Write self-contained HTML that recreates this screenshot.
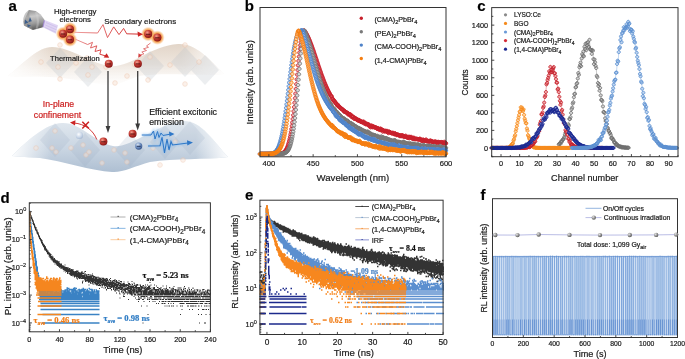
<!DOCTYPE html>
<html><head><meta charset="utf-8"><title>figure</title>
<style>html,body{margin:0;padding:0;background:#fff;overflow:hidden}svg{display:block;will-change:transform}text{stroke-width:0.2px}text:not([stroke]){stroke:#1a1a1a}</style>
</head><body><svg width="685" height="359" viewBox="0 0 685 359" font-family='"Liberation Sans", sans-serif' fill="#1a1a1a"><text x="8.6" y="10.6" font-size="15" font-weight="bold" fill="#000">a</text><text x="244.8" y="10.7" font-size="15" font-weight="bold" fill="#000">b</text><text x="477.2" y="10.6" font-size="15" font-weight="bold" fill="#000">c</text><text x="0.6" y="202.6" font-size="15" font-weight="bold" fill="#000">d</text><text x="245" y="200" font-size="15" font-weight="bold" fill="#000">e</text><text x="480.6" y="199.8" font-size="15" font-weight="bold" fill="#000">f</text><defs>
<linearGradient id="beige" x1="0" y1="0" x2="0" y2="1"><stop offset="0" stop-color="#e2d5c8"/><stop offset="0.5" stop-color="#efe7df"/><stop offset="1" stop-color="#fbf9f7" stop-opacity="0.3"/></linearGradient>
<linearGradient id="beigeH" x1="0" y1="0" x2="1" y2="0"><stop offset="0" stop-color="#fff" stop-opacity="0.9"/><stop offset="0.2" stop-color="#fff" stop-opacity="0"/><stop offset="0.8" stop-color="#fff" stop-opacity="0"/><stop offset="1" stop-color="#fff" stop-opacity="0.9"/></linearGradient>
<linearGradient id="bluesheet" x1="0" y1="0" x2="0" y2="1"><stop offset="0" stop-color="#e1e8ef"/><stop offset="0.55" stop-color="#c9d5e2"/><stop offset="1" stop-color="#aebfd2"/></linearGradient>
<linearGradient id="blueH" x1="0" y1="0" x2="1" y2="0"><stop offset="0" stop-color="#fff" stop-opacity="0.95"/><stop offset="0.18" stop-color="#fff" stop-opacity="0"/><stop offset="0.85" stop-color="#fff" stop-opacity="0"/><stop offset="1" stop-color="#fff" stop-opacity="0.95"/></linearGradient>
<radialGradient id="eball" cx="0.38" cy="0.32" r="0.75"><stop offset="0" stop-color="#f4a090"/><stop offset="0.45" stop-color="#c43a32"/><stop offset="1" stop-color="#7a1010"/></radialGradient>
<radialGradient id="hball" cx="0.38" cy="0.32" r="0.75"><stop offset="0" stop-color="#dce6f4"/><stop offset="0.5" stop-color="#6f8fc0"/><stop offset="1" stop-color="#2c4a80"/></radialGradient>
<radialGradient id="ghost" cx="0.4" cy="0.35" r="0.7"><stop offset="0" stop-color="#ffffff"/><stop offset="0.6" stop-color="#c9d6e8"/><stop offset="1" stop-color="#9fb3cf"/></radialGradient>
<radialGradient id="glow" cx="0.5" cy="0.5" r="0.5"><stop offset="0.5" stop-color="#f39238"/><stop offset="0.72" stop-color="#f7b06a" stop-opacity="0.85"/><stop offset="1" stop-color="#fbd3a8" stop-opacity="0"/></radialGradient>
<linearGradient id="gun" x1="0.2" y1="0" x2="0.4" y2="1"><stop offset="0" stop-color="#8e8e8e"/><stop offset="0.35" stop-color="#c9c9c9"/><stop offset="0.7" stop-color="#9a9a9a"/><stop offset="1" stop-color="#5a5a5a"/></linearGradient>
<linearGradient id="redline" gradientUnits="userSpaceOnUse" x1="75" y1="0" x2="140" y2="0"><stop offset="0" stop-color="#eea0a0"/><stop offset="0.5" stop-color="#e06060"/><stop offset="1" stop-color="#d02828"/></linearGradient><linearGradient id="redline2" gradientUnits="userSpaceOnUse" x1="75" y1="39" x2="108" y2="57"><stop offset="0" stop-color="#eea0a0"/><stop offset="1" stop-color="#d02828"/></linearGradient>
<filter id="blur1" x="-20%" y="-50%" width="140%" height="200%"><feGaussianBlur stdDeviation="1.1"/></filter>
</defs><path d="M8 76 C 25 62, 38 47, 52 47 C 70 47, 92 64, 110 66 C 130 68, 150 46, 178 44 C 196 43, 210 60, 224 74 C 200 76, 160 72, 140 76 C 125 80, 118 86, 110 85 C 95 84, 70 78, 50 77 C 30 76, 18 77, 8 76 Z" fill="url(#beige)"/><path d="M8 76 C 25 62, 38 47, 52 47 C 70 47, 92 64, 110 66 C 130 68, 150 46, 178 44 C 196 43, 210 60, 224 74 C 200 76, 160 72, 140 76 C 125 80, 118 86, 110 85 C 95 84, 70 78, 50 77 C 30 76, 18 77, 8 76 Z" fill="url(#beigeH)"/><path d="M60 48L74 63L60 78L46 63Z" fill="#b4bcc6" opacity="0.26"/><path d="M88 57L102 72L88 87L74 72Z" fill="#b4bcc6" opacity="0.26"/><path d="M150 51L164 66L150 81L136 66Z" fill="#b4bcc6" opacity="0.26"/><path d="M185 47L199 62L185 77L171 62Z" fill="#b4bcc6" opacity="0.26"/><path d="M205 55L219 70L205 85L191 70Z" fill="#b4bcc6" opacity="0.26"/><circle cx="41" cy="62" r="2.3" fill="#f8e6da" stroke="#ecbfa4" stroke-width="0.8" opacity="0.55"/><circle cx="60" cy="45" r="2.3" fill="#f8e6da" stroke="#ecbfa4" stroke-width="0.8" opacity="0.55"/><circle cx="60" cy="79" r="2.3" fill="#f8e6da" stroke="#ecbfa4" stroke-width="0.8" opacity="0.55"/><circle cx="58" cy="67" r="2.3" fill="#f8e6da" stroke="#ecbfa4" stroke-width="0.8" opacity="0.55"/><circle cx="76" cy="63" r="2.3" fill="#f8e6da" stroke="#ecbfa4" stroke-width="0.8" opacity="0.55"/><circle cx="87" cy="58" r="2.3" fill="#f8e6da" stroke="#ecbfa4" stroke-width="0.8" opacity="0.55"/><circle cx="88" cy="75" r="2.3" fill="#f8e6da" stroke="#ecbfa4" stroke-width="0.8" opacity="0.55"/><circle cx="92" cy="67" r="2.3" fill="#f8e6da" stroke="#ecbfa4" stroke-width="0.8" opacity="0.55"/><circle cx="106" cy="67" r="2.3" fill="#f8e6da" stroke="#ecbfa4" stroke-width="0.8" opacity="0.55"/><circle cx="127" cy="76" r="2.3" fill="#f8e6da" stroke="#ecbfa4" stroke-width="0.8" opacity="0.55"/><circle cx="148" cy="80" r="2.3" fill="#f8e6da" stroke="#ecbfa4" stroke-width="0.8" opacity="0.55"/><circle cx="135" cy="65" r="2.3" fill="#f8e6da" stroke="#ecbfa4" stroke-width="0.8" opacity="0.55"/><circle cx="150" cy="57" r="2.3" fill="#f8e6da" stroke="#ecbfa4" stroke-width="0.8" opacity="0.55"/><circle cx="170" cy="65" r="2.3" fill="#f8e6da" stroke="#ecbfa4" stroke-width="0.8" opacity="0.55"/><circle cx="185" cy="45" r="2.3" fill="#f8e6da" stroke="#ecbfa4" stroke-width="0.8" opacity="0.55"/><circle cx="185" cy="84" r="2.3" fill="#f8e6da" stroke="#ecbfa4" stroke-width="0.8" opacity="0.55"/><circle cx="199" cy="62" r="2.3" fill="#f8e6da" stroke="#ecbfa4" stroke-width="0.8" opacity="0.55"/><circle cx="115" cy="83" r="2.3" fill="#f8e6da" stroke="#ecbfa4" stroke-width="0.8" opacity="0.55"/><path d="M12 156 C 28 140, 45 124, 62 123 C 80 122, 96 143, 113 146 C 130 149, 160 122, 184 121 C 202 121, 214 142, 228 157 C 205 160, 175 158, 150 162 C 135 166, 122 173, 112 172 C 92 171, 62 161, 40 158 C 28 157, 20 157, 12 156 Z" fill="url(#bluesheet)"/><path d="M12 156 C 28 140, 45 124, 62 123 C 80 122, 96 143, 113 146 C 130 149, 160 122, 184 121 C 202 121, 214 142, 228 157 C 205 160, 175 158, 150 162 C 135 166, 122 173, 112 172 C 92 171, 62 161, 40 158 C 28 157, 20 157, 12 156 Z" fill="url(#blueH)"/><path d="M55 123L70 140L55 157L40 140Z" fill="#8ea2ba" opacity="0.16"/><path d="M85 133L100 150L85 167L70 150Z" fill="#8ea2ba" opacity="0.16"/><path d="M130 133L145 150L130 167L115 150Z" fill="#8ea2ba" opacity="0.16"/><path d="M165 125L180 142L165 159L150 142Z" fill="#8ea2ba" opacity="0.16"/><path d="M190 121L205 138L190 155L175 138Z" fill="#8ea2ba" opacity="0.16"/><circle cx="36" cy="148" r="2.3" fill="#f8e6da" stroke="#ecbfa4" stroke-width="0.8" opacity="0.5"/><circle cx="55" cy="131" r="2.3" fill="#f8e6da" stroke="#ecbfa4" stroke-width="0.8" opacity="0.5"/><circle cx="52" cy="148" r="2.3" fill="#f8e6da" stroke="#ecbfa4" stroke-width="0.8" opacity="0.5"/><circle cx="56" cy="152" r="2.3" fill="#f8e6da" stroke="#ecbfa4" stroke-width="0.8" opacity="0.5"/><circle cx="71" cy="148" r="2.3" fill="#f8e6da" stroke="#ecbfa4" stroke-width="0.8" opacity="0.5"/><circle cx="83" cy="145" r="2.3" fill="#f8e6da" stroke="#ecbfa4" stroke-width="0.8" opacity="0.5"/><circle cx="86" cy="155" r="2.3" fill="#f8e6da" stroke="#ecbfa4" stroke-width="0.8" opacity="0.5"/><circle cx="89" cy="152" r="2.3" fill="#f8e6da" stroke="#ecbfa4" stroke-width="0.8" opacity="0.5"/><circle cx="102" cy="163" r="2.3" fill="#f8e6da" stroke="#ecbfa4" stroke-width="0.8" opacity="0.5"/><circle cx="114" cy="150" r="2.3" fill="#f8e6da" stroke="#ecbfa4" stroke-width="0.8" opacity="0.5"/><circle cx="125" cy="153" r="2.3" fill="#f8e6da" stroke="#ecbfa4" stroke-width="0.8" opacity="0.5"/><circle cx="127" cy="162" r="2.3" fill="#f8e6da" stroke="#ecbfa4" stroke-width="0.8" opacity="0.5"/><circle cx="153" cy="148" r="2.3" fill="#f8e6da" stroke="#ecbfa4" stroke-width="0.8" opacity="0.5"/><circle cx="160" cy="165" r="2.3" fill="#f8e6da" stroke="#ecbfa4" stroke-width="0.8" opacity="0.5"/><circle cx="175" cy="142" r="2.3" fill="#f8e6da" stroke="#ecbfa4" stroke-width="0.8" opacity="0.5"/><circle cx="183" cy="160" r="2.3" fill="#f8e6da" stroke="#ecbfa4" stroke-width="0.8" opacity="0.5"/><path d="M29 10 L35.7 11.1 L40.7 14.5 L44.6 20 L42.9 27.3 L32.9 30.1 L24 25.6 L23.4 21.7 Z" fill="url(#gun)"/><path d="M29 10 C 25 12, 22.5 18, 23.4 21.7 L24 25.6 C 27 27, 30 29, 32.9 30.1 C 30 25, 29.5 16, 29 10 Z" fill="#8d8d8d" opacity="0.5"/><path d="M36 12 C 38 17, 38.5 24, 36.5 29" stroke="#d8d8d8" stroke-width="2.2" fill="none" opacity="0.35"/><path d="M25 19.5 L28.5 22.5 L24.6 24 Z M30 17 L31.8 21.3 L28.4 22 Z M27.2 24.2 L31 25.4 L27.8 27.6 Z" fill="#3d5f8c"/><path d="M44.6 20 L58 25.2 L55.8 33.8 L42.9 27.3 Z" fill="#dccff2" opacity="0.9"/><path d="M44.4 20.3 L43 27.2" stroke="#9b7fcf" stroke-width="1.2" opacity="0.8"/><path d="M46 22.6 L57 27.3 M45.3 25 L56.4 29.8 M44.7 27.3 L55.8 32.2" stroke="#b9a8de" stroke-width="0.5" opacity="0.8"/><circle cx="70" cy="29.2" r="7.4" fill="url(#glow)"/><circle cx="63.1" cy="33.8" r="7.4" fill="url(#glow)"/><circle cx="70" cy="39.6" r="7.4" fill="url(#glow)"/><circle cx="148.2" cy="34.1" r="7.4" fill="url(#glow)"/><circle cx="157.4" cy="37.6" r="7.4" fill="url(#glow)"/><path d="M74.6 32.3 L97.6 33 L103 24.6 L107.5 37.6 L113.7 26.9 L119 34.6 L123.6 28.4 L126.7 33.8 L139 34.1" stroke="url(#redline)" stroke-width="1.0" fill="none" stroke-linejoin="miter"/><path d="M143 34.2 L137.5 31.4 L138 36.8 Z" fill="#cc2424"/><path d="M75.3 39.2 L87.6 44.5 L92.5 42.3 L90.5 48 L96.8 45.8 L95 51.5 L101 49.8 L99.8 54.2 L105.8 56" stroke="url(#redline2)" stroke-width="1.0" fill="none"/><path d="M109.2 57.8 L103.6 57.6 L106.6 53.3 Z" fill="#cc2424"/><path d="M150.5 43 L146.5 46 L148.5 47.3 L143.5 48.8 L146.5 50.5 L141.8 52 L144 53.8 L140 55" stroke="#e07070" stroke-width="0.9" fill="none"/><path d="M138.2 57.8 L138.6 53.2 L141.8 55.8 Z" fill="#d44040"/><path d="M108 71 V127" stroke="#3b3b3b" stroke-width="1.3"/><path d="M108 133 L105.6 126 L110.4 126 Z" fill="#3b3b3b"/><path d="M137.7 71 V124" stroke="#3b3b3b" stroke-width="1.3"/><path d="M137.7 130.5 L135.3 123.5 L140.1 123.5 Z" fill="#3b3b3b"/><circle cx="70" cy="29.2" r="4" fill="url(#eball)"/><path d="M67.8 29.4h4.4" stroke="#3a0808" stroke-width="0.9" opacity="0.85"/><circle cx="63.1" cy="33.8" r="4" fill="url(#eball)"/><path d="M60.9 34h4.4" stroke="#3a0808" stroke-width="0.9" opacity="0.85"/><circle cx="70" cy="39.6" r="4" fill="url(#eball)"/><path d="M67.8 39.8h4.4" stroke="#3a0808" stroke-width="0.9" opacity="0.85"/><circle cx="148.2" cy="34.1" r="4" fill="url(#eball)"/><path d="M146 34.3h4.4" stroke="#3a0808" stroke-width="0.9" opacity="0.85"/><circle cx="157.4" cy="37.6" r="4" fill="url(#eball)"/><path d="M155.2 37.8h4.4" stroke="#3a0808" stroke-width="0.9" opacity="0.85"/><circle cx="108.8" cy="63.7" r="4" fill="url(#eball)"/><path d="M106.6 63.9h4.4" stroke="#3a0808" stroke-width="0.9" opacity="0.85"/><circle cx="137.9" cy="63.7" r="4" fill="url(#eball)"/><path d="M135.7 63.9h4.4" stroke="#3a0808" stroke-width="0.9" opacity="0.85"/><circle cx="103.4" cy="141.6" r="4" fill="url(#eball)"/><path d="M101.2 141.8h4.4" stroke="#3a0808" stroke-width="0.9" opacity="0.85"/><circle cx="132.6" cy="133.8" r="4" fill="url(#eball)"/><path d="M130.4 134h4.4" stroke="#3a0808" stroke-width="0.9" opacity="0.85"/><circle cx="138.7" cy="146.1" r="3.6" fill="url(#hball)"/><path d="M136.72 146.3h3.96" stroke="#1a2a50" stroke-width="0.9"/><circle cx="79.4" cy="135.4" r="3.6" fill="url(#ghost)" opacity="0.9"/><path d="M96.8 139.5 C 93 130, 85 124, 74 123" stroke="#d23a3a" stroke-width="1.0" fill="none"/><path d="M70 122.5 L75.5 120.2 L75 125.6 Z" fill="#cc2424"/><path d="M82.3 121.8 L88.9 128.6 M88.9 121.8 L82.3 128.6" stroke="#cc2020" stroke-width="1.5"/><g filter="url(#blur1)" opacity="0.6"><path d="M141.8 135 L151 135 L153.5 131 L155 139 L157.5 131.5 L159 137.5 L161 133 L163 135.5 L170 134.2" stroke="#8fc0f0" stroke-width="2.6" fill="none"/><path d="M148 146 L160 145.8 L162 137 L164.5 153 L167 139 L169 150 L171 141.5 L172.5 145 L188 143" stroke="#8fc0f0" stroke-width="2.6" fill="none"/></g><path d="M141.8 135 L151 135 L153.5 131 L155 139 L157.5 131.5 L159 137.5 L161 133 L163 135.5 L170 134.2" stroke="#2f78c8" stroke-width="1.0" fill="none"/><path d="M148 146 L160 145.8 L162 137 L164.5 153 L167 139 L169 150 L171 141.5 L172.5 145 L188 143" stroke="#2f78c8" stroke-width="1.1" fill="none"/><path d="M174.5 133.9 L169 131.6 L169.5 136.6 Z M193 142.6 L187 140.2 L187.3 145.4 Z" fill="#2f78c8"/><text x="75.2" y="13.6" font-size="7.8" text-anchor="middle" >High-energy</text><text x="75.2" y="22.4" font-size="7.8" text-anchor="middle" >electrons</text><text x="104.2" y="24" font-size="7.9" >Secondary electrons</text><text x="50.1" y="61.4" font-size="7.56" >Thermalization</text><text x="58.5" y="107.3" font-size="8.7" text-anchor="middle" fill="#cc2020" stroke="#cc2020" >In-plane</text><text x="57.5" y="117.6" font-size="8.7" text-anchor="middle" fill="#cc2020" stroke="#cc2020" >confinement</text><text x="149.2" y="114.5" font-size="8.8" >Efficient excitonic</text><text x="149.2" y="124.6" font-size="8.8" >emission</text><g stroke-width="0.9"><path d="M260 152.3a1.7 1.7 0 1 0 0.01 0zM260.44 152.3a1.7 1.7 0 1 0 0.01 0zM260.88 152.3a1.7 1.7 0 1 0 0.01 0zM261.32 152.3a1.7 1.7 0 1 0 0.01 0zM261.77 152.3a1.7 1.7 0 1 0 0.01 0zM262.21 152.3a1.7 1.7 0 1 0 0.01 0zM262.65 152.3a1.7 1.7 0 1 0 0.01 0zM263.1 152.3a1.7 1.7 0 1 0 0.01 0zM263.54 152.3a1.7 1.7 0 1 0 0.01 0zM263.98 152.3a1.7 1.7 0 1 0 0.01 0zM264.42 152.3a1.7 1.7 0 1 0 0.01 0zM264.87 152.3a1.7 1.7 0 1 0 0.01 0zM265.31 152.3a1.7 1.7 0 1 0 0.01 0zM265.75 152.3a1.7 1.7 0 1 0 0.01 0zM266.19 152.3a1.7 1.7 0 1 0 0.01 0zM266.64 152.3a1.7 1.7 0 1 0 0.01 0zM267.08 152.3a1.7 1.7 0 1 0 0.01 0zM267.52 152.3a1.7 1.7 0 1 0 0.01 0zM267.97 152.3a1.7 1.7 0 1 0 0.01 0zM268.41 152.3a1.7 1.7 0 1 0 0.01 0zM268.85 152.3a1.7 1.7 0 1 0 0.01 0zM269.3 152.3a1.7 1.7 0 1 0 0.01 0zM269.74 152.3a1.7 1.7 0 1 0 0.01 0zM270.18 152.3a1.7 1.7 0 1 0 0.01 0zM270.62 152.3a1.7 1.7 0 1 0 0.01 0zM271.07 152.3a1.7 1.7 0 1 0 0.01 0zM271.51 152.3a1.7 1.7 0 1 0 0.01 0zM271.95 152.3a1.7 1.7 0 1 0 0.01 0zM272.39 152.3a1.7 1.7 0 1 0 0.01 0zM272.84 152.3a1.7 1.7 0 1 0 0.01 0zM273.28 152.3a1.7 1.7 0 1 0 0.01 0zM273.72 152.3a1.7 1.7 0 1 0 0.01 0zM274.17 152.29a1.7 1.7 0 1 0 0.01 0zM274.61 152.29a1.7 1.7 0 1 0 0.01 0zM275.05 152.29a1.7 1.7 0 1 0 0.01 0zM275.5 152.29a1.7 1.7 0 1 0 0.01 0zM275.94 152.28a1.7 1.7 0 1 0 0.01 0zM276.38 152.27a1.7 1.7 0 1 0 0.01 0zM276.82 152.27a1.7 1.7 0 1 0 0.01 0zM277.27 152.26a1.7 1.7 0 1 0 0.01 0zM277.71 152.24a1.7 1.7 0 1 0 0.01 0zM278.15 152.22a1.7 1.7 0 1 0 0.01 0zM278.6 152.2a1.7 1.7 0 1 0 0.01 0zM279.04 152.17a1.7 1.7 0 1 0 0.01 0zM279.48 152.13a1.7 1.7 0 1 0 0.01 0zM279.92 152.08a1.7 1.7 0 1 0 0.01 0zM280.37 152.02a1.7 1.7 0 1 0 0.01 0zM280.81 151.95a1.7 1.7 0 1 0 0.01 0zM281.25 151.85a1.7 1.7 0 1 0 0.01 0zM281.69 151.74a1.7 1.7 0 1 0 0.01 0zM282.14 151.59a1.7 1.7 0 1 0 0.01 0zM282.58 151.42a1.7 1.7 0 1 0 0.01 0zM283.02 151.21a1.7 1.7 0 1 0 0.01 0zM283.47 150.95a1.7 1.7 0 1 0 0.01 0zM283.91 150.65a1.7 1.7 0 1 0 0.01 0zM284.35 150.28a1.7 1.7 0 1 0 0.01 0zM284.8 149.85a1.7 1.7 0 1 0 0.01 0zM285.24 149.34a1.7 1.7 0 1 0 0.01 0zM285.68 148.74a1.7 1.7 0 1 0 0.01 0zM286.12 148.04a1.7 1.7 0 1 0 0.01 0zM286.57 147.22a1.7 1.7 0 1 0 0.01 0zM287.01 146.29a1.7 1.7 0 1 0 0.01 0zM287.45 145.21a1.7 1.7 0 1 0 0.01 0zM287.89 143.98a1.7 1.7 0 1 0 0.01 0zM288.34 142.59a1.7 1.7 0 1 0 0.01 0zM288.78 141.02a1.7 1.7 0 1 0 0.01 0zM289.22 139.26a1.7 1.7 0 1 0 0.01 0zM289.67 137.3a1.7 1.7 0 1 0 0.01 0zM290.11 135.12a1.7 1.7 0 1 0 0.01 0zM290.55 132.73a1.7 1.7 0 1 0 0.01 0zM291 130.1a1.7 1.7 0 1 0 0.01 0zM291.44 127.25a1.7 1.7 0 1 0 0.01 0zM291.88 124.16a1.7 1.7 0 1 0 0.01 0zM292.32 120.84a1.7 1.7 0 1 0 0.01 0zM292.77 117.29a1.7 1.7 0 1 0 0.01 0zM293.21 113.52a1.7 1.7 0 1 0 0.01 0zM293.65 109.55a1.7 1.7 0 1 0 0.01 0zM294.1 105.38a1.7 1.7 0 1 0 0.01 0zM294.54 101.04a1.7 1.7 0 1 0 0.01 0zM294.98 96.55a1.7 1.7 0 1 0 0.01 0zM295.42 91.94a1.7 1.7 0 1 0 0.01 0zM295.87 87.24a1.7 1.7 0 1 0 0.01 0zM296.31 82.49a1.7 1.7 0 1 0 0.01 0zM296.75 77.71a1.7 1.7 0 1 0 0.01 0zM297.19 72.96a1.7 1.7 0 1 0 0.01 0zM297.64 68.27a1.7 1.7 0 1 0 0.01 0zM298.08 63.67a1.7 1.7 0 1 0 0.01 0zM298.52 59.22a1.7 1.7 0 1 0 0.01 0zM298.97 54.95a1.7 1.7 0 1 0 0.01 0zM299.41 50.91a1.7 1.7 0 1 0 0.01 0zM299.85 47.12a1.7 1.7 0 1 0 0.01 0zM300.3 43.63a1.7 1.7 0 1 0 0.01 0zM300.74 40.47a1.7 1.7 0 1 0 0.01 0zM301.18 37.66a1.7 1.7 0 1 0 0.01 0zM301.62 35.22a1.7 1.7 0 1 0 0.01 0zM302.07 33.17a1.7 1.7 0 1 0 0.01 0zM302.51 31.52a1.7 1.7 0 1 0 0.01 0zM302.95 30.27a1.7 1.7 0 1 0 0.01 0zM303.39 29.42a1.7 1.7 0 1 0 0.01 0zM303.84 28.94a1.7 1.7 0 1 0 0.01 0zM304.28 28.8a1.7 1.7 0 1 0 0.01 0zM304.72 29.42a1.7 1.7 0 1 0 0.01 0zM305.17 30.08a1.7 1.7 0 1 0 0.01 0zM305.61 30.78a1.7 1.7 0 1 0 0.01 0zM306.05 31.52a1.7 1.7 0 1 0 0.01 0zM306.5 32.31a1.7 1.7 0 1 0 0.01 0zM306.94 33.13a1.7 1.7 0 1 0 0.01 0zM307.38 34a1.7 1.7 0 1 0 0.01 0zM307.82 34.91a1.7 1.7 0 1 0 0.01 0zM308.27 35.85a1.7 1.7 0 1 0 0.01 0zM308.71 36.83a1.7 1.7 0 1 0 0.01 0zM309.15 37.85a1.7 1.7 0 1 0 0.01 0zM309.6 38.9a1.7 1.7 0 1 0 0.01 0zM310.04 39.98a1.7 1.7 0 1 0 0.01 0zM310.48 41.09a1.7 1.7 0 1 0 0.01 0zM310.92 42.23a1.7 1.7 0 1 0 0.01 0zM311.37 43.4a1.7 1.7 0 1 0 0.01 0zM311.81 44.6a1.7 1.7 0 1 0 0.01 0zM312.25 45.82a1.7 1.7 0 1 0 0.01 0zM312.69 47.06a1.7 1.7 0 1 0 0.01 0zM313.14 48.31a1.7 1.7 0 1 0 0.01 0zM313.58 49.59a1.7 1.7 0 1 0 0.01 0zM314.02 50.88a1.7 1.7 0 1 0 0.01 0zM314.47 52.18a1.7 1.7 0 1 0 0.01 0zM314.91 53.5a1.7 1.7 0 1 0 0.01 0zM315.35 54.82a1.7 1.7 0 1 0 0.01 0zM315.8 56.15a1.7 1.7 0 1 0 0.01 0zM316.24 57.48a1.7 1.7 0 1 0 0.01 0zM316.68 58.82a1.7 1.7 0 1 0 0.01 0zM317.12 60.15a1.7 1.7 0 1 0 0.01 0zM317.57 61.48a1.7 1.7 0 1 0 0.01 0zM318.01 62.81a1.7 1.7 0 1 0 0.01 0zM318.45 64.14a1.7 1.7 0 1 0 0.01 0zM318.89 65.45a1.7 1.7 0 1 0 0.01 0zM319.34 66.76a1.7 1.7 0 1 0 0.01 0zM319.78 68.06a1.7 1.7 0 1 0 0.01 0zM320.22 69.34a1.7 1.7 0 1 0 0.01 0zM320.67 70.61a1.7 1.7 0 1 0 0.01 0zM321.11 71.87a1.7 1.7 0 1 0 0.01 0zM321.55 73.11a1.7 1.7 0 1 0 0.01 0zM322 74.33a1.7 1.7 0 1 0 0.01 0zM322.44 75.53a1.7 1.7 0 1 0 0.01 0zM322.88 76.72a1.7 1.7 0 1 0 0.01 0zM323.32 77.88a1.7 1.7 0 1 0 0.01 0zM323.77 79.02a1.7 1.7 0 1 0 0.01 0zM324.21 80.14a1.7 1.7 0 1 0 0.01 0zM324.65 81.24a1.7 1.7 0 1 0 0.01 0zM325.1 82.32a1.7 1.7 0 1 0 0.01 0zM325.54 83.37a1.7 1.7 0 1 0 0.01 0zM325.98 84.4a1.7 1.7 0 1 0 0.01 0zM326.42 85.4a1.7 1.7 0 1 0 0.01 0zM326.87 86.38a1.7 1.7 0 1 0 0.01 0zM327.31 87.33a1.7 1.7 0 1 0 0.01 0zM327.75 88.27a1.7 1.7 0 1 0 0.01 0zM328.19 89.17a1.7 1.7 0 1 0 0.01 0zM328.64 90.06a1.7 1.7 0 1 0 0.01 0zM329.08 90.91a1.7 1.7 0 1 0 0.01 0zM329.52 91.75a1.7 1.7 0 1 0 0.01 0zM329.97 92.56a1.7 1.7 0 1 0 0.01 0zM330.41 93.35a1.7 1.7 0 1 0 0.01 0zM330.85 94.12a1.7 1.7 0 1 0 0.01 0zM331.3 94.7a1.7 1.7 0 1 0 0.01 0zM331.74 94.89a1.7 1.7 0 1 0 0.01 0zM332.18 97.01a1.7 1.7 0 1 0 0.01 0zM332.62 97.07a1.7 1.7 0 1 0 0.01 0zM333.07 97.94a1.7 1.7 0 1 0 0.01 0zM333.51 99.14a1.7 1.7 0 1 0 0.01 0zM333.95 98.53a1.7 1.7 0 1 0 0.01 0zM334.39 99.51a1.7 1.7 0 1 0 0.01 0zM334.84 100.05a1.7 1.7 0 1 0 0.01 0zM335.28 101.03a1.7 1.7 0 1 0 0.01 0zM335.72 100.99a1.7 1.7 0 1 0 0.01 0zM336.17 102.02a1.7 1.7 0 1 0 0.01 0zM336.61 102.34a1.7 1.7 0 1 0 0.01 0zM337.05 103.33a1.7 1.7 0 1 0 0.01 0zM337.5 103.88a1.7 1.7 0 1 0 0.01 0zM337.94 103.1a1.7 1.7 0 1 0 0.01 0zM338.38 104.47a1.7 1.7 0 1 0 0.01 0zM338.82 104.54a1.7 1.7 0 1 0 0.01 0zM339.27 105.14a1.7 1.7 0 1 0 0.01 0zM339.71 105.77a1.7 1.7 0 1 0 0.01 0zM340.15 106.23a1.7 1.7 0 1 0 0.01 0zM340.6 106.08a1.7 1.7 0 1 0 0.01 0zM341.04 106.94a1.7 1.7 0 1 0 0.01 0zM341.48 107.26a1.7 1.7 0 1 0 0.01 0zM341.92 107.56a1.7 1.7 0 1 0 0.01 0zM342.37 107.36a1.7 1.7 0 1 0 0.01 0zM342.81 107.97a1.7 1.7 0 1 0 0.01 0zM343.25 108.48a1.7 1.7 0 1 0 0.01 0zM343.69 109.3a1.7 1.7 0 1 0 0.01 0zM344.14 110.05a1.7 1.7 0 1 0 0.01 0zM344.58 109.24a1.7 1.7 0 1 0 0.01 0zM345.02 109.57a1.7 1.7 0 1 0 0.01 0zM345.47 110.44a1.7 1.7 0 1 0 0.01 0zM345.91 110.43a1.7 1.7 0 1 0 0.01 0zM346.35 110.62a1.7 1.7 0 1 0 0.01 0zM346.8 110.91a1.7 1.7 0 1 0 0.01 0zM347.24 111.17a1.7 1.7 0 1 0 0.01 0zM347.68 112.16a1.7 1.7 0 1 0 0.01 0zM348.12 111.48a1.7 1.7 0 1 0 0.01 0zM348.57 113.14a1.7 1.7 0 1 0 0.01 0zM349.01 112.39a1.7 1.7 0 1 0 0.01 0zM349.45 112.86a1.7 1.7 0 1 0 0.01 0zM349.89 112.95a1.7 1.7 0 1 0 0.01 0zM350.34 112.73a1.7 1.7 0 1 0 0.01 0zM350.78 113.2a1.7 1.7 0 1 0 0.01 0zM351.22 114.78a1.7 1.7 0 1 0 0.01 0zM351.67 115.31a1.7 1.7 0 1 0 0.01 0zM352.11 114.34a1.7 1.7 0 1 0 0.01 0zM352.55 115.51a1.7 1.7 0 1 0 0.01 0zM353 115.28a1.7 1.7 0 1 0 0.01 0zM353.44 115.12a1.7 1.7 0 1 0 0.01 0zM353.88 116.6a1.7 1.7 0 1 0 0.01 0zM354.32 117.08a1.7 1.7 0 1 0 0.01 0zM354.77 116.16a1.7 1.7 0 1 0 0.01 0zM355.21 116.52a1.7 1.7 0 1 0 0.01 0zM355.65 116.91a1.7 1.7 0 1 0 0.01 0zM356.1 117.01a1.7 1.7 0 1 0 0.01 0zM356.54 117.7a1.7 1.7 0 1 0 0.01 0zM356.98 118.26a1.7 1.7 0 1 0 0.01 0zM357.42 117.83a1.7 1.7 0 1 0 0.01 0zM357.87 118.46a1.7 1.7 0 1 0 0.01 0zM358.31 119.03a1.7 1.7 0 1 0 0.01 0zM358.75 118.2a1.7 1.7 0 1 0 0.01 0zM359.19 118.71a1.7 1.7 0 1 0 0.01 0zM359.64 118.71a1.7 1.7 0 1 0 0.01 0zM360.08 119.62a1.7 1.7 0 1 0 0.01 0zM360.52 119.68a1.7 1.7 0 1 0 0.01 0zM360.97 120.07a1.7 1.7 0 1 0 0.01 0zM361.41 120.24a1.7 1.7 0 1 0 0.01 0zM361.85 119.92a1.7 1.7 0 1 0 0.01 0zM362.3 120.62a1.7 1.7 0 1 0 0.01 0zM362.74 120.27a1.7 1.7 0 1 0 0.01 0zM363.18 120.5a1.7 1.7 0 1 0 0.01 0zM363.62 119.87a1.7 1.7 0 1 0 0.01 0zM364.07 121.77a1.7 1.7 0 1 0 0.01 0zM364.51 120.85a1.7 1.7 0 1 0 0.01 0zM364.95 121.54a1.7 1.7 0 1 0 0.01 0zM365.39 121.71a1.7 1.7 0 1 0 0.01 0zM365.84 122.62a1.7 1.7 0 1 0 0.01 0zM366.28 122.34a1.7 1.7 0 1 0 0.01 0zM366.72 121.94a1.7 1.7 0 1 0 0.01 0zM367.17 122.55a1.7 1.7 0 1 0 0.01 0zM367.61 122.67a1.7 1.7 0 1 0 0.01 0zM368.05 123.05a1.7 1.7 0 1 0 0.01 0zM368.5 122.53a1.7 1.7 0 1 0 0.01 0zM368.94 123.3a1.7 1.7 0 1 0 0.01 0zM369.38 124.57a1.7 1.7 0 1 0 0.01 0zM369.82 124.01a1.7 1.7 0 1 0 0.01 0zM370.27 124.83a1.7 1.7 0 1 0 0.01 0zM370.71 125.65a1.7 1.7 0 1 0 0.01 0zM371.15 124.49a1.7 1.7 0 1 0 0.01 0zM371.6 123.76a1.7 1.7 0 1 0 0.01 0zM372.04 124.57a1.7 1.7 0 1 0 0.01 0zM372.48 125.36a1.7 1.7 0 1 0 0.01 0zM372.92 125.42a1.7 1.7 0 1 0 0.01 0zM373.37 124.58a1.7 1.7 0 1 0 0.01 0zM373.81 125.23a1.7 1.7 0 1 0 0.01 0zM374.25 125.46a1.7 1.7 0 1 0 0.01 0zM374.69 125.69a1.7 1.7 0 1 0 0.01 0zM375.14 125.82a1.7 1.7 0 1 0 0.01 0zM375.58 125.61a1.7 1.7 0 1 0 0.01 0zM376.02 125.9a1.7 1.7 0 1 0 0.01 0zM376.47 126.24a1.7 1.7 0 1 0 0.01 0zM376.91 127.03a1.7 1.7 0 1 0 0.01 0zM377.35 126.43a1.7 1.7 0 1 0 0.01 0zM377.8 127.18a1.7 1.7 0 1 0 0.01 0zM378.24 126.47a1.7 1.7 0 1 0 0.01 0zM378.68 127.8a1.7 1.7 0 1 0 0.01 0zM379.12 127.4a1.7 1.7 0 1 0 0.01 0zM379.57 127.49a1.7 1.7 0 1 0 0.01 0zM380.01 128.3a1.7 1.7 0 1 0 0.01 0zM380.45 126.96a1.7 1.7 0 1 0 0.01 0zM380.89 127.24a1.7 1.7 0 1 0 0.01 0zM381.34 128.35a1.7 1.7 0 1 0 0.01 0zM381.78 127.89a1.7 1.7 0 1 0 0.01 0zM382.22 128.24a1.7 1.7 0 1 0 0.01 0zM382.67 129.87a1.7 1.7 0 1 0 0.01 0zM383.11 128.6a1.7 1.7 0 1 0 0.01 0zM383.55 128.91a1.7 1.7 0 1 0 0.01 0zM384 128.98a1.7 1.7 0 1 0 0.01 0zM384.44 129.7a1.7 1.7 0 1 0 0.01 0zM384.88 129.45a1.7 1.7 0 1 0 0.01 0zM385.32 129.55a1.7 1.7 0 1 0 0.01 0zM385.77 129.02a1.7 1.7 0 1 0 0.01 0zM386.21 129.58a1.7 1.7 0 1 0 0.01 0zM386.65 129.89a1.7 1.7 0 1 0 0.01 0zM387.1 129.27a1.7 1.7 0 1 0 0.01 0zM387.54 130.44a1.7 1.7 0 1 0 0.01 0zM387.98 130.5a1.7 1.7 0 1 0 0.01 0zM388.42 131.34a1.7 1.7 0 1 0 0.01 0zM388.87 129.8a1.7 1.7 0 1 0 0.01 0zM389.31 130.24a1.7 1.7 0 1 0 0.01 0zM389.75 130.39a1.7 1.7 0 1 0 0.01 0zM390.19 130.65a1.7 1.7 0 1 0 0.01 0zM390.64 131.06a1.7 1.7 0 1 0 0.01 0zM391.08 131.13a1.7 1.7 0 1 0 0.01 0zM391.52 131.49a1.7 1.7 0 1 0 0.01 0zM391.97 131.6a1.7 1.7 0 1 0 0.01 0zM392.41 131.6a1.7 1.7 0 1 0 0.01 0zM392.85 131.01a1.7 1.7 0 1 0 0.01 0zM393.3 131.6a1.7 1.7 0 1 0 0.01 0zM393.74 132.03a1.7 1.7 0 1 0 0.01 0zM394.18 132.41a1.7 1.7 0 1 0 0.01 0zM394.62 132.56a1.7 1.7 0 1 0 0.01 0zM395.07 131.58a1.7 1.7 0 1 0 0.01 0zM395.51 132.24a1.7 1.7 0 1 0 0.01 0zM395.95 132.58a1.7 1.7 0 1 0 0.01 0zM396.39 132.9a1.7 1.7 0 1 0 0.01 0zM396.84 133.4a1.7 1.7 0 1 0 0.01 0zM397.28 133a1.7 1.7 0 1 0 0.01 0zM397.72 132.65a1.7 1.7 0 1 0 0.01 0zM398.17 133.39a1.7 1.7 0 1 0 0.01 0zM398.61 133.43a1.7 1.7 0 1 0 0.01 0zM399.05 133.54a1.7 1.7 0 1 0 0.01 0zM399.5 133.49a1.7 1.7 0 1 0 0.01 0zM399.94 134.44a1.7 1.7 0 1 0 0.01 0zM400.38 133.88a1.7 1.7 0 1 0 0.01 0zM400.82 134.3a1.7 1.7 0 1 0 0.01 0zM401.27 133.55a1.7 1.7 0 1 0 0.01 0zM401.71 134.47a1.7 1.7 0 1 0 0.01 0zM402.15 133.91a1.7 1.7 0 1 0 0.01 0zM402.6 133.55a1.7 1.7 0 1 0 0.01 0zM403.04 134.57a1.7 1.7 0 1 0 0.01 0zM403.48 134.81a1.7 1.7 0 1 0 0.01 0zM403.92 134.53a1.7 1.7 0 1 0 0.01 0zM404.37 134.73a1.7 1.7 0 1 0 0.01 0zM404.81 135.32a1.7 1.7 0 1 0 0.01 0zM405.25 134.7a1.7 1.7 0 1 0 0.01 0zM405.69 134.04a1.7 1.7 0 1 0 0.01 0zM406.14 135.26a1.7 1.7 0 1 0 0.01 0zM406.58 135.33a1.7 1.7 0 1 0 0.01 0zM407.02 135.85a1.7 1.7 0 1 0 0.01 0zM407.47 135.27a1.7 1.7 0 1 0 0.01 0zM407.91 136.14a1.7 1.7 0 1 0 0.01 0zM408.35 136.17a1.7 1.7 0 1 0 0.01 0zM408.8 135.09a1.7 1.7 0 1 0 0.01 0zM409.24 136.26a1.7 1.7 0 1 0 0.01 0zM409.68 135.37a1.7 1.7 0 1 0 0.01 0zM410.12 135.25a1.7 1.7 0 1 0 0.01 0zM410.57 135.97a1.7 1.7 0 1 0 0.01 0zM411.01 135.91a1.7 1.7 0 1 0 0.01 0zM411.45 135.31a1.7 1.7 0 1 0 0.01 0zM411.89 136.47a1.7 1.7 0 1 0 0.01 0zM412.34 136.75a1.7 1.7 0 1 0 0.01 0zM412.78 137.22a1.7 1.7 0 1 0 0.01 0zM413.22 136.62a1.7 1.7 0 1 0 0.01 0zM413.67 135.99a1.7 1.7 0 1 0 0.01 0zM414.11 136.34a1.7 1.7 0 1 0 0.01 0zM414.55 137.36a1.7 1.7 0 1 0 0.01 0zM415 137.41a1.7 1.7 0 1 0 0.01 0zM415.44 137.32a1.7 1.7 0 1 0 0.01 0zM415.88 137.01a1.7 1.7 0 1 0 0.01 0zM416.32 137.34a1.7 1.7 0 1 0 0.01 0zM416.77 137.22a1.7 1.7 0 1 0 0.01 0zM417.21 137.26a1.7 1.7 0 1 0 0.01 0zM417.65 137.63a1.7 1.7 0 1 0 0.01 0zM418.1 137.59a1.7 1.7 0 1 0 0.01 0zM418.54 137.55a1.7 1.7 0 1 0 0.01 0zM418.98 137.77a1.7 1.7 0 1 0 0.01 0zM419.42 137.56a1.7 1.7 0 1 0 0.01 0zM419.87 136.96a1.7 1.7 0 1 0 0.01 0zM420.31 137.67a1.7 1.7 0 1 0 0.01 0zM420.75 138.02a1.7 1.7 0 1 0 0.01 0zM421.2 138.95a1.7 1.7 0 1 0 0.01 0zM421.64 138.01a1.7 1.7 0 1 0 0.01 0zM422.08 139.23a1.7 1.7 0 1 0 0.01 0zM422.52 139.04a1.7 1.7 0 1 0 0.01 0zM422.97 138a1.7 1.7 0 1 0 0.01 0zM423.41 138.15a1.7 1.7 0 1 0 0.01 0zM423.85 138.64a1.7 1.7 0 1 0 0.01 0zM424.29 139.49a1.7 1.7 0 1 0 0.01 0zM424.74 138.9a1.7 1.7 0 1 0 0.01 0zM425.18 139.12a1.7 1.7 0 1 0 0.01 0zM425.62 138.55a1.7 1.7 0 1 0 0.01 0zM426.07 137.82a1.7 1.7 0 1 0 0.01 0zM426.51 138.89a1.7 1.7 0 1 0 0.01 0zM426.95 139.46a1.7 1.7 0 1 0 0.01 0zM427.39 139.72a1.7 1.7 0 1 0 0.01 0zM427.84 139.24a1.7 1.7 0 1 0 0.01 0zM428.28 139.36a1.7 1.7 0 1 0 0.01 0zM428.72 139.91a1.7 1.7 0 1 0 0.01 0zM429.17 139.35a1.7 1.7 0 1 0 0.01 0zM429.61 140.05a1.7 1.7 0 1 0 0.01 0zM430.05 138.99a1.7 1.7 0 1 0 0.01 0zM430.5 139.08a1.7 1.7 0 1 0 0.01 0zM430.94 139.14a1.7 1.7 0 1 0 0.01 0zM431.38 139.97a1.7 1.7 0 1 0 0.01 0zM431.82 139.55a1.7 1.7 0 1 0 0.01 0zM432.27 139.93a1.7 1.7 0 1 0 0.01 0zM432.71 140.12a1.7 1.7 0 1 0 0.01 0zM433.15 140.16a1.7 1.7 0 1 0 0.01 0zM433.6 140.7a1.7 1.7 0 1 0 0.01 0zM434.04 140.83a1.7 1.7 0 1 0 0.01 0zM434.48 139.78a1.7 1.7 0 1 0 0.01 0zM434.92 140.33a1.7 1.7 0 1 0 0.01 0zM435.37 140.19a1.7 1.7 0 1 0 0.01 0zM435.81 139.86a1.7 1.7 0 1 0 0.01 0zM436.25 141.27a1.7 1.7 0 1 0 0.01 0zM436.69 140.86a1.7 1.7 0 1 0 0.01 0zM437.14 140.45a1.7 1.7 0 1 0 0.01 0zM437.58 140.4a1.7 1.7 0 1 0 0.01 0zM438.02 140.84a1.7 1.7 0 1 0 0.01 0zM438.47 140.2a1.7 1.7 0 1 0 0.01 0zM438.91 140.66a1.7 1.7 0 1 0 0.01 0zM439.35 141.42a1.7 1.7 0 1 0 0.01 0zM439.8 141.33a1.7 1.7 0 1 0 0.01 0zM440.24 140.53a1.7 1.7 0 1 0 0.01 0zM440.68 140.76a1.7 1.7 0 1 0 0.01 0zM441.12 141.98a1.7 1.7 0 1 0 0.01 0zM441.57 140.43a1.7 1.7 0 1 0 0.01 0zM442.01 140.85a1.7 1.7 0 1 0 0.01 0zM442.45 140.54a1.7 1.7 0 1 0 0.01 0zM442.89 141.44a1.7 1.7 0 1 0 0.01 0zM443.34 141.45a1.7 1.7 0 1 0 0.01 0zM443.78 141.91a1.7 1.7 0 1 0 0.01 0zM444.22 140.15a1.7 1.7 0 1 0 0.01 0zM444.67 141.55a1.7 1.7 0 1 0 0.01 0zM445.11 140.73a1.7 1.7 0 1 0 0.01 0zM445.55 141.88a1.7 1.7 0 1 0 0.01 0zM446 141.53a1.7 1.7 0 1 0 0.01 0z" stroke="#c8202c" fill="#f2b4b4"/><path d="M260 152.3a1.7 1.7 0 1 0 0.01 0zM260.44 152.3a1.7 1.7 0 1 0 0.01 0zM260.88 152.3a1.7 1.7 0 1 0 0.01 0zM261.32 152.3a1.7 1.7 0 1 0 0.01 0zM261.77 152.3a1.7 1.7 0 1 0 0.01 0zM262.21 152.3a1.7 1.7 0 1 0 0.01 0zM262.65 152.3a1.7 1.7 0 1 0 0.01 0zM263.1 152.3a1.7 1.7 0 1 0 0.01 0zM263.54 152.3a1.7 1.7 0 1 0 0.01 0zM263.98 152.3a1.7 1.7 0 1 0 0.01 0zM264.42 152.3a1.7 1.7 0 1 0 0.01 0zM264.87 152.3a1.7 1.7 0 1 0 0.01 0zM265.31 152.3a1.7 1.7 0 1 0 0.01 0zM265.75 152.3a1.7 1.7 0 1 0 0.01 0zM266.19 152.3a1.7 1.7 0 1 0 0.01 0zM266.64 152.3a1.7 1.7 0 1 0 0.01 0zM267.08 152.3a1.7 1.7 0 1 0 0.01 0zM267.52 152.3a1.7 1.7 0 1 0 0.01 0zM267.97 152.3a1.7 1.7 0 1 0 0.01 0zM268.41 152.3a1.7 1.7 0 1 0 0.01 0zM268.85 152.3a1.7 1.7 0 1 0 0.01 0zM269.3 152.3a1.7 1.7 0 1 0 0.01 0zM269.74 152.3a1.7 1.7 0 1 0 0.01 0zM270.18 152.3a1.7 1.7 0 1 0 0.01 0zM270.62 152.3a1.7 1.7 0 1 0 0.01 0zM271.07 152.3a1.7 1.7 0 1 0 0.01 0zM271.51 152.3a1.7 1.7 0 1 0 0.01 0zM271.95 152.3a1.7 1.7 0 1 0 0.01 0zM272.39 152.3a1.7 1.7 0 1 0 0.01 0zM272.84 152.3a1.7 1.7 0 1 0 0.01 0zM273.28 152.3a1.7 1.7 0 1 0 0.01 0zM273.72 152.3a1.7 1.7 0 1 0 0.01 0zM274.17 152.3a1.7 1.7 0 1 0 0.01 0zM274.61 152.3a1.7 1.7 0 1 0 0.01 0zM275.05 152.3a1.7 1.7 0 1 0 0.01 0zM275.5 152.29a1.7 1.7 0 1 0 0.01 0zM275.94 152.29a1.7 1.7 0 1 0 0.01 0zM276.38 152.29a1.7 1.7 0 1 0 0.01 0zM276.82 152.29a1.7 1.7 0 1 0 0.01 0zM277.27 152.28a1.7 1.7 0 1 0 0.01 0zM277.71 152.28a1.7 1.7 0 1 0 0.01 0zM278.15 152.27a1.7 1.7 0 1 0 0.01 0zM278.6 152.26a1.7 1.7 0 1 0 0.01 0zM279.04 152.25a1.7 1.7 0 1 0 0.01 0zM279.48 152.24a1.7 1.7 0 1 0 0.01 0zM279.92 152.22a1.7 1.7 0 1 0 0.01 0zM280.37 152.2a1.7 1.7 0 1 0 0.01 0zM280.81 152.18a1.7 1.7 0 1 0 0.01 0zM281.25 152.14a1.7 1.7 0 1 0 0.01 0zM281.69 152.1a1.7 1.7 0 1 0 0.01 0zM282.14 152.05a1.7 1.7 0 1 0 0.01 0zM282.58 151.98a1.7 1.7 0 1 0 0.01 0zM283.02 151.9a1.7 1.7 0 1 0 0.01 0zM283.47 151.8a1.7 1.7 0 1 0 0.01 0zM283.91 151.69a1.7 1.7 0 1 0 0.01 0zM284.35 151.54a1.7 1.7 0 1 0 0.01 0zM284.8 151.36a1.7 1.7 0 1 0 0.01 0zM285.24 151.15a1.7 1.7 0 1 0 0.01 0zM285.68 150.9a1.7 1.7 0 1 0 0.01 0zM286.12 150.6a1.7 1.7 0 1 0 0.01 0zM286.57 150.24a1.7 1.7 0 1 0 0.01 0zM287.01 149.81a1.7 1.7 0 1 0 0.01 0zM287.45 149.31a1.7 1.7 0 1 0 0.01 0zM287.89 148.72a1.7 1.7 0 1 0 0.01 0zM288.34 148.03a1.7 1.7 0 1 0 0.01 0zM288.78 147.23a1.7 1.7 0 1 0 0.01 0zM289.22 146.31a1.7 1.7 0 1 0 0.01 0zM289.67 145.24a1.7 1.7 0 1 0 0.01 0zM290.11 144.03a1.7 1.7 0 1 0 0.01 0zM290.55 142.64a1.7 1.7 0 1 0 0.01 0zM291 141.08a1.7 1.7 0 1 0 0.01 0zM291.44 139.31a1.7 1.7 0 1 0 0.01 0zM291.88 137.33a1.7 1.7 0 1 0 0.01 0zM292.32 135.11a1.7 1.7 0 1 0 0.01 0zM292.77 132.66a1.7 1.7 0 1 0 0.01 0zM293.21 129.95a1.7 1.7 0 1 0 0.01 0zM293.65 126.98a1.7 1.7 0 1 0 0.01 0zM294.1 123.74a1.7 1.7 0 1 0 0.01 0zM294.54 120.23a1.7 1.7 0 1 0 0.01 0zM294.98 116.45a1.7 1.7 0 1 0 0.01 0zM295.42 112.39a1.7 1.7 0 1 0 0.01 0zM295.87 108.08a1.7 1.7 0 1 0 0.01 0zM296.31 103.52a1.7 1.7 0 1 0 0.01 0zM296.75 98.74a1.7 1.7 0 1 0 0.01 0zM297.19 93.76a1.7 1.7 0 1 0 0.01 0zM297.64 88.61a1.7 1.7 0 1 0 0.01 0zM298.08 83.33a1.7 1.7 0 1 0 0.01 0zM298.52 77.97a1.7 1.7 0 1 0 0.01 0zM298.97 72.57a1.7 1.7 0 1 0 0.01 0zM299.41 67.19a1.7 1.7 0 1 0 0.01 0zM299.85 61.89a1.7 1.7 0 1 0 0.01 0zM300.3 56.74a1.7 1.7 0 1 0 0.01 0zM300.74 51.8a1.7 1.7 0 1 0 0.01 0zM301.18 47.15a1.7 1.7 0 1 0 0.01 0zM301.62 42.86a1.7 1.7 0 1 0 0.01 0zM302.07 38.99a1.7 1.7 0 1 0 0.01 0zM302.51 35.63a1.7 1.7 0 1 0 0.01 0zM302.95 32.85a1.7 1.7 0 1 0 0.01 0zM303.39 30.73a1.7 1.7 0 1 0 0.01 0zM303.84 29.33a1.7 1.7 0 1 0 0.01 0zM304.28 28.8a1.7 1.7 0 1 0 0.01 0zM304.72 29.72a1.7 1.7 0 1 0 0.01 0zM305.17 30.69a1.7 1.7 0 1 0 0.01 0zM305.61 31.71a1.7 1.7 0 1 0 0.01 0zM306.05 32.77a1.7 1.7 0 1 0 0.01 0zM306.5 33.88a1.7 1.7 0 1 0 0.01 0zM306.94 35.03a1.7 1.7 0 1 0 0.01 0zM307.38 36.23a1.7 1.7 0 1 0 0.01 0zM307.82 37.46a1.7 1.7 0 1 0 0.01 0zM308.27 38.74a1.7 1.7 0 1 0 0.01 0zM308.71 40.05a1.7 1.7 0 1 0 0.01 0zM309.15 41.4a1.7 1.7 0 1 0 0.01 0zM309.6 42.79a1.7 1.7 0 1 0 0.01 0zM310.04 44.2a1.7 1.7 0 1 0 0.01 0zM310.48 45.65a1.7 1.7 0 1 0 0.01 0zM310.92 47.12a1.7 1.7 0 1 0 0.01 0zM311.37 48.61a1.7 1.7 0 1 0 0.01 0zM311.81 50.12a1.7 1.7 0 1 0 0.01 0zM312.25 51.65a1.7 1.7 0 1 0 0.01 0zM312.69 53.19a1.7 1.7 0 1 0 0.01 0zM313.14 54.75a1.7 1.7 0 1 0 0.01 0zM313.58 56.31a1.7 1.7 0 1 0 0.01 0zM314.02 57.88a1.7 1.7 0 1 0 0.01 0zM314.47 59.45a1.7 1.7 0 1 0 0.01 0zM314.91 61.02a1.7 1.7 0 1 0 0.01 0zM315.35 62.59a1.7 1.7 0 1 0 0.01 0zM315.8 64.15a1.7 1.7 0 1 0 0.01 0zM316.24 65.7a1.7 1.7 0 1 0 0.01 0zM316.68 67.24a1.7 1.7 0 1 0 0.01 0zM317.12 68.77a1.7 1.7 0 1 0 0.01 0zM317.57 70.28a1.7 1.7 0 1 0 0.01 0zM318.01 71.78a1.7 1.7 0 1 0 0.01 0zM318.45 73.25a1.7 1.7 0 1 0 0.01 0zM318.89 74.7a1.7 1.7 0 1 0 0.01 0zM319.34 76.13a1.7 1.7 0 1 0 0.01 0zM319.78 77.53a1.7 1.7 0 1 0 0.01 0zM320.22 78.91a1.7 1.7 0 1 0 0.01 0zM320.67 80.26a1.7 1.7 0 1 0 0.01 0zM321.11 81.58a1.7 1.7 0 1 0 0.01 0zM321.55 82.88a1.7 1.7 0 1 0 0.01 0zM322 84.14a1.7 1.7 0 1 0 0.01 0zM322.44 85.37a1.7 1.7 0 1 0 0.01 0zM322.88 86.57a1.7 1.7 0 1 0 0.01 0zM323.32 87.74a1.7 1.7 0 1 0 0.01 0zM323.77 88.88a1.7 1.7 0 1 0 0.01 0zM324.21 89.99a1.7 1.7 0 1 0 0.01 0zM324.65 91.06a1.7 1.7 0 1 0 0.01 0zM325.1 92.11a1.7 1.7 0 1 0 0.01 0zM325.54 93.12a1.7 1.7 0 1 0 0.01 0zM325.98 94.1a1.7 1.7 0 1 0 0.01 0zM326.42 95.06a1.7 1.7 0 1 0 0.01 0zM326.87 95.98a1.7 1.7 0 1 0 0.01 0zM327.31 96.88a1.7 1.7 0 1 0 0.01 0zM327.75 97.74a1.7 1.7 0 1 0 0.01 0zM328.19 98.58a1.7 1.7 0 1 0 0.01 0zM328.64 99.4a1.7 1.7 0 1 0 0.01 0zM329.08 100.19a1.7 1.7 0 1 0 0.01 0zM329.52 100.95a1.7 1.7 0 1 0 0.01 0zM329.97 101.69a1.7 1.7 0 1 0 0.01 0zM330.41 102.4a1.7 1.7 0 1 0 0.01 0zM330.85 103.1a1.7 1.7 0 1 0 0.01 0zM331.3 102.98a1.7 1.7 0 1 0 0.01 0zM331.74 104.47a1.7 1.7 0 1 0 0.01 0zM332.18 105.17a1.7 1.7 0 1 0 0.01 0zM332.62 106.29a1.7 1.7 0 1 0 0.01 0zM333.07 106.61a1.7 1.7 0 1 0 0.01 0zM333.51 106.63a1.7 1.7 0 1 0 0.01 0zM333.95 107.21a1.7 1.7 0 1 0 0.01 0zM334.39 107.9a1.7 1.7 0 1 0 0.01 0zM334.84 107.99a1.7 1.7 0 1 0 0.01 0zM335.28 109.38a1.7 1.7 0 1 0 0.01 0zM335.72 109.54a1.7 1.7 0 1 0 0.01 0zM336.17 109.64a1.7 1.7 0 1 0 0.01 0zM336.61 110.19a1.7 1.7 0 1 0 0.01 0zM337.05 110.42a1.7 1.7 0 1 0 0.01 0zM337.5 111.22a1.7 1.7 0 1 0 0.01 0zM337.94 112.01a1.7 1.7 0 1 0 0.01 0zM338.38 112.12a1.7 1.7 0 1 0 0.01 0zM338.82 113.23a1.7 1.7 0 1 0 0.01 0zM339.27 113.96a1.7 1.7 0 1 0 0.01 0zM339.71 113.28a1.7 1.7 0 1 0 0.01 0zM340.15 114a1.7 1.7 0 1 0 0.01 0zM340.6 114.22a1.7 1.7 0 1 0 0.01 0zM341.04 115.6a1.7 1.7 0 1 0 0.01 0zM341.48 115.33a1.7 1.7 0 1 0 0.01 0zM341.92 115.82a1.7 1.7 0 1 0 0.01 0zM342.37 116.33a1.7 1.7 0 1 0 0.01 0zM342.81 117.38a1.7 1.7 0 1 0 0.01 0zM343.25 116.79a1.7 1.7 0 1 0 0.01 0zM343.69 116.54a1.7 1.7 0 1 0 0.01 0zM344.14 117.14a1.7 1.7 0 1 0 0.01 0zM344.58 117.97a1.7 1.7 0 1 0 0.01 0zM345.02 118.03a1.7 1.7 0 1 0 0.01 0zM345.47 117.98a1.7 1.7 0 1 0 0.01 0zM345.91 120.05a1.7 1.7 0 1 0 0.01 0zM346.35 119.07a1.7 1.7 0 1 0 0.01 0zM346.8 119.07a1.7 1.7 0 1 0 0.01 0zM347.24 119.32a1.7 1.7 0 1 0 0.01 0zM347.68 119.13a1.7 1.7 0 1 0 0.01 0zM348.12 119.72a1.7 1.7 0 1 0 0.01 0zM348.57 120.43a1.7 1.7 0 1 0 0.01 0zM349.01 120.74a1.7 1.7 0 1 0 0.01 0zM349.45 120.8a1.7 1.7 0 1 0 0.01 0zM349.89 121.75a1.7 1.7 0 1 0 0.01 0zM350.34 121.8a1.7 1.7 0 1 0 0.01 0zM350.78 121.62a1.7 1.7 0 1 0 0.01 0zM351.22 121.39a1.7 1.7 0 1 0 0.01 0zM351.67 122.72a1.7 1.7 0 1 0 0.01 0zM352.11 122.94a1.7 1.7 0 1 0 0.01 0zM352.55 123.1a1.7 1.7 0 1 0 0.01 0zM353 122.81a1.7 1.7 0 1 0 0.01 0zM353.44 123.76a1.7 1.7 0 1 0 0.01 0zM353.88 123.28a1.7 1.7 0 1 0 0.01 0zM354.32 124.75a1.7 1.7 0 1 0 0.01 0zM354.77 124.63a1.7 1.7 0 1 0 0.01 0zM355.21 124.89a1.7 1.7 0 1 0 0.01 0zM355.65 124.66a1.7 1.7 0 1 0 0.01 0zM356.1 124.79a1.7 1.7 0 1 0 0.01 0zM356.54 126.3a1.7 1.7 0 1 0 0.01 0zM356.98 126.25a1.7 1.7 0 1 0 0.01 0zM357.42 125.88a1.7 1.7 0 1 0 0.01 0zM357.87 126.61a1.7 1.7 0 1 0 0.01 0zM358.31 127.28a1.7 1.7 0 1 0 0.01 0zM358.75 126.25a1.7 1.7 0 1 0 0.01 0zM359.19 126.76a1.7 1.7 0 1 0 0.01 0zM359.64 126.99a1.7 1.7 0 1 0 0.01 0zM360.08 127.7a1.7 1.7 0 1 0 0.01 0zM360.52 127.18a1.7 1.7 0 1 0 0.01 0zM360.97 128.03a1.7 1.7 0 1 0 0.01 0zM361.41 127.59a1.7 1.7 0 1 0 0.01 0zM361.85 128.81a1.7 1.7 0 1 0 0.01 0zM362.3 129a1.7 1.7 0 1 0 0.01 0zM362.74 128.69a1.7 1.7 0 1 0 0.01 0zM363.18 129.35a1.7 1.7 0 1 0 0.01 0zM363.62 128.88a1.7 1.7 0 1 0 0.01 0zM364.07 129.29a1.7 1.7 0 1 0 0.01 0zM364.51 130.08a1.7 1.7 0 1 0 0.01 0zM364.95 129.79a1.7 1.7 0 1 0 0.01 0zM365.39 130.2a1.7 1.7 0 1 0 0.01 0zM365.84 129.78a1.7 1.7 0 1 0 0.01 0zM366.28 130.74a1.7 1.7 0 1 0 0.01 0zM366.72 130.84a1.7 1.7 0 1 0 0.01 0zM367.17 130.22a1.7 1.7 0 1 0 0.01 0zM367.61 129.9a1.7 1.7 0 1 0 0.01 0zM368.05 130.21a1.7 1.7 0 1 0 0.01 0zM368.5 131.35a1.7 1.7 0 1 0 0.01 0zM368.94 131.46a1.7 1.7 0 1 0 0.01 0zM369.38 130.99a1.7 1.7 0 1 0 0.01 0zM369.82 131.99a1.7 1.7 0 1 0 0.01 0zM370.27 132.59a1.7 1.7 0 1 0 0.01 0zM370.71 132.23a1.7 1.7 0 1 0 0.01 0zM371.15 132.23a1.7 1.7 0 1 0 0.01 0zM371.6 133.04a1.7 1.7 0 1 0 0.01 0zM372.04 133.61a1.7 1.7 0 1 0 0.01 0zM372.48 133.68a1.7 1.7 0 1 0 0.01 0zM372.92 132.81a1.7 1.7 0 1 0 0.01 0zM373.37 133.68a1.7 1.7 0 1 0 0.01 0zM373.81 133.54a1.7 1.7 0 1 0 0.01 0zM374.25 133.52a1.7 1.7 0 1 0 0.01 0zM374.69 133.48a1.7 1.7 0 1 0 0.01 0zM375.14 134.11a1.7 1.7 0 1 0 0.01 0zM375.58 133.86a1.7 1.7 0 1 0 0.01 0zM376.02 134.7a1.7 1.7 0 1 0 0.01 0zM376.47 134.59a1.7 1.7 0 1 0 0.01 0zM376.91 135.07a1.7 1.7 0 1 0 0.01 0zM377.35 134.16a1.7 1.7 0 1 0 0.01 0zM377.8 134.88a1.7 1.7 0 1 0 0.01 0zM378.24 135.38a1.7 1.7 0 1 0 0.01 0zM378.68 135.33a1.7 1.7 0 1 0 0.01 0zM379.12 135.41a1.7 1.7 0 1 0 0.01 0zM379.57 135.1a1.7 1.7 0 1 0 0.01 0zM380.01 136.37a1.7 1.7 0 1 0 0.01 0zM380.45 136.23a1.7 1.7 0 1 0 0.01 0zM380.89 136.05a1.7 1.7 0 1 0 0.01 0zM381.34 134.74a1.7 1.7 0 1 0 0.01 0zM381.78 135.66a1.7 1.7 0 1 0 0.01 0zM382.22 136.32a1.7 1.7 0 1 0 0.01 0zM382.67 136.04a1.7 1.7 0 1 0 0.01 0zM383.11 135.51a1.7 1.7 0 1 0 0.01 0zM383.55 136.77a1.7 1.7 0 1 0 0.01 0zM384 136.96a1.7 1.7 0 1 0 0.01 0zM384.44 136.31a1.7 1.7 0 1 0 0.01 0zM384.88 136.79a1.7 1.7 0 1 0 0.01 0zM385.32 136.82a1.7 1.7 0 1 0 0.01 0zM385.77 137.53a1.7 1.7 0 1 0 0.01 0zM386.21 136.45a1.7 1.7 0 1 0 0.01 0zM386.65 136.67a1.7 1.7 0 1 0 0.01 0zM387.1 137.36a1.7 1.7 0 1 0 0.01 0zM387.54 137.41a1.7 1.7 0 1 0 0.01 0zM387.98 138.87a1.7 1.7 0 1 0 0.01 0zM388.42 137.67a1.7 1.7 0 1 0 0.01 0zM388.87 138.19a1.7 1.7 0 1 0 0.01 0zM389.31 137.99a1.7 1.7 0 1 0 0.01 0zM389.75 137.98a1.7 1.7 0 1 0 0.01 0zM390.19 138.6a1.7 1.7 0 1 0 0.01 0zM390.64 139.37a1.7 1.7 0 1 0 0.01 0zM391.08 138.46a1.7 1.7 0 1 0 0.01 0zM391.52 139.12a1.7 1.7 0 1 0 0.01 0zM391.97 139.02a1.7 1.7 0 1 0 0.01 0zM392.41 139.26a1.7 1.7 0 1 0 0.01 0zM392.85 139.23a1.7 1.7 0 1 0 0.01 0zM393.3 140.3a1.7 1.7 0 1 0 0.01 0zM393.74 138.66a1.7 1.7 0 1 0 0.01 0zM394.18 139.24a1.7 1.7 0 1 0 0.01 0zM394.62 138.91a1.7 1.7 0 1 0 0.01 0zM395.07 138.58a1.7 1.7 0 1 0 0.01 0zM395.51 139.64a1.7 1.7 0 1 0 0.01 0zM395.95 140.64a1.7 1.7 0 1 0 0.01 0zM396.39 140.28a1.7 1.7 0 1 0 0.01 0zM396.84 140.53a1.7 1.7 0 1 0 0.01 0zM397.28 140.27a1.7 1.7 0 1 0 0.01 0zM397.72 140.08a1.7 1.7 0 1 0 0.01 0zM398.17 141.2a1.7 1.7 0 1 0 0.01 0zM398.61 140.13a1.7 1.7 0 1 0 0.01 0zM399.05 141.13a1.7 1.7 0 1 0 0.01 0zM399.5 140.33a1.7 1.7 0 1 0 0.01 0zM399.94 140.61a1.7 1.7 0 1 0 0.01 0zM400.38 140.8a1.7 1.7 0 1 0 0.01 0zM400.82 140.76a1.7 1.7 0 1 0 0.01 0zM401.27 141.08a1.7 1.7 0 1 0 0.01 0zM401.71 141.2a1.7 1.7 0 1 0 0.01 0zM402.15 141.81a1.7 1.7 0 1 0 0.01 0zM402.6 141.07a1.7 1.7 0 1 0 0.01 0zM403.04 140.22a1.7 1.7 0 1 0 0.01 0zM403.48 140.24a1.7 1.7 0 1 0 0.01 0zM403.92 140.64a1.7 1.7 0 1 0 0.01 0zM404.37 141.02a1.7 1.7 0 1 0 0.01 0zM404.81 141.78a1.7 1.7 0 1 0 0.01 0zM405.25 140.81a1.7 1.7 0 1 0 0.01 0zM405.69 141.63a1.7 1.7 0 1 0 0.01 0zM406.14 141.71a1.7 1.7 0 1 0 0.01 0zM406.58 141.89a1.7 1.7 0 1 0 0.01 0zM407.02 141.77a1.7 1.7 0 1 0 0.01 0zM407.47 142.1a1.7 1.7 0 1 0 0.01 0zM407.91 142a1.7 1.7 0 1 0 0.01 0zM408.35 142.57a1.7 1.7 0 1 0 0.01 0zM408.8 142.28a1.7 1.7 0 1 0 0.01 0zM409.24 141.04a1.7 1.7 0 1 0 0.01 0zM409.68 142.27a1.7 1.7 0 1 0 0.01 0zM410.12 142.42a1.7 1.7 0 1 0 0.01 0zM410.57 142.11a1.7 1.7 0 1 0 0.01 0zM411.01 142.08a1.7 1.7 0 1 0 0.01 0zM411.45 143.05a1.7 1.7 0 1 0 0.01 0zM411.89 142.67a1.7 1.7 0 1 0 0.01 0zM412.34 142.17a1.7 1.7 0 1 0 0.01 0zM412.78 142.56a1.7 1.7 0 1 0 0.01 0zM413.22 142.69a1.7 1.7 0 1 0 0.01 0zM413.67 142.05a1.7 1.7 0 1 0 0.01 0zM414.11 143.21a1.7 1.7 0 1 0 0.01 0zM414.55 142.89a1.7 1.7 0 1 0 0.01 0zM415 143.25a1.7 1.7 0 1 0 0.01 0zM415.44 142.32a1.7 1.7 0 1 0 0.01 0zM415.88 144.08a1.7 1.7 0 1 0 0.01 0zM416.32 143.5a1.7 1.7 0 1 0 0.01 0zM416.77 143.49a1.7 1.7 0 1 0 0.01 0zM417.21 142.95a1.7 1.7 0 1 0 0.01 0zM417.65 143.04a1.7 1.7 0 1 0 0.01 0zM418.1 142.7a1.7 1.7 0 1 0 0.01 0zM418.54 144.23a1.7 1.7 0 1 0 0.01 0zM418.98 143.13a1.7 1.7 0 1 0 0.01 0zM419.42 143.7a1.7 1.7 0 1 0 0.01 0zM419.87 143.94a1.7 1.7 0 1 0 0.01 0zM420.31 143.39a1.7 1.7 0 1 0 0.01 0zM420.75 144.17a1.7 1.7 0 1 0 0.01 0zM421.2 144.79a1.7 1.7 0 1 0 0.01 0zM421.64 144a1.7 1.7 0 1 0 0.01 0zM422.08 144.6a1.7 1.7 0 1 0 0.01 0zM422.52 144.23a1.7 1.7 0 1 0 0.01 0zM422.97 143.78a1.7 1.7 0 1 0 0.01 0zM423.41 143.86a1.7 1.7 0 1 0 0.01 0zM423.85 143.27a1.7 1.7 0 1 0 0.01 0zM424.29 144.2a1.7 1.7 0 1 0 0.01 0zM424.74 144.91a1.7 1.7 0 1 0 0.01 0zM425.18 144.57a1.7 1.7 0 1 0 0.01 0zM425.62 144.7a1.7 1.7 0 1 0 0.01 0zM426.07 144.89a1.7 1.7 0 1 0 0.01 0zM426.51 144.12a1.7 1.7 0 1 0 0.01 0zM426.95 144.7a1.7 1.7 0 1 0 0.01 0zM427.39 145.4a1.7 1.7 0 1 0 0.01 0zM427.84 144.12a1.7 1.7 0 1 0 0.01 0zM428.28 144.56a1.7 1.7 0 1 0 0.01 0zM428.72 144.38a1.7 1.7 0 1 0 0.01 0zM429.17 144.54a1.7 1.7 0 1 0 0.01 0zM429.61 144.32a1.7 1.7 0 1 0 0.01 0zM430.05 144.66a1.7 1.7 0 1 0 0.01 0zM430.5 144.11a1.7 1.7 0 1 0 0.01 0zM430.94 144.55a1.7 1.7 0 1 0 0.01 0zM431.38 144.6a1.7 1.7 0 1 0 0.01 0zM431.82 144.63a1.7 1.7 0 1 0 0.01 0zM432.27 145.6a1.7 1.7 0 1 0 0.01 0zM432.71 145a1.7 1.7 0 1 0 0.01 0zM433.15 145.08a1.7 1.7 0 1 0 0.01 0zM433.6 144.89a1.7 1.7 0 1 0 0.01 0zM434.04 145.7a1.7 1.7 0 1 0 0.01 0zM434.48 144.26a1.7 1.7 0 1 0 0.01 0zM434.92 145.05a1.7 1.7 0 1 0 0.01 0zM435.37 145.74a1.7 1.7 0 1 0 0.01 0zM435.81 146.02a1.7 1.7 0 1 0 0.01 0zM436.25 145.35a1.7 1.7 0 1 0 0.01 0zM436.69 145.29a1.7 1.7 0 1 0 0.01 0zM437.14 145.63a1.7 1.7 0 1 0 0.01 0zM437.58 145.27a1.7 1.7 0 1 0 0.01 0zM438.02 145.66a1.7 1.7 0 1 0 0.01 0zM438.47 145.11a1.7 1.7 0 1 0 0.01 0zM438.91 145.77a1.7 1.7 0 1 0 0.01 0zM439.35 145.46a1.7 1.7 0 1 0 0.01 0zM439.8 144.99a1.7 1.7 0 1 0 0.01 0zM440.24 144.24a1.7 1.7 0 1 0 0.01 0zM440.68 146.04a1.7 1.7 0 1 0 0.01 0zM441.12 145.8a1.7 1.7 0 1 0 0.01 0zM441.57 146.02a1.7 1.7 0 1 0 0.01 0zM442.01 145.25a1.7 1.7 0 1 0 0.01 0zM442.45 146.23a1.7 1.7 0 1 0 0.01 0zM442.89 145.93a1.7 1.7 0 1 0 0.01 0zM443.34 145.74a1.7 1.7 0 1 0 0.01 0zM443.78 146.24a1.7 1.7 0 1 0 0.01 0zM444.22 146.25a1.7 1.7 0 1 0 0.01 0zM444.67 146.05a1.7 1.7 0 1 0 0.01 0zM445.11 146.88a1.7 1.7 0 1 0 0.01 0zM445.55 146.58a1.7 1.7 0 1 0 0.01 0zM446 146.1a1.7 1.7 0 1 0 0.01 0z" stroke="#777777" fill="#dadada"/><path d="M260 152.3a1.7 1.7 0 1 0 0.01 0zM260.44 152.3a1.7 1.7 0 1 0 0.01 0zM260.88 152.3a1.7 1.7 0 1 0 0.01 0zM261.32 152.3a1.7 1.7 0 1 0 0.01 0zM261.77 152.3a1.7 1.7 0 1 0 0.01 0zM262.21 152.3a1.7 1.7 0 1 0 0.01 0zM262.65 152.3a1.7 1.7 0 1 0 0.01 0zM263.1 152.3a1.7 1.7 0 1 0 0.01 0zM263.54 152.3a1.7 1.7 0 1 0 0.01 0zM263.98 152.3a1.7 1.7 0 1 0 0.01 0zM264.42 152.3a1.7 1.7 0 1 0 0.01 0zM264.87 152.29a1.7 1.7 0 1 0 0.01 0zM265.31 152.29a1.7 1.7 0 1 0 0.01 0zM265.75 152.29a1.7 1.7 0 1 0 0.01 0zM266.19 152.29a1.7 1.7 0 1 0 0.01 0zM266.64 152.28a1.7 1.7 0 1 0 0.01 0zM267.08 152.28a1.7 1.7 0 1 0 0.01 0zM267.52 152.27a1.7 1.7 0 1 0 0.01 0zM267.97 152.26a1.7 1.7 0 1 0 0.01 0zM268.41 152.24a1.7 1.7 0 1 0 0.01 0zM268.85 152.22a1.7 1.7 0 1 0 0.01 0zM269.3 152.2a1.7 1.7 0 1 0 0.01 0zM269.74 152.17a1.7 1.7 0 1 0 0.01 0zM270.18 152.13a1.7 1.7 0 1 0 0.01 0zM270.62 152.08a1.7 1.7 0 1 0 0.01 0zM271.07 152.02a1.7 1.7 0 1 0 0.01 0zM271.51 151.95a1.7 1.7 0 1 0 0.01 0zM271.95 151.86a1.7 1.7 0 1 0 0.01 0zM272.39 151.75a1.7 1.7 0 1 0 0.01 0zM272.84 151.61a1.7 1.7 0 1 0 0.01 0zM273.28 151.45a1.7 1.7 0 1 0 0.01 0zM273.72 151.25a1.7 1.7 0 1 0 0.01 0zM274.17 151.01a1.7 1.7 0 1 0 0.01 0zM274.61 150.73a1.7 1.7 0 1 0 0.01 0zM275.05 150.4a1.7 1.7 0 1 0 0.01 0zM275.5 150.02a1.7 1.7 0 1 0 0.01 0zM275.94 149.56a1.7 1.7 0 1 0 0.01 0zM276.38 149.04a1.7 1.7 0 1 0 0.01 0zM276.82 148.44a1.7 1.7 0 1 0 0.01 0zM277.27 147.75a1.7 1.7 0 1 0 0.01 0zM277.71 146.96a1.7 1.7 0 1 0 0.01 0zM278.15 146.07a1.7 1.7 0 1 0 0.01 0zM278.6 145.07a1.7 1.7 0 1 0 0.01 0zM279.04 143.94a1.7 1.7 0 1 0 0.01 0zM279.48 142.69a1.7 1.7 0 1 0 0.01 0zM279.92 141.3a1.7 1.7 0 1 0 0.01 0zM280.37 139.76a1.7 1.7 0 1 0 0.01 0zM280.81 138.09a1.7 1.7 0 1 0 0.01 0zM281.25 136.25a1.7 1.7 0 1 0 0.01 0zM281.69 134.27a1.7 1.7 0 1 0 0.01 0zM282.14 132.12a1.7 1.7 0 1 0 0.01 0zM282.58 129.82a1.7 1.7 0 1 0 0.01 0zM283.02 127.36a1.7 1.7 0 1 0 0.01 0zM283.47 124.75a1.7 1.7 0 1 0 0.01 0zM283.91 121.98a1.7 1.7 0 1 0 0.01 0zM284.35 119.07a1.7 1.7 0 1 0 0.01 0zM284.8 116.03a1.7 1.7 0 1 0 0.01 0zM285.24 112.86a1.7 1.7 0 1 0 0.01 0zM285.68 109.57a1.7 1.7 0 1 0 0.01 0zM286.12 106.18a1.7 1.7 0 1 0 0.01 0zM286.57 102.7a1.7 1.7 0 1 0 0.01 0zM287.01 99.15a1.7 1.7 0 1 0 0.01 0zM287.45 95.54a1.7 1.7 0 1 0 0.01 0zM287.89 91.89a1.7 1.7 0 1 0 0.01 0zM288.34 88.22a1.7 1.7 0 1 0 0.01 0zM288.78 84.54a1.7 1.7 0 1 0 0.01 0zM289.22 80.88a1.7 1.7 0 1 0 0.01 0zM289.67 77.25a1.7 1.7 0 1 0 0.01 0zM290.11 73.67a1.7 1.7 0 1 0 0.01 0zM290.55 70.15a1.7 1.7 0 1 0 0.01 0zM291 66.72a1.7 1.7 0 1 0 0.01 0zM291.44 63.4a1.7 1.7 0 1 0 0.01 0zM291.88 60.18a1.7 1.7 0 1 0 0.01 0zM292.32 57.1a1.7 1.7 0 1 0 0.01 0zM292.77 54.15a1.7 1.7 0 1 0 0.01 0zM293.21 51.36a1.7 1.7 0 1 0 0.01 0zM293.65 48.72a1.7 1.7 0 1 0 0.01 0zM294.1 46.25a1.7 1.7 0 1 0 0.01 0zM294.54 43.96a1.7 1.7 0 1 0 0.01 0zM294.98 41.84a1.7 1.7 0 1 0 0.01 0zM295.42 39.89a1.7 1.7 0 1 0 0.01 0zM295.87 38.13a1.7 1.7 0 1 0 0.01 0zM296.31 36.54a1.7 1.7 0 1 0 0.01 0zM296.75 35.13a1.7 1.7 0 1 0 0.01 0zM297.19 33.88a1.7 1.7 0 1 0 0.01 0zM297.64 32.8a1.7 1.7 0 1 0 0.01 0zM298.08 31.87a1.7 1.7 0 1 0 0.01 0zM298.52 31.09a1.7 1.7 0 1 0 0.01 0zM298.97 30.45a1.7 1.7 0 1 0 0.01 0zM299.41 29.94a1.7 1.7 0 1 0 0.01 0zM299.85 29.54a1.7 1.7 0 1 0 0.01 0zM300.3 29.24a1.7 1.7 0 1 0 0.01 0zM300.74 29.04a1.7 1.7 0 1 0 0.01 0zM301.18 28.9a1.7 1.7 0 1 0 0.01 0zM301.62 28.83a1.7 1.7 0 1 0 0.01 0zM302.07 28.8a1.7 1.7 0 1 0 0.01 0zM302.51 28.87a1.7 1.7 0 1 0 0.01 0zM302.95 30.29a1.7 1.7 0 1 0 0.01 0zM303.39 31.74a1.7 1.7 0 1 0 0.01 0zM303.84 33.22a1.7 1.7 0 1 0 0.01 0zM304.28 34.72a1.7 1.7 0 1 0 0.01 0zM304.72 36.25a1.7 1.7 0 1 0 0.01 0zM305.17 37.79a1.7 1.7 0 1 0 0.01 0zM305.61 39.36a1.7 1.7 0 1 0 0.01 0zM306.05 40.94a1.7 1.7 0 1 0 0.01 0zM306.5 42.55a1.7 1.7 0 1 0 0.01 0zM306.94 44.16a1.7 1.7 0 1 0 0.01 0zM307.38 45.79a1.7 1.7 0 1 0 0.01 0zM307.82 47.43a1.7 1.7 0 1 0 0.01 0zM308.27 49.08a1.7 1.7 0 1 0 0.01 0zM308.71 50.73a1.7 1.7 0 1 0 0.01 0zM309.15 52.38a1.7 1.7 0 1 0 0.01 0zM309.6 54.04a1.7 1.7 0 1 0 0.01 0zM310.04 55.68a1.7 1.7 0 1 0 0.01 0zM310.48 57.33a1.7 1.7 0 1 0 0.01 0zM310.92 58.96a1.7 1.7 0 1 0 0.01 0zM311.37 60.58a1.7 1.7 0 1 0 0.01 0zM311.81 62.19a1.7 1.7 0 1 0 0.01 0zM312.25 63.78a1.7 1.7 0 1 0 0.01 0zM312.69 65.35a1.7 1.7 0 1 0 0.01 0zM313.14 66.9a1.7 1.7 0 1 0 0.01 0zM313.58 68.42a1.7 1.7 0 1 0 0.01 0zM314.02 69.92a1.7 1.7 0 1 0 0.01 0zM314.47 71.4a1.7 1.7 0 1 0 0.01 0zM314.91 72.84a1.7 1.7 0 1 0 0.01 0zM315.35 74.26a1.7 1.7 0 1 0 0.01 0zM315.8 75.65a1.7 1.7 0 1 0 0.01 0zM316.24 77.01a1.7 1.7 0 1 0 0.01 0zM316.68 78.34a1.7 1.7 0 1 0 0.01 0zM317.12 79.63a1.7 1.7 0 1 0 0.01 0zM317.57 80.89a1.7 1.7 0 1 0 0.01 0zM318.01 82.12a1.7 1.7 0 1 0 0.01 0zM318.45 83.32a1.7 1.7 0 1 0 0.01 0zM318.89 84.49a1.7 1.7 0 1 0 0.01 0zM319.34 85.63a1.7 1.7 0 1 0 0.01 0zM319.78 86.74a1.7 1.7 0 1 0 0.01 0zM320.22 87.81a1.7 1.7 0 1 0 0.01 0zM320.67 88.86a1.7 1.7 0 1 0 0.01 0zM321.11 89.88a1.7 1.7 0 1 0 0.01 0zM321.55 90.87a1.7 1.7 0 1 0 0.01 0zM322 91.84a1.7 1.7 0 1 0 0.01 0zM322.44 92.77a1.7 1.7 0 1 0 0.01 0zM322.88 93.69a1.7 1.7 0 1 0 0.01 0zM323.32 94.58a1.7 1.7 0 1 0 0.01 0zM323.77 95.44a1.7 1.7 0 1 0 0.01 0zM324.21 96.29a1.7 1.7 0 1 0 0.01 0zM324.65 97.11a1.7 1.7 0 1 0 0.01 0zM325.1 97.91a1.7 1.7 0 1 0 0.01 0zM325.54 98.7a1.7 1.7 0 1 0 0.01 0zM325.98 99.46a1.7 1.7 0 1 0 0.01 0zM326.42 100.21a1.7 1.7 0 1 0 0.01 0zM326.87 100.94a1.7 1.7 0 1 0 0.01 0zM327.31 101.66a1.7 1.7 0 1 0 0.01 0zM327.75 102.36a1.7 1.7 0 1 0 0.01 0zM328.19 103.04a1.7 1.7 0 1 0 0.01 0zM328.64 103.72a1.7 1.7 0 1 0 0.01 0zM329.08 104.37a1.7 1.7 0 1 0 0.01 0zM329.52 105.02a1.7 1.7 0 1 0 0.01 0zM329.97 105.65a1.7 1.7 0 1 0 0.01 0zM330.41 106.28a1.7 1.7 0 1 0 0.01 0zM330.85 106.89a1.7 1.7 0 1 0 0.01 0zM331.3 106.49a1.7 1.7 0 1 0 0.01 0zM331.74 107.89a1.7 1.7 0 1 0 0.01 0zM332.18 107.78a1.7 1.7 0 1 0 0.01 0zM332.62 108.76a1.7 1.7 0 1 0 0.01 0zM333.07 110.12a1.7 1.7 0 1 0 0.01 0zM333.51 110.53a1.7 1.7 0 1 0 0.01 0zM333.95 110.67a1.7 1.7 0 1 0 0.01 0zM334.39 111.4a1.7 1.7 0 1 0 0.01 0zM334.84 111.93a1.7 1.7 0 1 0 0.01 0zM335.28 112.62a1.7 1.7 0 1 0 0.01 0zM335.72 113.88a1.7 1.7 0 1 0 0.01 0zM336.17 113.6a1.7 1.7 0 1 0 0.01 0zM336.61 115.08a1.7 1.7 0 1 0 0.01 0zM337.05 114.3a1.7 1.7 0 1 0 0.01 0zM337.5 115.32a1.7 1.7 0 1 0 0.01 0zM337.94 115.79a1.7 1.7 0 1 0 0.01 0zM338.38 116.02a1.7 1.7 0 1 0 0.01 0zM338.82 116.24a1.7 1.7 0 1 0 0.01 0zM339.27 117.54a1.7 1.7 0 1 0 0.01 0zM339.71 118.15a1.7 1.7 0 1 0 0.01 0zM340.15 118.25a1.7 1.7 0 1 0 0.01 0zM340.6 119.17a1.7 1.7 0 1 0 0.01 0zM341.04 119.07a1.7 1.7 0 1 0 0.01 0zM341.48 118.24a1.7 1.7 0 1 0 0.01 0zM341.92 119.97a1.7 1.7 0 1 0 0.01 0zM342.37 119.54a1.7 1.7 0 1 0 0.01 0zM342.81 120.94a1.7 1.7 0 1 0 0.01 0zM343.25 120.52a1.7 1.7 0 1 0 0.01 0zM343.69 121.23a1.7 1.7 0 1 0 0.01 0zM344.14 121.49a1.7 1.7 0 1 0 0.01 0zM344.58 121.57a1.7 1.7 0 1 0 0.01 0zM345.02 121.36a1.7 1.7 0 1 0 0.01 0zM345.47 122.51a1.7 1.7 0 1 0 0.01 0zM345.91 122.92a1.7 1.7 0 1 0 0.01 0zM346.35 123.83a1.7 1.7 0 1 0 0.01 0zM346.8 123.42a1.7 1.7 0 1 0 0.01 0zM347.24 124.18a1.7 1.7 0 1 0 0.01 0zM347.68 124a1.7 1.7 0 1 0 0.01 0zM348.12 124.78a1.7 1.7 0 1 0 0.01 0zM348.57 124.24a1.7 1.7 0 1 0 0.01 0zM349.01 126.42a1.7 1.7 0 1 0 0.01 0zM349.45 125.92a1.7 1.7 0 1 0 0.01 0zM349.89 125.67a1.7 1.7 0 1 0 0.01 0zM350.34 126.6a1.7 1.7 0 1 0 0.01 0zM350.78 127.14a1.7 1.7 0 1 0 0.01 0zM351.22 127.19a1.7 1.7 0 1 0 0.01 0zM351.67 128.05a1.7 1.7 0 1 0 0.01 0zM352.11 127.62a1.7 1.7 0 1 0 0.01 0zM352.55 126.78a1.7 1.7 0 1 0 0.01 0zM353 127.71a1.7 1.7 0 1 0 0.01 0zM353.44 129.12a1.7 1.7 0 1 0 0.01 0zM353.88 129.3a1.7 1.7 0 1 0 0.01 0zM354.32 129.35a1.7 1.7 0 1 0 0.01 0zM354.77 128.94a1.7 1.7 0 1 0 0.01 0zM355.21 130.12a1.7 1.7 0 1 0 0.01 0zM355.65 130.33a1.7 1.7 0 1 0 0.01 0zM356.1 129.82a1.7 1.7 0 1 0 0.01 0zM356.54 130.1a1.7 1.7 0 1 0 0.01 0zM356.98 130.97a1.7 1.7 0 1 0 0.01 0zM357.42 131.6a1.7 1.7 0 1 0 0.01 0zM357.87 132.07a1.7 1.7 0 1 0 0.01 0zM358.31 131.9a1.7 1.7 0 1 0 0.01 0zM358.75 132.91a1.7 1.7 0 1 0 0.01 0zM359.19 131.68a1.7 1.7 0 1 0 0.01 0zM359.64 132.61a1.7 1.7 0 1 0 0.01 0zM360.08 132.3a1.7 1.7 0 1 0 0.01 0zM360.52 131.85a1.7 1.7 0 1 0 0.01 0zM360.97 132.43a1.7 1.7 0 1 0 0.01 0zM361.41 133.81a1.7 1.7 0 1 0 0.01 0zM361.85 133.03a1.7 1.7 0 1 0 0.01 0zM362.3 133.12a1.7 1.7 0 1 0 0.01 0zM362.74 134.28a1.7 1.7 0 1 0 0.01 0zM363.18 134.6a1.7 1.7 0 1 0 0.01 0zM363.62 134.4a1.7 1.7 0 1 0 0.01 0zM364.07 135.34a1.7 1.7 0 1 0 0.01 0zM364.51 134.04a1.7 1.7 0 1 0 0.01 0zM364.95 136.16a1.7 1.7 0 1 0 0.01 0zM365.39 135.72a1.7 1.7 0 1 0 0.01 0zM365.84 135.5a1.7 1.7 0 1 0 0.01 0zM366.28 135.68a1.7 1.7 0 1 0 0.01 0zM366.72 135.68a1.7 1.7 0 1 0 0.01 0zM367.17 135.82a1.7 1.7 0 1 0 0.01 0zM367.61 136.25a1.7 1.7 0 1 0 0.01 0zM368.05 135.77a1.7 1.7 0 1 0 0.01 0zM368.5 137.58a1.7 1.7 0 1 0 0.01 0zM368.94 136.7a1.7 1.7 0 1 0 0.01 0zM369.38 137.23a1.7 1.7 0 1 0 0.01 0zM369.82 136.99a1.7 1.7 0 1 0 0.01 0zM370.27 137.12a1.7 1.7 0 1 0 0.01 0zM370.71 137.86a1.7 1.7 0 1 0 0.01 0zM371.15 137.89a1.7 1.7 0 1 0 0.01 0zM371.6 137.35a1.7 1.7 0 1 0 0.01 0zM372.04 137.74a1.7 1.7 0 1 0 0.01 0zM372.48 138.41a1.7 1.7 0 1 0 0.01 0zM372.92 137.23a1.7 1.7 0 1 0 0.01 0zM373.37 137.25a1.7 1.7 0 1 0 0.01 0zM373.81 139.27a1.7 1.7 0 1 0 0.01 0zM374.25 138.55a1.7 1.7 0 1 0 0.01 0zM374.69 137.62a1.7 1.7 0 1 0 0.01 0zM375.14 138.62a1.7 1.7 0 1 0 0.01 0zM375.58 139.05a1.7 1.7 0 1 0 0.01 0zM376.02 139.4a1.7 1.7 0 1 0 0.01 0zM376.47 139.71a1.7 1.7 0 1 0 0.01 0zM376.91 139.69a1.7 1.7 0 1 0 0.01 0zM377.35 140a1.7 1.7 0 1 0 0.01 0zM377.8 139.5a1.7 1.7 0 1 0 0.01 0zM378.24 140.2a1.7 1.7 0 1 0 0.01 0zM378.68 140.36a1.7 1.7 0 1 0 0.01 0zM379.12 140.87a1.7 1.7 0 1 0 0.01 0zM379.57 140.43a1.7 1.7 0 1 0 0.01 0zM380.01 140.97a1.7 1.7 0 1 0 0.01 0zM380.45 140.75a1.7 1.7 0 1 0 0.01 0zM380.89 140.27a1.7 1.7 0 1 0 0.01 0zM381.34 140.73a1.7 1.7 0 1 0 0.01 0zM381.78 140.78a1.7 1.7 0 1 0 0.01 0zM382.22 140.98a1.7 1.7 0 1 0 0.01 0zM382.67 141.24a1.7 1.7 0 1 0 0.01 0zM383.11 141.45a1.7 1.7 0 1 0 0.01 0zM383.55 141.66a1.7 1.7 0 1 0 0.01 0zM384 141.25a1.7 1.7 0 1 0 0.01 0zM384.44 142.27a1.7 1.7 0 1 0 0.01 0zM384.88 141.18a1.7 1.7 0 1 0 0.01 0zM385.32 141.94a1.7 1.7 0 1 0 0.01 0zM385.77 142.43a1.7 1.7 0 1 0 0.01 0zM386.21 142.41a1.7 1.7 0 1 0 0.01 0zM386.65 142.61a1.7 1.7 0 1 0 0.01 0zM387.1 142.3a1.7 1.7 0 1 0 0.01 0zM387.54 142.84a1.7 1.7 0 1 0 0.01 0zM387.98 142.02a1.7 1.7 0 1 0 0.01 0zM388.42 143.07a1.7 1.7 0 1 0 0.01 0zM388.87 143.9a1.7 1.7 0 1 0 0.01 0zM389.31 143.24a1.7 1.7 0 1 0 0.01 0zM389.75 143.97a1.7 1.7 0 1 0 0.01 0zM390.19 143.09a1.7 1.7 0 1 0 0.01 0zM390.64 142.64a1.7 1.7 0 1 0 0.01 0zM391.08 142.93a1.7 1.7 0 1 0 0.01 0zM391.52 144a1.7 1.7 0 1 0 0.01 0zM391.97 143.81a1.7 1.7 0 1 0 0.01 0zM392.41 142.64a1.7 1.7 0 1 0 0.01 0zM392.85 143.45a1.7 1.7 0 1 0 0.01 0zM393.3 143.69a1.7 1.7 0 1 0 0.01 0zM393.74 143.26a1.7 1.7 0 1 0 0.01 0zM394.18 142.65a1.7 1.7 0 1 0 0.01 0zM394.62 143.3a1.7 1.7 0 1 0 0.01 0zM395.07 143.96a1.7 1.7 0 1 0 0.01 0zM395.51 143.93a1.7 1.7 0 1 0 0.01 0zM395.95 143.88a1.7 1.7 0 1 0 0.01 0zM396.39 144.57a1.7 1.7 0 1 0 0.01 0zM396.84 144.86a1.7 1.7 0 1 0 0.01 0zM397.28 144.39a1.7 1.7 0 1 0 0.01 0zM397.72 144.96a1.7 1.7 0 1 0 0.01 0zM398.17 144.59a1.7 1.7 0 1 0 0.01 0zM398.61 144.59a1.7 1.7 0 1 0 0.01 0zM399.05 143.55a1.7 1.7 0 1 0 0.01 0zM399.5 145.2a1.7 1.7 0 1 0 0.01 0zM399.94 144.91a1.7 1.7 0 1 0 0.01 0zM400.38 145a1.7 1.7 0 1 0 0.01 0zM400.82 144.77a1.7 1.7 0 1 0 0.01 0zM401.27 144.54a1.7 1.7 0 1 0 0.01 0zM401.71 145.36a1.7 1.7 0 1 0 0.01 0zM402.15 145.59a1.7 1.7 0 1 0 0.01 0zM402.6 146.06a1.7 1.7 0 1 0 0.01 0zM403.04 145.77a1.7 1.7 0 1 0 0.01 0zM403.48 145.11a1.7 1.7 0 1 0 0.01 0zM403.92 145.41a1.7 1.7 0 1 0 0.01 0zM404.37 146a1.7 1.7 0 1 0 0.01 0zM404.81 145.74a1.7 1.7 0 1 0 0.01 0zM405.25 145.6a1.7 1.7 0 1 0 0.01 0zM405.69 145.43a1.7 1.7 0 1 0 0.01 0zM406.14 146.03a1.7 1.7 0 1 0 0.01 0zM406.58 145.91a1.7 1.7 0 1 0 0.01 0zM407.02 146.74a1.7 1.7 0 1 0 0.01 0zM407.47 146.47a1.7 1.7 0 1 0 0.01 0zM407.91 145.16a1.7 1.7 0 1 0 0.01 0zM408.35 147.09a1.7 1.7 0 1 0 0.01 0zM408.8 146.23a1.7 1.7 0 1 0 0.01 0zM409.24 146.01a1.7 1.7 0 1 0 0.01 0zM409.68 146.35a1.7 1.7 0 1 0 0.01 0zM410.12 146.62a1.7 1.7 0 1 0 0.01 0zM410.57 146.3a1.7 1.7 0 1 0 0.01 0zM411.01 146.32a1.7 1.7 0 1 0 0.01 0zM411.45 146.41a1.7 1.7 0 1 0 0.01 0zM411.89 147.34a1.7 1.7 0 1 0 0.01 0zM412.34 146.54a1.7 1.7 0 1 0 0.01 0zM412.78 146.93a1.7 1.7 0 1 0 0.01 0zM413.22 146.83a1.7 1.7 0 1 0 0.01 0zM413.67 146.49a1.7 1.7 0 1 0 0.01 0zM414.11 146.33a1.7 1.7 0 1 0 0.01 0zM414.55 146.25a1.7 1.7 0 1 0 0.01 0zM415 146.98a1.7 1.7 0 1 0 0.01 0zM415.44 146.32a1.7 1.7 0 1 0 0.01 0zM415.88 146.24a1.7 1.7 0 1 0 0.01 0zM416.32 146.3a1.7 1.7 0 1 0 0.01 0zM416.77 146.22a1.7 1.7 0 1 0 0.01 0zM417.21 147.02a1.7 1.7 0 1 0 0.01 0zM417.65 147.07a1.7 1.7 0 1 0 0.01 0zM418.1 146.62a1.7 1.7 0 1 0 0.01 0zM418.54 147.74a1.7 1.7 0 1 0 0.01 0zM418.98 147a1.7 1.7 0 1 0 0.01 0zM419.42 147.4a1.7 1.7 0 1 0 0.01 0zM419.87 147.36a1.7 1.7 0 1 0 0.01 0zM420.31 148.08a1.7 1.7 0 1 0 0.01 0zM420.75 147.69a1.7 1.7 0 1 0 0.01 0zM421.2 147.3a1.7 1.7 0 1 0 0.01 0zM421.64 146.89a1.7 1.7 0 1 0 0.01 0zM422.08 146.87a1.7 1.7 0 1 0 0.01 0zM422.52 147.44a1.7 1.7 0 1 0 0.01 0zM422.97 147.52a1.7 1.7 0 1 0 0.01 0zM423.41 147.87a1.7 1.7 0 1 0 0.01 0zM423.85 147.3a1.7 1.7 0 1 0 0.01 0zM424.29 147.65a1.7 1.7 0 1 0 0.01 0zM424.74 147.26a1.7 1.7 0 1 0 0.01 0zM425.18 146.73a1.7 1.7 0 1 0 0.01 0zM425.62 147.64a1.7 1.7 0 1 0 0.01 0zM426.07 148.4a1.7 1.7 0 1 0 0.01 0zM426.51 148.11a1.7 1.7 0 1 0 0.01 0zM426.95 148.44a1.7 1.7 0 1 0 0.01 0zM427.39 148.34a1.7 1.7 0 1 0 0.01 0zM427.84 147.13a1.7 1.7 0 1 0 0.01 0zM428.28 147.69a1.7 1.7 0 1 0 0.01 0zM428.72 148.59a1.7 1.7 0 1 0 0.01 0zM429.17 147.54a1.7 1.7 0 1 0 0.01 0zM429.61 147.27a1.7 1.7 0 1 0 0.01 0zM430.05 148.1a1.7 1.7 0 1 0 0.01 0zM430.5 148.28a1.7 1.7 0 1 0 0.01 0zM430.94 148.14a1.7 1.7 0 1 0 0.01 0zM431.38 147.86a1.7 1.7 0 1 0 0.01 0zM431.82 147.71a1.7 1.7 0 1 0 0.01 0zM432.27 147.47a1.7 1.7 0 1 0 0.01 0zM432.71 147.48a1.7 1.7 0 1 0 0.01 0zM433.15 147.52a1.7 1.7 0 1 0 0.01 0zM433.6 147.45a1.7 1.7 0 1 0 0.01 0zM434.04 147.82a1.7 1.7 0 1 0 0.01 0zM434.48 148.93a1.7 1.7 0 1 0 0.01 0zM434.92 148.26a1.7 1.7 0 1 0 0.01 0zM435.37 148.07a1.7 1.7 0 1 0 0.01 0zM435.81 148.43a1.7 1.7 0 1 0 0.01 0zM436.25 147.82a1.7 1.7 0 1 0 0.01 0zM436.69 148.47a1.7 1.7 0 1 0 0.01 0zM437.14 148.77a1.7 1.7 0 1 0 0.01 0zM437.58 147.62a1.7 1.7 0 1 0 0.01 0zM438.02 148.03a1.7 1.7 0 1 0 0.01 0zM438.47 148.27a1.7 1.7 0 1 0 0.01 0zM438.91 147.94a1.7 1.7 0 1 0 0.01 0zM439.35 147.89a1.7 1.7 0 1 0 0.01 0zM439.8 148.27a1.7 1.7 0 1 0 0.01 0zM440.24 149.67a1.7 1.7 0 1 0 0.01 0zM440.68 148.81a1.7 1.7 0 1 0 0.01 0zM441.12 148.72a1.7 1.7 0 1 0 0.01 0zM441.57 149a1.7 1.7 0 1 0 0.01 0zM442.01 148.44a1.7 1.7 0 1 0 0.01 0zM442.45 147.97a1.7 1.7 0 1 0 0.01 0zM442.89 148.81a1.7 1.7 0 1 0 0.01 0zM443.34 149.15a1.7 1.7 0 1 0 0.01 0zM443.78 147.61a1.7 1.7 0 1 0 0.01 0zM444.22 148.85a1.7 1.7 0 1 0 0.01 0zM444.67 149.25a1.7 1.7 0 1 0 0.01 0zM445.11 148.54a1.7 1.7 0 1 0 0.01 0zM445.55 148.47a1.7 1.7 0 1 0 0.01 0zM446 149.04a1.7 1.7 0 1 0 0.01 0z" stroke="#4f83c9" fill="#c6dbf3"/><path d="M260 152.3a1.7 1.7 0 1 0 0.01 0zM260.44 152.3a1.7 1.7 0 1 0 0.01 0zM260.88 152.3a1.7 1.7 0 1 0 0.01 0zM261.32 152.3a1.7 1.7 0 1 0 0.01 0zM261.77 152.3a1.7 1.7 0 1 0 0.01 0zM262.21 152.3a1.7 1.7 0 1 0 0.01 0zM262.65 152.3a1.7 1.7 0 1 0 0.01 0zM263.1 152.3a1.7 1.7 0 1 0 0.01 0zM263.54 152.29a1.7 1.7 0 1 0 0.01 0zM263.98 152.29a1.7 1.7 0 1 0 0.01 0zM264.42 152.29a1.7 1.7 0 1 0 0.01 0zM264.87 152.29a1.7 1.7 0 1 0 0.01 0zM265.31 152.29a1.7 1.7 0 1 0 0.01 0zM265.75 152.28a1.7 1.7 0 1 0 0.01 0zM266.19 152.28a1.7 1.7 0 1 0 0.01 0zM266.64 152.27a1.7 1.7 0 1 0 0.01 0zM267.08 152.27a1.7 1.7 0 1 0 0.01 0zM267.52 152.26a1.7 1.7 0 1 0 0.01 0zM267.97 152.25a1.7 1.7 0 1 0 0.01 0zM268.41 152.24a1.7 1.7 0 1 0 0.01 0zM268.85 152.22a1.7 1.7 0 1 0 0.01 0zM269.3 152.21a1.7 1.7 0 1 0 0.01 0zM269.74 152.18a1.7 1.7 0 1 0 0.01 0zM270.18 152.16a1.7 1.7 0 1 0 0.01 0zM270.62 152.13a1.7 1.7 0 1 0 0.01 0zM271.07 152.1a1.7 1.7 0 1 0 0.01 0zM271.51 152.05a1.7 1.7 0 1 0 0.01 0zM271.95 152a1.7 1.7 0 1 0 0.01 0zM272.39 151.94a1.7 1.7 0 1 0 0.01 0zM272.84 151.87a1.7 1.7 0 1 0 0.01 0zM273.28 151.79a1.7 1.7 0 1 0 0.01 0zM273.72 151.69a1.7 1.7 0 1 0 0.01 0zM274.17 151.58a1.7 1.7 0 1 0 0.01 0zM274.61 151.45a1.7 1.7 0 1 0 0.01 0zM275.05 151.29a1.7 1.7 0 1 0 0.01 0zM275.5 151.11a1.7 1.7 0 1 0 0.01 0zM275.94 150.9a1.7 1.7 0 1 0 0.01 0zM276.38 150.66a1.7 1.7 0 1 0 0.01 0zM276.82 150.38a1.7 1.7 0 1 0 0.01 0zM277.27 150.07a1.7 1.7 0 1 0 0.01 0zM277.71 149.7a1.7 1.7 0 1 0 0.01 0zM278.15 149.28a1.7 1.7 0 1 0 0.01 0zM278.6 148.81a1.7 1.7 0 1 0 0.01 0zM279.04 148.27a1.7 1.7 0 1 0 0.01 0zM279.48 147.67a1.7 1.7 0 1 0 0.01 0zM279.92 146.98a1.7 1.7 0 1 0 0.01 0zM280.37 146.22a1.7 1.7 0 1 0 0.01 0zM280.81 145.35a1.7 1.7 0 1 0 0.01 0zM281.25 144.39a1.7 1.7 0 1 0 0.01 0zM281.69 143.32a1.7 1.7 0 1 0 0.01 0zM282.14 142.14a1.7 1.7 0 1 0 0.01 0zM282.58 140.83a1.7 1.7 0 1 0 0.01 0zM283.02 139.38a1.7 1.7 0 1 0 0.01 0zM283.47 137.8a1.7 1.7 0 1 0 0.01 0zM283.91 136.06a1.7 1.7 0 1 0 0.01 0zM284.35 134.17a1.7 1.7 0 1 0 0.01 0zM284.8 132.12a1.7 1.7 0 1 0 0.01 0zM285.24 129.89a1.7 1.7 0 1 0 0.01 0zM285.68 127.5a1.7 1.7 0 1 0 0.01 0zM286.12 124.92a1.7 1.7 0 1 0 0.01 0zM286.57 122.16a1.7 1.7 0 1 0 0.01 0zM287.01 119.22a1.7 1.7 0 1 0 0.01 0zM287.45 116.1a1.7 1.7 0 1 0 0.01 0zM287.89 112.8a1.7 1.7 0 1 0 0.01 0zM288.34 109.33a1.7 1.7 0 1 0 0.01 0zM288.78 105.69a1.7 1.7 0 1 0 0.01 0zM289.22 101.89a1.7 1.7 0 1 0 0.01 0zM289.67 97.95a1.7 1.7 0 1 0 0.01 0zM290.11 93.88a1.7 1.7 0 1 0 0.01 0zM290.55 89.69a1.7 1.7 0 1 0 0.01 0zM291 85.41a1.7 1.7 0 1 0 0.01 0zM291.44 81.06a1.7 1.7 0 1 0 0.01 0zM291.88 76.66a1.7 1.7 0 1 0 0.01 0zM292.32 72.25a1.7 1.7 0 1 0 0.01 0zM292.77 67.85a1.7 1.7 0 1 0 0.01 0zM293.21 63.5a1.7 1.7 0 1 0 0.01 0zM293.65 59.23a1.7 1.7 0 1 0 0.01 0zM294.1 55.07a1.7 1.7 0 1 0 0.01 0zM294.54 51.07a1.7 1.7 0 1 0 0.01 0zM294.98 47.27a1.7 1.7 0 1 0 0.01 0zM295.42 43.7a1.7 1.7 0 1 0 0.01 0zM295.87 40.42a1.7 1.7 0 1 0 0.01 0zM296.31 37.45a1.7 1.7 0 1 0 0.01 0zM296.75 34.84a1.7 1.7 0 1 0 0.01 0zM297.19 32.63a1.7 1.7 0 1 0 0.01 0zM297.64 30.87a1.7 1.7 0 1 0 0.01 0zM298.08 29.61a1.7 1.7 0 1 0 0.01 0zM298.52 28.91a1.7 1.7 0 1 0 0.01 0zM298.97 29.34a1.7 1.7 0 1 0 0.01 0zM299.41 30.46a1.7 1.7 0 1 0 0.01 0zM299.85 31.65a1.7 1.7 0 1 0 0.01 0zM300.3 32.92a1.7 1.7 0 1 0 0.01 0zM300.74 34.25a1.7 1.7 0 1 0 0.01 0zM301.18 35.66a1.7 1.7 0 1 0 0.01 0zM301.62 37.13a1.7 1.7 0 1 0 0.01 0zM302.07 38.67a1.7 1.7 0 1 0 0.01 0zM302.51 40.26a1.7 1.7 0 1 0 0.01 0zM302.95 41.92a1.7 1.7 0 1 0 0.01 0zM303.39 43.63a1.7 1.7 0 1 0 0.01 0zM303.84 45.39a1.7 1.7 0 1 0 0.01 0zM304.28 47.2a1.7 1.7 0 1 0 0.01 0zM304.72 49.05a1.7 1.7 0 1 0 0.01 0zM305.17 50.93a1.7 1.7 0 1 0 0.01 0zM305.61 52.85a1.7 1.7 0 1 0 0.01 0zM306.05 54.79a1.7 1.7 0 1 0 0.01 0zM306.5 56.75a1.7 1.7 0 1 0 0.01 0zM306.94 58.74a1.7 1.7 0 1 0 0.01 0zM307.38 60.73a1.7 1.7 0 1 0 0.01 0zM307.82 62.73a1.7 1.7 0 1 0 0.01 0zM308.27 64.73a1.7 1.7 0 1 0 0.01 0zM308.71 66.73a1.7 1.7 0 1 0 0.01 0zM309.15 68.72a1.7 1.7 0 1 0 0.01 0zM309.6 70.7a1.7 1.7 0 1 0 0.01 0zM310.04 72.66a1.7 1.7 0 1 0 0.01 0zM310.48 74.6a1.7 1.7 0 1 0 0.01 0zM310.92 76.52a1.7 1.7 0 1 0 0.01 0zM311.37 78.41a1.7 1.7 0 1 0 0.01 0zM311.81 80.27a1.7 1.7 0 1 0 0.01 0zM312.25 82.09a1.7 1.7 0 1 0 0.01 0zM312.69 83.88a1.7 1.7 0 1 0 0.01 0zM313.14 85.63a1.7 1.7 0 1 0 0.01 0zM313.58 87.34a1.7 1.7 0 1 0 0.01 0zM314.02 89a1.7 1.7 0 1 0 0.01 0zM314.47 90.62a1.7 1.7 0 1 0 0.01 0zM314.91 92.2a1.7 1.7 0 1 0 0.01 0zM315.35 93.73a1.7 1.7 0 1 0 0.01 0zM315.8 95.21a1.7 1.7 0 1 0 0.01 0zM316.24 96.65a1.7 1.7 0 1 0 0.01 0zM316.68 98.03a1.7 1.7 0 1 0 0.01 0zM317.12 99.37a1.7 1.7 0 1 0 0.01 0zM317.57 100.67a1.7 1.7 0 1 0 0.01 0zM318.01 101.91a1.7 1.7 0 1 0 0.01 0zM318.45 103.12a1.7 1.7 0 1 0 0.01 0zM318.89 104.27a1.7 1.7 0 1 0 0.01 0zM319.34 105.38a1.7 1.7 0 1 0 0.01 0zM319.78 106.45a1.7 1.7 0 1 0 0.01 0zM320.22 107.48a1.7 1.7 0 1 0 0.01 0zM320.67 108.47a1.7 1.7 0 1 0 0.01 0zM321.11 109.42a1.7 1.7 0 1 0 0.01 0zM321.55 110.33a1.7 1.7 0 1 0 0.01 0zM322 111.21a1.7 1.7 0 1 0 0.01 0zM322.44 112.05a1.7 1.7 0 1 0 0.01 0zM322.88 112.86a1.7 1.7 0 1 0 0.01 0zM323.32 113.63a1.7 1.7 0 1 0 0.01 0zM323.77 114.38a1.7 1.7 0 1 0 0.01 0zM324.21 115.1a1.7 1.7 0 1 0 0.01 0zM324.65 115.79a1.7 1.7 0 1 0 0.01 0zM325.1 116.45a1.7 1.7 0 1 0 0.01 0zM325.54 117.1a1.7 1.7 0 1 0 0.01 0zM325.98 117.71a1.7 1.7 0 1 0 0.01 0zM326.42 118.31a1.7 1.7 0 1 0 0.01 0zM326.87 118.89a1.7 1.7 0 1 0 0.01 0zM327.31 119.45a1.7 1.7 0 1 0 0.01 0zM327.75 119.98a1.7 1.7 0 1 0 0.01 0zM328.19 120.51a1.7 1.7 0 1 0 0.01 0zM328.64 121.01a1.7 1.7 0 1 0 0.01 0zM329.08 121.51a1.7 1.7 0 1 0 0.01 0zM329.52 121.99a1.7 1.7 0 1 0 0.01 0zM329.97 122.45a1.7 1.7 0 1 0 0.01 0zM330.41 122.9a1.7 1.7 0 1 0 0.01 0zM330.85 123.34a1.7 1.7 0 1 0 0.01 0zM331.3 124.38a1.7 1.7 0 1 0 0.01 0zM331.74 123.48a1.7 1.7 0 1 0 0.01 0zM332.18 123.44a1.7 1.7 0 1 0 0.01 0zM332.62 124.77a1.7 1.7 0 1 0 0.01 0zM333.07 125.75a1.7 1.7 0 1 0 0.01 0zM333.51 125.43a1.7 1.7 0 1 0 0.01 0zM333.95 126.32a1.7 1.7 0 1 0 0.01 0zM334.39 126.13a1.7 1.7 0 1 0 0.01 0zM334.84 126.75a1.7 1.7 0 1 0 0.01 0zM335.28 127.11a1.7 1.7 0 1 0 0.01 0zM335.72 127.29a1.7 1.7 0 1 0 0.01 0zM336.17 128.22a1.7 1.7 0 1 0 0.01 0zM336.61 128.47a1.7 1.7 0 1 0 0.01 0zM337.05 129.46a1.7 1.7 0 1 0 0.01 0zM337.5 129.15a1.7 1.7 0 1 0 0.01 0zM337.94 129.95a1.7 1.7 0 1 0 0.01 0zM338.38 129.64a1.7 1.7 0 1 0 0.01 0zM338.82 130.35a1.7 1.7 0 1 0 0.01 0zM339.27 130.14a1.7 1.7 0 1 0 0.01 0zM339.71 130.26a1.7 1.7 0 1 0 0.01 0zM340.15 131.49a1.7 1.7 0 1 0 0.01 0zM340.6 131.48a1.7 1.7 0 1 0 0.01 0zM341.04 131.83a1.7 1.7 0 1 0 0.01 0zM341.48 131.28a1.7 1.7 0 1 0 0.01 0zM341.92 131.09a1.7 1.7 0 1 0 0.01 0zM342.37 131.79a1.7 1.7 0 1 0 0.01 0zM342.81 132.65a1.7 1.7 0 1 0 0.01 0zM343.25 132.02a1.7 1.7 0 1 0 0.01 0zM343.69 133.76a1.7 1.7 0 1 0 0.01 0zM344.14 132.53a1.7 1.7 0 1 0 0.01 0zM344.58 133.86a1.7 1.7 0 1 0 0.01 0zM345.02 135.16a1.7 1.7 0 1 0 0.01 0zM345.47 132.73a1.7 1.7 0 1 0 0.01 0zM345.91 133.5a1.7 1.7 0 1 0 0.01 0zM346.35 135.04a1.7 1.7 0 1 0 0.01 0zM346.8 134.68a1.7 1.7 0 1 0 0.01 0zM347.24 135.11a1.7 1.7 0 1 0 0.01 0zM347.68 135.19a1.7 1.7 0 1 0 0.01 0zM348.12 136.2a1.7 1.7 0 1 0 0.01 0zM348.57 136.03a1.7 1.7 0 1 0 0.01 0zM349.01 135.69a1.7 1.7 0 1 0 0.01 0zM349.45 136.03a1.7 1.7 0 1 0 0.01 0zM349.89 135.77a1.7 1.7 0 1 0 0.01 0zM350.34 136.54a1.7 1.7 0 1 0 0.01 0zM350.78 135.63a1.7 1.7 0 1 0 0.01 0zM351.22 137.35a1.7 1.7 0 1 0 0.01 0zM351.67 137.08a1.7 1.7 0 1 0 0.01 0zM352.11 138.36a1.7 1.7 0 1 0 0.01 0zM352.55 138.23a1.7 1.7 0 1 0 0.01 0zM353 137.15a1.7 1.7 0 1 0 0.01 0zM353.44 138.47a1.7 1.7 0 1 0 0.01 0zM353.88 137.94a1.7 1.7 0 1 0 0.01 0zM354.32 138.42a1.7 1.7 0 1 0 0.01 0zM354.77 139.09a1.7 1.7 0 1 0 0.01 0zM355.21 138.94a1.7 1.7 0 1 0 0.01 0zM355.65 139.2a1.7 1.7 0 1 0 0.01 0zM356.1 139.37a1.7 1.7 0 1 0 0.01 0zM356.54 138.93a1.7 1.7 0 1 0 0.01 0zM356.98 139.16a1.7 1.7 0 1 0 0.01 0zM357.42 139.94a1.7 1.7 0 1 0 0.01 0zM357.87 140.27a1.7 1.7 0 1 0 0.01 0zM358.31 139.85a1.7 1.7 0 1 0 0.01 0zM358.75 140.21a1.7 1.7 0 1 0 0.01 0zM359.19 139.82a1.7 1.7 0 1 0 0.01 0zM359.64 139.18a1.7 1.7 0 1 0 0.01 0zM360.08 140.23a1.7 1.7 0 1 0 0.01 0zM360.52 140.82a1.7 1.7 0 1 0 0.01 0zM360.97 141.04a1.7 1.7 0 1 0 0.01 0zM361.41 141.54a1.7 1.7 0 1 0 0.01 0zM361.85 141.71a1.7 1.7 0 1 0 0.01 0zM362.3 141.91a1.7 1.7 0 1 0 0.01 0zM362.74 141.76a1.7 1.7 0 1 0 0.01 0zM363.18 141.92a1.7 1.7 0 1 0 0.01 0zM363.62 141.48a1.7 1.7 0 1 0 0.01 0zM364.07 142.19a1.7 1.7 0 1 0 0.01 0zM364.51 142.23a1.7 1.7 0 1 0 0.01 0zM364.95 142.87a1.7 1.7 0 1 0 0.01 0zM365.39 141.59a1.7 1.7 0 1 0 0.01 0zM365.84 142.29a1.7 1.7 0 1 0 0.01 0zM366.28 141.79a1.7 1.7 0 1 0 0.01 0zM366.72 142.41a1.7 1.7 0 1 0 0.01 0zM367.17 142.19a1.7 1.7 0 1 0 0.01 0zM367.61 143.18a1.7 1.7 0 1 0 0.01 0zM368.05 142.82a1.7 1.7 0 1 0 0.01 0zM368.5 141.97a1.7 1.7 0 1 0 0.01 0zM368.94 144.03a1.7 1.7 0 1 0 0.01 0zM369.38 142.96a1.7 1.7 0 1 0 0.01 0zM369.82 142.82a1.7 1.7 0 1 0 0.01 0zM370.27 143.57a1.7 1.7 0 1 0 0.01 0zM370.71 143.52a1.7 1.7 0 1 0 0.01 0zM371.15 143.38a1.7 1.7 0 1 0 0.01 0zM371.6 144.45a1.7 1.7 0 1 0 0.01 0zM372.04 144.02a1.7 1.7 0 1 0 0.01 0zM372.48 144.78a1.7 1.7 0 1 0 0.01 0zM372.92 144.79a1.7 1.7 0 1 0 0.01 0zM373.37 144.87a1.7 1.7 0 1 0 0.01 0zM373.81 144.73a1.7 1.7 0 1 0 0.01 0zM374.25 144.69a1.7 1.7 0 1 0 0.01 0zM374.69 144.64a1.7 1.7 0 1 0 0.01 0zM375.14 145.68a1.7 1.7 0 1 0 0.01 0zM375.58 144.06a1.7 1.7 0 1 0 0.01 0zM376.02 144.58a1.7 1.7 0 1 0 0.01 0zM376.47 144.89a1.7 1.7 0 1 0 0.01 0zM376.91 145.53a1.7 1.7 0 1 0 0.01 0zM377.35 145.49a1.7 1.7 0 1 0 0.01 0zM377.8 145.26a1.7 1.7 0 1 0 0.01 0zM378.24 145.42a1.7 1.7 0 1 0 0.01 0zM378.68 146.57a1.7 1.7 0 1 0 0.01 0zM379.12 145.44a1.7 1.7 0 1 0 0.01 0zM379.57 144.42a1.7 1.7 0 1 0 0.01 0zM380.01 146.92a1.7 1.7 0 1 0 0.01 0zM380.45 145.57a1.7 1.7 0 1 0 0.01 0zM380.89 145.97a1.7 1.7 0 1 0 0.01 0zM381.34 146.29a1.7 1.7 0 1 0 0.01 0zM381.78 145.62a1.7 1.7 0 1 0 0.01 0zM382.22 147a1.7 1.7 0 1 0 0.01 0zM382.67 146.4a1.7 1.7 0 1 0 0.01 0zM383.11 145.82a1.7 1.7 0 1 0 0.01 0zM383.55 146.74a1.7 1.7 0 1 0 0.01 0zM384 146.92a1.7 1.7 0 1 0 0.01 0zM384.44 146.73a1.7 1.7 0 1 0 0.01 0zM384.88 147.09a1.7 1.7 0 1 0 0.01 0zM385.32 146.15a1.7 1.7 0 1 0 0.01 0zM385.77 147.47a1.7 1.7 0 1 0 0.01 0zM386.21 146.64a1.7 1.7 0 1 0 0.01 0zM386.65 147.79a1.7 1.7 0 1 0 0.01 0zM387.1 146.88a1.7 1.7 0 1 0 0.01 0zM387.54 147.34a1.7 1.7 0 1 0 0.01 0zM387.98 148.67a1.7 1.7 0 1 0 0.01 0zM388.42 147.43a1.7 1.7 0 1 0 0.01 0zM388.87 148.03a1.7 1.7 0 1 0 0.01 0zM389.31 147.78a1.7 1.7 0 1 0 0.01 0zM389.75 146.84a1.7 1.7 0 1 0 0.01 0zM390.19 148.25a1.7 1.7 0 1 0 0.01 0zM390.64 148.28a1.7 1.7 0 1 0 0.01 0zM391.08 147.07a1.7 1.7 0 1 0 0.01 0zM391.52 147.81a1.7 1.7 0 1 0 0.01 0zM391.97 147.14a1.7 1.7 0 1 0 0.01 0zM392.41 147.82a1.7 1.7 0 1 0 0.01 0zM392.85 148.49a1.7 1.7 0 1 0 0.01 0zM393.3 148.14a1.7 1.7 0 1 0 0.01 0zM393.74 147.53a1.7 1.7 0 1 0 0.01 0zM394.18 147.74a1.7 1.7 0 1 0 0.01 0zM394.62 148.27a1.7 1.7 0 1 0 0.01 0zM395.07 148.3a1.7 1.7 0 1 0 0.01 0zM395.51 148.44a1.7 1.7 0 1 0 0.01 0zM395.95 148.72a1.7 1.7 0 1 0 0.01 0zM396.39 147.5a1.7 1.7 0 1 0 0.01 0zM396.84 148.53a1.7 1.7 0 1 0 0.01 0zM397.28 149.16a1.7 1.7 0 1 0 0.01 0zM397.72 148.88a1.7 1.7 0 1 0 0.01 0zM398.17 148.32a1.7 1.7 0 1 0 0.01 0zM398.61 148.41a1.7 1.7 0 1 0 0.01 0zM399.05 148.85a1.7 1.7 0 1 0 0.01 0zM399.5 149.17a1.7 1.7 0 1 0 0.01 0zM399.94 148.87a1.7 1.7 0 1 0 0.01 0zM400.38 149.77a1.7 1.7 0 1 0 0.01 0zM400.82 149.63a1.7 1.7 0 1 0 0.01 0zM401.27 148.61a1.7 1.7 0 1 0 0.01 0zM401.71 149.3a1.7 1.7 0 1 0 0.01 0zM402.15 148.91a1.7 1.7 0 1 0 0.01 0zM402.6 148.53a1.7 1.7 0 1 0 0.01 0zM403.04 148.86a1.7 1.7 0 1 0 0.01 0zM403.48 149.22a1.7 1.7 0 1 0 0.01 0zM403.92 148.19a1.7 1.7 0 1 0 0.01 0zM404.37 148.97a1.7 1.7 0 1 0 0.01 0zM404.81 149.53a1.7 1.7 0 1 0 0.01 0zM405.25 149.02a1.7 1.7 0 1 0 0.01 0zM405.69 149.23a1.7 1.7 0 1 0 0.01 0zM406.14 149.91a1.7 1.7 0 1 0 0.01 0zM406.58 149.47a1.7 1.7 0 1 0 0.01 0zM407.02 149.63a1.7 1.7 0 1 0 0.01 0zM407.47 150.58a1.7 1.7 0 1 0 0.01 0zM407.91 149.71a1.7 1.7 0 1 0 0.01 0zM408.35 149.8a1.7 1.7 0 1 0 0.01 0zM408.8 149.92a1.7 1.7 0 1 0 0.01 0zM409.24 150.56a1.7 1.7 0 1 0 0.01 0zM409.68 149.94a1.7 1.7 0 1 0 0.01 0zM410.12 149.82a1.7 1.7 0 1 0 0.01 0zM410.57 149.78a1.7 1.7 0 1 0 0.01 0zM411.01 150.44a1.7 1.7 0 1 0 0.01 0zM411.45 149.58a1.7 1.7 0 1 0 0.01 0zM411.89 150.55a1.7 1.7 0 1 0 0.01 0zM412.34 150.08a1.7 1.7 0 1 0 0.01 0zM412.78 149.33a1.7 1.7 0 1 0 0.01 0zM413.22 150.38a1.7 1.7 0 1 0 0.01 0zM413.67 150.32a1.7 1.7 0 1 0 0.01 0zM414.11 149.54a1.7 1.7 0 1 0 0.01 0zM414.55 150.31a1.7 1.7 0 1 0 0.01 0zM415 150.3a1.7 1.7 0 1 0 0.01 0zM415.44 150.06a1.7 1.7 0 1 0 0.01 0zM415.88 149.67a1.7 1.7 0 1 0 0.01 0zM416.32 151.35a1.7 1.7 0 1 0 0.01 0zM416.77 150.68a1.7 1.7 0 1 0 0.01 0zM417.21 150.8a1.7 1.7 0 1 0 0.01 0zM417.65 150.86a1.7 1.7 0 1 0 0.01 0zM418.1 150.77a1.7 1.7 0 1 0 0.01 0zM418.54 150.79a1.7 1.7 0 1 0 0.01 0zM418.98 150.24a1.7 1.7 0 1 0 0.01 0zM419.42 150.87a1.7 1.7 0 1 0 0.01 0zM419.87 150.38a1.7 1.7 0 1 0 0.01 0zM420.31 150.27a1.7 1.7 0 1 0 0.01 0zM420.75 150.86a1.7 1.7 0 1 0 0.01 0zM421.2 150.45a1.7 1.7 0 1 0 0.01 0zM421.64 149.71a1.7 1.7 0 1 0 0.01 0zM422.08 150.4a1.7 1.7 0 1 0 0.01 0zM422.52 150.91a1.7 1.7 0 1 0 0.01 0zM422.97 150.65a1.7 1.7 0 1 0 0.01 0zM423.41 151.1a1.7 1.7 0 1 0 0.01 0zM423.85 150.52a1.7 1.7 0 1 0 0.01 0zM424.29 150.25a1.7 1.7 0 1 0 0.01 0zM424.74 151.12a1.7 1.7 0 1 0 0.01 0zM425.18 150.83a1.7 1.7 0 1 0 0.01 0zM425.62 150.18a1.7 1.7 0 1 0 0.01 0zM426.07 151.02a1.7 1.7 0 1 0 0.01 0zM426.51 150.69a1.7 1.7 0 1 0 0.01 0zM426.95 151.32a1.7 1.7 0 1 0 0.01 0zM427.39 151.24a1.7 1.7 0 1 0 0.01 0zM427.84 151.11a1.7 1.7 0 1 0 0.01 0zM428.28 149.79a1.7 1.7 0 1 0 0.01 0zM428.72 151.09a1.7 1.7 0 1 0 0.01 0zM429.17 151.17a1.7 1.7 0 1 0 0.01 0zM429.61 151.2a1.7 1.7 0 1 0 0.01 0zM430.05 151.03a1.7 1.7 0 1 0 0.01 0zM430.5 150.64a1.7 1.7 0 1 0 0.01 0zM430.94 150.89a1.7 1.7 0 1 0 0.01 0zM431.38 149.98a1.7 1.7 0 1 0 0.01 0zM431.82 150.91a1.7 1.7 0 1 0 0.01 0zM432.27 150.32a1.7 1.7 0 1 0 0.01 0zM432.71 150.91a1.7 1.7 0 1 0 0.01 0zM433.15 150.77a1.7 1.7 0 1 0 0.01 0zM433.6 151.8a1.7 1.7 0 1 0 0.01 0zM434.04 151.16a1.7 1.7 0 1 0 0.01 0zM434.48 151.15a1.7 1.7 0 1 0 0.01 0zM434.92 151.25a1.7 1.7 0 1 0 0.01 0zM435.37 152.21a1.7 1.7 0 1 0 0.01 0zM435.81 150.73a1.7 1.7 0 1 0 0.01 0zM436.25 151.37a1.7 1.7 0 1 0 0.01 0zM436.69 151.41a1.7 1.7 0 1 0 0.01 0zM437.14 151.34a1.7 1.7 0 1 0 0.01 0zM437.58 151.34a1.7 1.7 0 1 0 0.01 0zM438.02 151.04a1.7 1.7 0 1 0 0.01 0zM438.47 151.88a1.7 1.7 0 1 0 0.01 0zM438.91 151.73a1.7 1.7 0 1 0 0.01 0zM439.35 151.14a1.7 1.7 0 1 0 0.01 0zM439.8 151.22a1.7 1.7 0 1 0 0.01 0zM440.24 151.49a1.7 1.7 0 1 0 0.01 0zM440.68 151.61a1.7 1.7 0 1 0 0.01 0zM441.12 151.75a1.7 1.7 0 1 0 0.01 0zM441.57 151.38a1.7 1.7 0 1 0 0.01 0zM442.01 150.78a1.7 1.7 0 1 0 0.01 0zM442.45 151.9a1.7 1.7 0 1 0 0.01 0zM442.89 150.63a1.7 1.7 0 1 0 0.01 0zM443.34 150.98a1.7 1.7 0 1 0 0.01 0zM443.78 151.63a1.7 1.7 0 1 0 0.01 0zM444.22 151.04a1.7 1.7 0 1 0 0.01 0zM444.67 152.16a1.7 1.7 0 1 0 0.01 0zM445.11 152.3a1.7 1.7 0 1 0 0.01 0zM445.55 152.09a1.7 1.7 0 1 0 0.01 0zM446 151.67a1.7 1.7 0 1 0 0.01 0z" stroke="#f57e12" fill="#ffd2a6"/></g><rect x="260" y="7.5" width="186" height="149.3" fill="none" stroke="#333333" stroke-width="1"/><path d="M268.86 156.8v-2.6M313.14 156.8v-2.6M357.43 156.8v-2.6M401.71 156.8v-2.6M446 156.8v-2.6M291 156.8v-1.6M335.29 156.8v-1.6M379.57 156.8v-1.6M423.86 156.8v-1.6" stroke="#333333" stroke-width="0.9" fill="none"/><text x="268.86" y="166" font-size="7.6" text-anchor="middle" >400</text><text x="313.14" y="166" font-size="7.6" text-anchor="middle" >450</text><text x="357.43" y="166" font-size="7.6" text-anchor="middle" >500</text><text x="401.71" y="166" font-size="7.6" text-anchor="middle" >550</text><text x="446" y="166" font-size="7.6" text-anchor="middle" >600</text><text x="352.9" y="181" font-size="9.6" text-anchor="middle" >Wavelength (nm)</text><text x="253.5" y="82.3" font-size="9.6" text-anchor="middle" transform="rotate(-90 253.5 82.3)" >Intensity (arb. units)</text><circle cx="361.3" cy="18.3" r="1.7" fill="#c8202c"/><text x="374.4" y="22.3" font-size="7.2" >(CMA)<tspan dy="2.02" font-size="5.62">2</tspan><tspan dy="-2.02">PbBr<tspan dy="2.02" font-size="5.62">4</tspan><tspan dy="-2.02"></tspan></tspan></text><circle cx="361.3" cy="31.7" r="1.7" fill="#7a7a7a"/><text x="374.4" y="35.7" font-size="7.2" >(PEA)<tspan dy="2.02" font-size="5.62">2</tspan><tspan dy="-2.02">PbBr<tspan dy="2.02" font-size="5.62">4</tspan><tspan dy="-2.02"></tspan></tspan></text><circle cx="361.3" cy="45.1" r="1.7" fill="#4f83c9"/><text x="374.4" y="49.1" font-size="7.2" >(CMA-COOH)<tspan dy="2.02" font-size="5.62">2</tspan><tspan dy="-2.02">PbBr<tspan dy="2.02" font-size="5.62">4</tspan><tspan dy="-2.02"></tspan></tspan></text><circle cx="361.3" cy="58.5" r="1.7" fill="#f57e12"/><text x="374.4" y="62.5" font-size="7.2" >(1,4-CMA)PbBr<tspan dy="2.02" font-size="5.62">4</tspan><tspan dy="-2.02"></tspan></text><path d="M558.77 144.42 559.33 144.03 559.89 143.13 560.44 143.89 561 141.56 561.56 142.11 562.12 140.78 562.68 139.7 563.24 139.34 563.8 138.49 564.36 137.04 564.92 134.85 565.47 132.85 566.03 131.36 566.59 131.47 567.15 129.58 567.71 127.95 568.27 124.31 568.83 125.55 569.39 118.94 569.95 119.08 570.5 117.17 571.06 112.95 571.62 109.2 572.18 107.6 572.74 103.55 573.3 102.26 573.86 97.28 574.42 94.16 574.98 93.68 575.54 87.47 576.09 86.91 576.65 83.93 577.21 82.99 577.77 78.51 578.33 73.02 578.89 74.83 579.45 67.3 580.01 65.14 580.57 62.56 581.12 66.12 581.68 58.42 582.24 54.19 582.8 55.68 583.36 51.53 583.92 56.3 584.48 46.72 585.04 48.99 585.6 43.82 586.15 50.33 586.71 42.92 587.27 45.14 587.83 42.26 588.39 47.17 588.95 46.81 589.51 39.83 590.07 49.06 590.63 49.93 591.18 50.23 591.74 53.85 592.3 49.95 592.86 50.68 593.42 59.15 593.98 64.11 594.54 59.47 595.1 62.37 595.66 65.92 596.21 68.08 596.77 75.77 597.33 77.22 597.89 82.98 598.45 86.11 599.01 84.15 599.57 90.71 600.13 87.92 600.69 95.38 601.24 99.76 601.8 100.08 602.36 101.27 602.92 106.43 603.48 111.99 604.04 112.04 604.6 113.07 605.16 118.32 605.72 121.01 606.27 120.75 606.83 124.03 607.39 127.56 607.95 128.51 608.51 130.66 609.07 131.12 609.63 132.85 610.19 133.26 610.75 135.04 611.3 138.3 611.86 137.69 612.42 138.35 612.98 139.66 613.54 140.13 614.1 142.01 614.66 142.95 615.22 142.44 615.78 144.16 616.33 145.22 616.89 144.05 617.45 145.3 618.01 145.48 618.57 146.24 619.13 146.46 619.69 146.63 620.25 146.57 620.81 146.55 621.36 147.48 621.92 146.8 622.48 147.41 623.04 147.48 623.6 147.2 624.16 147.44 624.72 147.77 625.28 147.28 625.84 147.75 626.39 147.64 626.95 147.69 627.51 147.59 628.07 147.83 628.63 147.71" stroke="#6e6e6e" stroke-width="0.5" fill="none" opacity="0.7"/><path d="M558.76 142.87a1.55 1.55 0 1 0 0.01 0zM559.32 142.48a1.55 1.55 0 1 0 0.01 0zM559.88 141.58a1.55 1.55 0 1 0 0.01 0zM560.44 142.34a1.55 1.55 0 1 0 0.01 0zM561 140.01a1.55 1.55 0 1 0 0.01 0zM561.56 140.56a1.55 1.55 0 1 0 0.01 0zM562.12 139.23a1.55 1.55 0 1 0 0.01 0zM562.68 138.15a1.55 1.55 0 1 0 0.01 0zM563.23 137.79a1.55 1.55 0 1 0 0.01 0zM563.79 136.94a1.55 1.55 0 1 0 0.01 0zM564.35 135.49a1.55 1.55 0 1 0 0.01 0zM564.91 133.3a1.55 1.55 0 1 0 0.01 0zM565.47 131.3a1.55 1.55 0 1 0 0.01 0zM566.03 129.81a1.55 1.55 0 1 0 0.01 0zM566.59 129.92a1.55 1.55 0 1 0 0.01 0zM567.15 128.03a1.55 1.55 0 1 0 0.01 0zM567.71 126.4a1.55 1.55 0 1 0 0.01 0zM568.26 122.76a1.55 1.55 0 1 0 0.01 0zM568.82 124a1.55 1.55 0 1 0 0.01 0zM569.38 117.39a1.55 1.55 0 1 0 0.01 0zM569.94 117.53a1.55 1.55 0 1 0 0.01 0zM570.5 115.62a1.55 1.55 0 1 0 0.01 0zM571.06 111.4a1.55 1.55 0 1 0 0.01 0zM571.62 107.65a1.55 1.55 0 1 0 0.01 0zM572.18 106.05a1.55 1.55 0 1 0 0.01 0zM572.74 102a1.55 1.55 0 1 0 0.01 0zM573.29 100.71a1.55 1.55 0 1 0 0.01 0zM573.85 95.73a1.55 1.55 0 1 0 0.01 0zM574.41 92.61a1.55 1.55 0 1 0 0.01 0zM574.97 92.13a1.55 1.55 0 1 0 0.01 0zM575.53 85.92a1.55 1.55 0 1 0 0.01 0zM576.09 85.36a1.55 1.55 0 1 0 0.01 0zM576.65 82.38a1.55 1.55 0 1 0 0.01 0zM577.21 81.44a1.55 1.55 0 1 0 0.01 0zM577.77 76.96a1.55 1.55 0 1 0 0.01 0zM578.32 71.47a1.55 1.55 0 1 0 0.01 0zM578.88 73.28a1.55 1.55 0 1 0 0.01 0zM579.44 65.75a1.55 1.55 0 1 0 0.01 0zM580 63.59a1.55 1.55 0 1 0 0.01 0zM580.56 61.01a1.55 1.55 0 1 0 0.01 0zM581.12 64.57a1.55 1.55 0 1 0 0.01 0zM581.68 56.87a1.55 1.55 0 1 0 0.01 0zM582.24 52.64a1.55 1.55 0 1 0 0.01 0zM582.8 54.13a1.55 1.55 0 1 0 0.01 0zM583.35 49.98a1.55 1.55 0 1 0 0.01 0zM583.91 54.75a1.55 1.55 0 1 0 0.01 0zM584.47 45.17a1.55 1.55 0 1 0 0.01 0zM585.03 47.44a1.55 1.55 0 1 0 0.01 0zM585.59 42.27a1.55 1.55 0 1 0 0.01 0zM586.15 48.78a1.55 1.55 0 1 0 0.01 0zM586.71 41.37a1.55 1.55 0 1 0 0.01 0zM587.27 43.59a1.55 1.55 0 1 0 0.01 0zM587.83 40.71a1.55 1.55 0 1 0 0.01 0zM588.38 45.62a1.55 1.55 0 1 0 0.01 0zM588.94 45.26a1.55 1.55 0 1 0 0.01 0zM589.5 38.28a1.55 1.55 0 1 0 0.01 0zM590.06 47.51a1.55 1.55 0 1 0 0.01 0zM590.62 48.38a1.55 1.55 0 1 0 0.01 0zM591.18 48.68a1.55 1.55 0 1 0 0.01 0zM591.74 52.3a1.55 1.55 0 1 0 0.01 0zM592.3 48.4a1.55 1.55 0 1 0 0.01 0zM592.86 49.13a1.55 1.55 0 1 0 0.01 0zM593.41 57.6a1.55 1.55 0 1 0 0.01 0zM593.97 62.56a1.55 1.55 0 1 0 0.01 0zM594.53 57.92a1.55 1.55 0 1 0 0.01 0zM595.09 60.82a1.55 1.55 0 1 0 0.01 0zM595.65 64.37a1.55 1.55 0 1 0 0.01 0zM596.21 66.53a1.55 1.55 0 1 0 0.01 0zM596.77 74.22a1.55 1.55 0 1 0 0.01 0zM597.33 75.67a1.55 1.55 0 1 0 0.01 0zM597.89 81.43a1.55 1.55 0 1 0 0.01 0zM598.44 84.56a1.55 1.55 0 1 0 0.01 0zM599 82.6a1.55 1.55 0 1 0 0.01 0zM599.56 89.16a1.55 1.55 0 1 0 0.01 0zM600.12 86.37a1.55 1.55 0 1 0 0.01 0zM600.68 93.83a1.55 1.55 0 1 0 0.01 0zM601.24 98.21a1.55 1.55 0 1 0 0.01 0zM601.8 98.53a1.55 1.55 0 1 0 0.01 0zM602.36 99.72a1.55 1.55 0 1 0 0.01 0zM602.92 104.88a1.55 1.55 0 1 0 0.01 0zM603.48 110.44a1.55 1.55 0 1 0 0.01 0zM604.03 110.49a1.55 1.55 0 1 0 0.01 0zM604.59 111.52a1.55 1.55 0 1 0 0.01 0zM605.15 116.77a1.55 1.55 0 1 0 0.01 0zM605.71 119.46a1.55 1.55 0 1 0 0.01 0zM606.27 119.2a1.55 1.55 0 1 0 0.01 0zM606.83 122.48a1.55 1.55 0 1 0 0.01 0zM607.39 126.01a1.55 1.55 0 1 0 0.01 0zM607.95 126.96a1.55 1.55 0 1 0 0.01 0zM608.51 129.11a1.55 1.55 0 1 0 0.01 0zM609.06 129.57a1.55 1.55 0 1 0 0.01 0zM609.62 131.3a1.55 1.55 0 1 0 0.01 0zM610.18 131.71a1.55 1.55 0 1 0 0.01 0zM610.74 133.49a1.55 1.55 0 1 0 0.01 0zM611.3 136.75a1.55 1.55 0 1 0 0.01 0zM611.86 136.14a1.55 1.55 0 1 0 0.01 0zM612.42 136.8a1.55 1.55 0 1 0 0.01 0zM612.98 138.11a1.55 1.55 0 1 0 0.01 0zM613.54 138.58a1.55 1.55 0 1 0 0.01 0zM614.09 140.46a1.55 1.55 0 1 0 0.01 0zM614.65 141.4a1.55 1.55 0 1 0 0.01 0zM615.21 140.89a1.55 1.55 0 1 0 0.01 0zM615.77 142.61a1.55 1.55 0 1 0 0.01 0zM616.33 143.67a1.55 1.55 0 1 0 0.01 0zM616.89 142.5a1.55 1.55 0 1 0 0.01 0zM617.45 143.75a1.55 1.55 0 1 0 0.01 0zM618.01 143.93a1.55 1.55 0 1 0 0.01 0zM618.57 144.69a1.55 1.55 0 1 0 0.01 0zM619.12 144.91a1.55 1.55 0 1 0 0.01 0zM619.68 145.08a1.55 1.55 0 1 0 0.01 0zM620.24 145.02a1.55 1.55 0 1 0 0.01 0zM620.8 145a1.55 1.55 0 1 0 0.01 0zM621.36 145.93a1.55 1.55 0 1 0 0.01 0zM621.92 145.25a1.55 1.55 0 1 0 0.01 0zM622.48 145.86a1.55 1.55 0 1 0 0.01 0zM623.04 145.93a1.55 1.55 0 1 0 0.01 0zM623.6 145.65a1.55 1.55 0 1 0 0.01 0zM624.15 145.89a1.55 1.55 0 1 0 0.01 0zM624.71 146.22a1.55 1.55 0 1 0 0.01 0zM625.27 145.73a1.55 1.55 0 1 0 0.01 0zM625.83 146.2a1.55 1.55 0 1 0 0.01 0zM626.39 146.09a1.55 1.55 0 1 0 0.01 0zM626.95 146.14a1.55 1.55 0 1 0 0.01 0zM627.51 146.04a1.55 1.55 0 1 0 0.01 0zM628.07 146.28a1.55 1.55 0 1 0 0.01 0zM628.63 146.16a1.55 1.55 0 1 0 0.01 0z" stroke="#6e6e6e" fill="#d4d4d4" stroke-width="0.85"/><path d="M491.7 147.93 492.26 147.93 492.82 147.93 493.38 147.93 493.94 147.93 494.49 147.93 495.05 147.93 495.61 147.93 496.17 147.93 496.73 147.93 497.29 147.93 497.85 147.93 498.41 147.93 498.97 147.93 499.52 147.93 500.08 147.93 500.64 147.93 501.2 147.93 501.76 147.94 502.32 147.92 502.88 147.96 503.44 147.93 504 147.93 504.55 147.92 505.11 147.89 505.67 147.95 506.23 147.81 506.79 147.83 507.35 147.81 507.91 147.82 508.47 147.7 509.03 147.27 509.58 147.29 510.14 146.71 510.7 145.93 511.26 145.28 511.82 144.21 512.38 144.01 512.94 143.24 513.5 140.54 514.06 139.2 514.61 136.51 515.17 135.05 515.73 131.37 516.29 128.85 516.85 125.99 517.41 123.17 517.97 120.27 518.53 117.58 519.09 114.94 519.64 111.56 520.2 111.83 520.76 107.23 521.32 109.2 521.88 107.48 522.44 109.59 523 110.95 523.56 109.4 524.12 114.86 524.68 118.66 525.23 120.68 525.79 123.13 526.35 123.36 526.91 128.52 527.47 130.68 528.03 135.1 528.59 136.35 529.15 138.28 529.71 139.46 530.26 142.58 530.82 143.19 531.38 144.42 531.94 145.79 532.5 146.08 533.06 146.66 533.62 147.51 534.18 147.14 534.74 147.38 535.29 147.67 535.85 147.87 536.41 147.66 536.97 147.82 537.53 147.82 538.09 147.83 538.65 147.93 539.21 147.89 539.77 147.93 540.32 147.93 540.88 147.93 541.44 147.93 542 147.92 542.56 147.93 543.12 147.93 543.68 147.93 544.24 147.93 544.8 147.93 545.35 147.93 545.91 147.93 546.47 147.93 547.03 147.93 547.59 147.93 548.15 147.93 548.71 147.93 549.27 147.93 549.83 147.93 550.38 147.93 550.94 147.93 551.5 147.93 552.06 147.93 552.62 147.93 553.18 147.93 553.74 147.93 554.3 147.93 554.86 147.93 555.41 147.93 555.97 147.93 556.53 147.93 557.09 147.93 557.65 147.93 558.21 147.93 558.77 147.93 559.33 147.93 559.89 147.93 560.44 147.93 561 147.93 561.56 147.93 562.12 147.93 562.68 147.93 563.24 147.93 563.8 147.93 564.36 147.93 564.92 147.93 565.47 147.93 566.03 147.93 566.59 147.93 567.15 147.93 567.71 147.93 568.27 147.93 568.83 147.93 569.39 147.93 569.95 147.93" stroke="#f58a1c" stroke-width="0.5" fill="none" opacity="0.7"/><path d="M491.69 146.38a1.55 1.55 0 1 0 0.01 0zM492.25 146.38a1.55 1.55 0 1 0 0.01 0zM492.81 146.38a1.55 1.55 0 1 0 0.01 0zM493.37 146.38a1.55 1.55 0 1 0 0.01 0zM493.93 146.38a1.55 1.55 0 1 0 0.01 0zM494.49 146.38a1.55 1.55 0 1 0 0.01 0zM495.05 146.38a1.55 1.55 0 1 0 0.01 0zM495.61 146.38a1.55 1.55 0 1 0 0.01 0zM496.17 146.38a1.55 1.55 0 1 0 0.01 0zM496.73 146.38a1.55 1.55 0 1 0 0.01 0zM497.28 146.38a1.55 1.55 0 1 0 0.01 0zM497.84 146.38a1.55 1.55 0 1 0 0.01 0zM498.4 146.38a1.55 1.55 0 1 0 0.01 0zM498.96 146.38a1.55 1.55 0 1 0 0.01 0zM499.52 146.38a1.55 1.55 0 1 0 0.01 0zM500.08 146.38a1.55 1.55 0 1 0 0.01 0zM500.64 146.38a1.55 1.55 0 1 0 0.01 0zM501.2 146.38a1.55 1.55 0 1 0 0.01 0zM501.76 146.39a1.55 1.55 0 1 0 0.01 0zM502.31 146.37a1.55 1.55 0 1 0 0.01 0zM502.87 146.41a1.55 1.55 0 1 0 0.01 0zM503.43 146.38a1.55 1.55 0 1 0 0.01 0zM503.99 146.38a1.55 1.55 0 1 0 0.01 0zM504.55 146.37a1.55 1.55 0 1 0 0.01 0zM505.11 146.34a1.55 1.55 0 1 0 0.01 0zM505.67 146.4a1.55 1.55 0 1 0 0.01 0zM506.23 146.26a1.55 1.55 0 1 0 0.01 0zM506.79 146.28a1.55 1.55 0 1 0 0.01 0zM507.34 146.26a1.55 1.55 0 1 0 0.01 0zM507.9 146.27a1.55 1.55 0 1 0 0.01 0zM508.46 146.15a1.55 1.55 0 1 0 0.01 0zM509.02 145.72a1.55 1.55 0 1 0 0.01 0zM509.58 145.74a1.55 1.55 0 1 0 0.01 0zM510.14 145.16a1.55 1.55 0 1 0 0.01 0zM510.7 144.38a1.55 1.55 0 1 0 0.01 0zM511.26 143.73a1.55 1.55 0 1 0 0.01 0zM511.82 142.66a1.55 1.55 0 1 0 0.01 0zM512.37 142.46a1.55 1.55 0 1 0 0.01 0zM512.93 141.69a1.55 1.55 0 1 0 0.01 0zM513.49 138.99a1.55 1.55 0 1 0 0.01 0zM514.05 137.65a1.55 1.55 0 1 0 0.01 0zM514.61 134.96a1.55 1.55 0 1 0 0.01 0zM515.17 133.5a1.55 1.55 0 1 0 0.01 0zM515.73 129.82a1.55 1.55 0 1 0 0.01 0zM516.29 127.3a1.55 1.55 0 1 0 0.01 0zM516.85 124.44a1.55 1.55 0 1 0 0.01 0zM517.4 121.62a1.55 1.55 0 1 0 0.01 0zM517.96 118.72a1.55 1.55 0 1 0 0.01 0zM518.52 116.03a1.55 1.55 0 1 0 0.01 0zM519.08 113.39a1.55 1.55 0 1 0 0.01 0zM519.64 110.01a1.55 1.55 0 1 0 0.01 0zM520.2 110.28a1.55 1.55 0 1 0 0.01 0zM520.76 105.68a1.55 1.55 0 1 0 0.01 0zM521.32 107.65a1.55 1.55 0 1 0 0.01 0zM521.88 105.93a1.55 1.55 0 1 0 0.01 0zM522.43 108.04a1.55 1.55 0 1 0 0.01 0zM522.99 109.4a1.55 1.55 0 1 0 0.01 0zM523.55 107.85a1.55 1.55 0 1 0 0.01 0zM524.11 113.31a1.55 1.55 0 1 0 0.01 0zM524.67 117.11a1.55 1.55 0 1 0 0.01 0zM525.23 119.13a1.55 1.55 0 1 0 0.01 0zM525.79 121.58a1.55 1.55 0 1 0 0.01 0zM526.35 121.81a1.55 1.55 0 1 0 0.01 0zM526.91 126.97a1.55 1.55 0 1 0 0.01 0zM527.46 129.13a1.55 1.55 0 1 0 0.01 0zM528.02 133.55a1.55 1.55 0 1 0 0.01 0zM528.58 134.8a1.55 1.55 0 1 0 0.01 0zM529.14 136.73a1.55 1.55 0 1 0 0.01 0zM529.7 137.91a1.55 1.55 0 1 0 0.01 0zM530.26 141.03a1.55 1.55 0 1 0 0.01 0zM530.82 141.64a1.55 1.55 0 1 0 0.01 0zM531.38 142.87a1.55 1.55 0 1 0 0.01 0zM531.94 144.24a1.55 1.55 0 1 0 0.01 0zM532.49 144.53a1.55 1.55 0 1 0 0.01 0zM533.05 145.11a1.55 1.55 0 1 0 0.01 0zM533.61 145.96a1.55 1.55 0 1 0 0.01 0zM534.17 145.59a1.55 1.55 0 1 0 0.01 0zM534.73 145.83a1.55 1.55 0 1 0 0.01 0zM535.29 146.12a1.55 1.55 0 1 0 0.01 0zM535.85 146.32a1.55 1.55 0 1 0 0.01 0zM536.41 146.11a1.55 1.55 0 1 0 0.01 0zM536.97 146.27a1.55 1.55 0 1 0 0.01 0zM537.52 146.27a1.55 1.55 0 1 0 0.01 0zM538.08 146.28a1.55 1.55 0 1 0 0.01 0zM538.64 146.38a1.55 1.55 0 1 0 0.01 0zM539.2 146.34a1.55 1.55 0 1 0 0.01 0zM539.76 146.38a1.55 1.55 0 1 0 0.01 0zM540.32 146.38a1.55 1.55 0 1 0 0.01 0zM540.88 146.38a1.55 1.55 0 1 0 0.01 0zM541.44 146.38a1.55 1.55 0 1 0 0.01 0zM542 146.37a1.55 1.55 0 1 0 0.01 0zM542.55 146.38a1.55 1.55 0 1 0 0.01 0zM543.11 146.38a1.55 1.55 0 1 0 0.01 0zM543.67 146.38a1.55 1.55 0 1 0 0.01 0zM544.23 146.38a1.55 1.55 0 1 0 0.01 0zM544.79 146.38a1.55 1.55 0 1 0 0.01 0zM545.35 146.38a1.55 1.55 0 1 0 0.01 0zM545.91 146.38a1.55 1.55 0 1 0 0.01 0zM546.47 146.38a1.55 1.55 0 1 0 0.01 0zM547.03 146.38a1.55 1.55 0 1 0 0.01 0zM547.58 146.38a1.55 1.55 0 1 0 0.01 0zM548.14 146.38a1.55 1.55 0 1 0 0.01 0zM548.7 146.38a1.55 1.55 0 1 0 0.01 0zM549.26 146.38a1.55 1.55 0 1 0 0.01 0zM549.82 146.38a1.55 1.55 0 1 0 0.01 0zM550.38 146.38a1.55 1.55 0 1 0 0.01 0zM550.94 146.38a1.55 1.55 0 1 0 0.01 0zM551.5 146.38a1.55 1.55 0 1 0 0.01 0zM552.06 146.38a1.55 1.55 0 1 0 0.01 0zM552.62 146.38a1.55 1.55 0 1 0 0.01 0zM553.17 146.38a1.55 1.55 0 1 0 0.01 0zM553.73 146.38a1.55 1.55 0 1 0 0.01 0zM554.29 146.38a1.55 1.55 0 1 0 0.01 0zM554.85 146.38a1.55 1.55 0 1 0 0.01 0zM555.41 146.38a1.55 1.55 0 1 0 0.01 0zM555.97 146.38a1.55 1.55 0 1 0 0.01 0zM556.53 146.38a1.55 1.55 0 1 0 0.01 0zM557.09 146.38a1.55 1.55 0 1 0 0.01 0zM557.65 146.38a1.55 1.55 0 1 0 0.01 0zM558.2 146.38a1.55 1.55 0 1 0 0.01 0zM558.76 146.38a1.55 1.55 0 1 0 0.01 0zM559.32 146.38a1.55 1.55 0 1 0 0.01 0zM559.88 146.38a1.55 1.55 0 1 0 0.01 0zM560.44 146.38a1.55 1.55 0 1 0 0.01 0zM561 146.38a1.55 1.55 0 1 0 0.01 0zM561.56 146.38a1.55 1.55 0 1 0 0.01 0zM562.12 146.38a1.55 1.55 0 1 0 0.01 0zM562.68 146.38a1.55 1.55 0 1 0 0.01 0zM563.23 146.38a1.55 1.55 0 1 0 0.01 0zM563.79 146.38a1.55 1.55 0 1 0 0.01 0zM564.35 146.38a1.55 1.55 0 1 0 0.01 0zM564.91 146.38a1.55 1.55 0 1 0 0.01 0zM565.47 146.38a1.55 1.55 0 1 0 0.01 0zM566.03 146.38a1.55 1.55 0 1 0 0.01 0zM566.59 146.38a1.55 1.55 0 1 0 0.01 0zM567.15 146.38a1.55 1.55 0 1 0 0.01 0zM567.71 146.38a1.55 1.55 0 1 0 0.01 0zM568.26 146.38a1.55 1.55 0 1 0 0.01 0zM568.82 146.38a1.55 1.55 0 1 0 0.01 0zM569.38 146.38a1.55 1.55 0 1 0 0.01 0zM569.94 146.38a1.55 1.55 0 1 0 0.01 0z" stroke="#f58a1c" fill="#ffd2a0" stroke-width="0.85"/><path d="M491.7 147.93 492.26 147.93 492.82 147.93 493.38 147.93 493.94 147.93 494.49 147.93 495.05 147.93 495.61 147.93 496.17 147.93 496.73 147.93 497.29 147.93 497.85 147.93 498.41 147.93 498.97 147.93 499.52 147.93 500.08 147.93 500.64 147.93 501.2 147.93 501.76 147.93 502.32 147.93 502.88 147.93 503.44 147.93 504 147.93 504.55 147.93 505.11 147.93 505.67 147.93 506.23 147.93 506.79 147.93 507.35 147.93 507.91 147.93 508.47 147.93 509.03 147.93 509.58 147.93 510.14 147.93 510.7 147.93 511.26 147.92 511.82 147.93 512.38 147.93 512.94 147.93 513.5 147.94 514.06 147.93 514.61 147.93 515.17 147.9 515.73 147.93 516.29 147.95 516.85 147.94 517.41 147.92 517.97 147.95 518.53 147.94 519.09 147.93 519.64 147.91 520.2 147.92 520.76 147.94 521.32 147.86 521.88 147.92 522.44 147.91 523 147.96 523.56 147.9 524.12 147.75 524.68 147.94 525.23 147.73 525.79 147.57 526.35 147.66 526.91 147.47 527.47 147.62 528.03 146.99 528.59 146.85 529.15 146.86 529.71 147.21 530.26 146.75 530.82 145.72 531.38 144.99 531.94 145.08 532.5 144.06 533.06 144.35 533.62 143.4 534.18 142.45 534.74 141.19 535.29 141.5 535.85 138.4 536.41 136.62 536.97 137.24 537.53 135.8 538.09 132.21 538.65 131.23 539.21 131.05 539.77 124.8 540.32 123 540.88 121.1 541.44 114.4 542 114.23 542.56 112.47 543.12 107.79 543.68 106.42 544.24 102.58 544.8 97.05 545.35 95.46 545.91 91.95 546.47 84.37 547.03 82.9 547.59 80.07 548.15 77.94 548.71 75.58 549.27 71.19 549.83 72.73 550.38 66.87 550.94 72.32 551.5 69.95 552.06 72.28 552.62 69.9 553.18 68.33 553.74 67.01 554.3 73.2 554.86 73.25 555.41 76.02 555.97 79.11 556.53 82.6 557.09 82.63 557.65 89.38 558.21 88.65 558.77 92.11 559.33 96.78 559.89 100.8 560.44 104.82 561 102.49 561.56 111.3 562.12 109.85 562.68 114.57 563.24 119.03 563.8 122.97 564.36 122.74 564.92 124.52 565.47 130.1 566.03 131.54 566.59 132.15 567.15 134.74 567.71 134.94 568.27 138.7 568.83 139.15 569.39 141.65 569.95 140.43 570.5 143.18 571.06 144.78 571.62 144.31 572.18 144.92 572.74 144.56 573.3 145.95 573.86 146.19 574.42 146.31 574.98 146.31 575.53 147 576.09 146.93 576.65 147.21 577.21 147.5 577.77 147.53 578.33 147.62 578.89 147.81 579.45 147.6 580.01 147.92 580.57 147.71 581.12 147.77 581.68 147.87 582.24 147.92 582.8 147.9 583.36 147.88 583.92 147.88 584.48 147.9 585.04 147.89 585.6 147.93 586.15 147.92 586.71 147.95 587.27 147.91 587.83 147.92 588.39 147.93 588.95 147.92 589.51 147.92 590.07 147.95 590.63 147.93 591.18 147.94 591.74 147.92 592.3 147.92 592.86 147.93 593.42 147.93 593.98 147.93 594.54 147.93 595.1 147.93 595.66 147.93 596.21 147.93 596.77 147.93 597.33 147.93 597.89 147.93 598.45 147.93 599.01 147.93 599.57 147.93 600.13 147.93 600.69 147.93 601.24 147.93 601.8 147.93 602.36 147.93" stroke="#c5202c" stroke-width="0.5" fill="none" opacity="0.7"/><path d="M491.69 146.38a1.55 1.55 0 1 0 0.01 0zM492.25 146.38a1.55 1.55 0 1 0 0.01 0zM492.81 146.38a1.55 1.55 0 1 0 0.01 0zM493.37 146.38a1.55 1.55 0 1 0 0.01 0zM493.93 146.38a1.55 1.55 0 1 0 0.01 0zM494.49 146.38a1.55 1.55 0 1 0 0.01 0zM495.05 146.38a1.55 1.55 0 1 0 0.01 0zM495.61 146.38a1.55 1.55 0 1 0 0.01 0zM496.17 146.38a1.55 1.55 0 1 0 0.01 0zM496.73 146.38a1.55 1.55 0 1 0 0.01 0zM497.28 146.38a1.55 1.55 0 1 0 0.01 0zM497.84 146.38a1.55 1.55 0 1 0 0.01 0zM498.4 146.38a1.55 1.55 0 1 0 0.01 0zM498.96 146.38a1.55 1.55 0 1 0 0.01 0zM499.52 146.38a1.55 1.55 0 1 0 0.01 0zM500.08 146.38a1.55 1.55 0 1 0 0.01 0zM500.64 146.38a1.55 1.55 0 1 0 0.01 0zM501.2 146.38a1.55 1.55 0 1 0 0.01 0zM501.76 146.38a1.55 1.55 0 1 0 0.01 0zM502.31 146.38a1.55 1.55 0 1 0 0.01 0zM502.87 146.38a1.55 1.55 0 1 0 0.01 0zM503.43 146.38a1.55 1.55 0 1 0 0.01 0zM503.99 146.38a1.55 1.55 0 1 0 0.01 0zM504.55 146.38a1.55 1.55 0 1 0 0.01 0zM505.11 146.38a1.55 1.55 0 1 0 0.01 0zM505.67 146.38a1.55 1.55 0 1 0 0.01 0zM506.23 146.38a1.55 1.55 0 1 0 0.01 0zM506.79 146.38a1.55 1.55 0 1 0 0.01 0zM507.34 146.38a1.55 1.55 0 1 0 0.01 0zM507.9 146.38a1.55 1.55 0 1 0 0.01 0zM508.46 146.38a1.55 1.55 0 1 0 0.01 0zM509.02 146.38a1.55 1.55 0 1 0 0.01 0zM509.58 146.38a1.55 1.55 0 1 0 0.01 0zM510.14 146.38a1.55 1.55 0 1 0 0.01 0zM510.7 146.38a1.55 1.55 0 1 0 0.01 0zM511.26 146.37a1.55 1.55 0 1 0 0.01 0zM511.82 146.38a1.55 1.55 0 1 0 0.01 0zM512.37 146.38a1.55 1.55 0 1 0 0.01 0zM512.93 146.38a1.55 1.55 0 1 0 0.01 0zM513.49 146.39a1.55 1.55 0 1 0 0.01 0zM514.05 146.38a1.55 1.55 0 1 0 0.01 0zM514.61 146.38a1.55 1.55 0 1 0 0.01 0zM515.17 146.35a1.55 1.55 0 1 0 0.01 0zM515.73 146.38a1.55 1.55 0 1 0 0.01 0zM516.29 146.4a1.55 1.55 0 1 0 0.01 0zM516.85 146.39a1.55 1.55 0 1 0 0.01 0zM517.4 146.37a1.55 1.55 0 1 0 0.01 0zM517.96 146.4a1.55 1.55 0 1 0 0.01 0zM518.52 146.39a1.55 1.55 0 1 0 0.01 0zM519.08 146.38a1.55 1.55 0 1 0 0.01 0zM519.64 146.36a1.55 1.55 0 1 0 0.01 0zM520.2 146.37a1.55 1.55 0 1 0 0.01 0zM520.76 146.39a1.55 1.55 0 1 0 0.01 0zM521.32 146.31a1.55 1.55 0 1 0 0.01 0zM521.88 146.37a1.55 1.55 0 1 0 0.01 0zM522.43 146.36a1.55 1.55 0 1 0 0.01 0zM522.99 146.41a1.55 1.55 0 1 0 0.01 0zM523.55 146.35a1.55 1.55 0 1 0 0.01 0zM524.11 146.2a1.55 1.55 0 1 0 0.01 0zM524.67 146.39a1.55 1.55 0 1 0 0.01 0zM525.23 146.18a1.55 1.55 0 1 0 0.01 0zM525.79 146.02a1.55 1.55 0 1 0 0.01 0zM526.35 146.11a1.55 1.55 0 1 0 0.01 0zM526.91 145.92a1.55 1.55 0 1 0 0.01 0zM527.46 146.07a1.55 1.55 0 1 0 0.01 0zM528.02 145.44a1.55 1.55 0 1 0 0.01 0zM528.58 145.3a1.55 1.55 0 1 0 0.01 0zM529.14 145.31a1.55 1.55 0 1 0 0.01 0zM529.7 145.66a1.55 1.55 0 1 0 0.01 0zM530.26 145.2a1.55 1.55 0 1 0 0.01 0zM530.82 144.17a1.55 1.55 0 1 0 0.01 0zM531.38 143.44a1.55 1.55 0 1 0 0.01 0zM531.94 143.53a1.55 1.55 0 1 0 0.01 0zM532.49 142.51a1.55 1.55 0 1 0 0.01 0zM533.05 142.8a1.55 1.55 0 1 0 0.01 0zM533.61 141.85a1.55 1.55 0 1 0 0.01 0zM534.17 140.9a1.55 1.55 0 1 0 0.01 0zM534.73 139.64a1.55 1.55 0 1 0 0.01 0zM535.29 139.95a1.55 1.55 0 1 0 0.01 0zM535.85 136.85a1.55 1.55 0 1 0 0.01 0zM536.41 135.07a1.55 1.55 0 1 0 0.01 0zM536.97 135.69a1.55 1.55 0 1 0 0.01 0zM537.52 134.25a1.55 1.55 0 1 0 0.01 0zM538.08 130.66a1.55 1.55 0 1 0 0.01 0zM538.64 129.68a1.55 1.55 0 1 0 0.01 0zM539.2 129.5a1.55 1.55 0 1 0 0.01 0zM539.76 123.25a1.55 1.55 0 1 0 0.01 0zM540.32 121.45a1.55 1.55 0 1 0 0.01 0zM540.88 119.55a1.55 1.55 0 1 0 0.01 0zM541.44 112.85a1.55 1.55 0 1 0 0.01 0zM542 112.68a1.55 1.55 0 1 0 0.01 0zM542.55 110.92a1.55 1.55 0 1 0 0.01 0zM543.11 106.24a1.55 1.55 0 1 0 0.01 0zM543.67 104.87a1.55 1.55 0 1 0 0.01 0zM544.23 101.03a1.55 1.55 0 1 0 0.01 0zM544.79 95.5a1.55 1.55 0 1 0 0.01 0zM545.35 93.91a1.55 1.55 0 1 0 0.01 0zM545.91 90.4a1.55 1.55 0 1 0 0.01 0zM546.47 82.82a1.55 1.55 0 1 0 0.01 0zM547.03 81.35a1.55 1.55 0 1 0 0.01 0zM547.58 78.52a1.55 1.55 0 1 0 0.01 0zM548.14 76.39a1.55 1.55 0 1 0 0.01 0zM548.7 74.03a1.55 1.55 0 1 0 0.01 0zM549.26 69.64a1.55 1.55 0 1 0 0.01 0zM549.82 71.18a1.55 1.55 0 1 0 0.01 0zM550.38 65.32a1.55 1.55 0 1 0 0.01 0zM550.94 70.77a1.55 1.55 0 1 0 0.01 0zM551.5 68.4a1.55 1.55 0 1 0 0.01 0zM552.06 70.73a1.55 1.55 0 1 0 0.01 0zM552.62 68.35a1.55 1.55 0 1 0 0.01 0zM553.17 66.78a1.55 1.55 0 1 0 0.01 0zM553.73 65.46a1.55 1.55 0 1 0 0.01 0zM554.29 71.65a1.55 1.55 0 1 0 0.01 0zM554.85 71.7a1.55 1.55 0 1 0 0.01 0zM555.41 74.47a1.55 1.55 0 1 0 0.01 0zM555.97 77.56a1.55 1.55 0 1 0 0.01 0zM556.53 81.05a1.55 1.55 0 1 0 0.01 0zM557.09 81.08a1.55 1.55 0 1 0 0.01 0zM557.65 87.83a1.55 1.55 0 1 0 0.01 0zM558.2 87.1a1.55 1.55 0 1 0 0.01 0zM558.76 90.56a1.55 1.55 0 1 0 0.01 0zM559.32 95.23a1.55 1.55 0 1 0 0.01 0zM559.88 99.25a1.55 1.55 0 1 0 0.01 0zM560.44 103.27a1.55 1.55 0 1 0 0.01 0zM561 100.94a1.55 1.55 0 1 0 0.01 0zM561.56 109.75a1.55 1.55 0 1 0 0.01 0zM562.12 108.3a1.55 1.55 0 1 0 0.01 0zM562.68 113.02a1.55 1.55 0 1 0 0.01 0zM563.23 117.48a1.55 1.55 0 1 0 0.01 0zM563.79 121.42a1.55 1.55 0 1 0 0.01 0zM564.35 121.19a1.55 1.55 0 1 0 0.01 0zM564.91 122.97a1.55 1.55 0 1 0 0.01 0zM565.47 128.55a1.55 1.55 0 1 0 0.01 0zM566.03 129.99a1.55 1.55 0 1 0 0.01 0zM566.59 130.6a1.55 1.55 0 1 0 0.01 0zM567.15 133.19a1.55 1.55 0 1 0 0.01 0zM567.71 133.39a1.55 1.55 0 1 0 0.01 0zM568.26 137.15a1.55 1.55 0 1 0 0.01 0zM568.82 137.6a1.55 1.55 0 1 0 0.01 0zM569.38 140.1a1.55 1.55 0 1 0 0.01 0zM569.94 138.88a1.55 1.55 0 1 0 0.01 0zM570.5 141.63a1.55 1.55 0 1 0 0.01 0zM571.06 143.23a1.55 1.55 0 1 0 0.01 0zM571.62 142.76a1.55 1.55 0 1 0 0.01 0zM572.18 143.37a1.55 1.55 0 1 0 0.01 0zM572.74 143.01a1.55 1.55 0 1 0 0.01 0zM573.29 144.4a1.55 1.55 0 1 0 0.01 0zM573.85 144.64a1.55 1.55 0 1 0 0.01 0zM574.41 144.76a1.55 1.55 0 1 0 0.01 0zM574.97 144.76a1.55 1.55 0 1 0 0.01 0zM575.53 145.45a1.55 1.55 0 1 0 0.01 0zM576.09 145.38a1.55 1.55 0 1 0 0.01 0zM576.65 145.66a1.55 1.55 0 1 0 0.01 0zM577.21 145.95a1.55 1.55 0 1 0 0.01 0zM577.77 145.98a1.55 1.55 0 1 0 0.01 0zM578.32 146.07a1.55 1.55 0 1 0 0.01 0zM578.88 146.26a1.55 1.55 0 1 0 0.01 0zM579.44 146.05a1.55 1.55 0 1 0 0.01 0zM580 146.37a1.55 1.55 0 1 0 0.01 0zM580.56 146.16a1.55 1.55 0 1 0 0.01 0zM581.12 146.22a1.55 1.55 0 1 0 0.01 0zM581.68 146.32a1.55 1.55 0 1 0 0.01 0zM582.24 146.37a1.55 1.55 0 1 0 0.01 0zM582.8 146.35a1.55 1.55 0 1 0 0.01 0zM583.35 146.33a1.55 1.55 0 1 0 0.01 0zM583.91 146.33a1.55 1.55 0 1 0 0.01 0zM584.47 146.35a1.55 1.55 0 1 0 0.01 0zM585.03 146.34a1.55 1.55 0 1 0 0.01 0zM585.59 146.38a1.55 1.55 0 1 0 0.01 0zM586.15 146.37a1.55 1.55 0 1 0 0.01 0zM586.71 146.4a1.55 1.55 0 1 0 0.01 0zM587.27 146.36a1.55 1.55 0 1 0 0.01 0zM587.83 146.37a1.55 1.55 0 1 0 0.01 0zM588.38 146.38a1.55 1.55 0 1 0 0.01 0zM588.94 146.37a1.55 1.55 0 1 0 0.01 0zM589.5 146.37a1.55 1.55 0 1 0 0.01 0zM590.06 146.4a1.55 1.55 0 1 0 0.01 0zM590.62 146.38a1.55 1.55 0 1 0 0.01 0zM591.18 146.39a1.55 1.55 0 1 0 0.01 0zM591.74 146.37a1.55 1.55 0 1 0 0.01 0zM592.3 146.37a1.55 1.55 0 1 0 0.01 0zM592.86 146.38a1.55 1.55 0 1 0 0.01 0zM593.41 146.38a1.55 1.55 0 1 0 0.01 0zM593.97 146.38a1.55 1.55 0 1 0 0.01 0zM594.53 146.38a1.55 1.55 0 1 0 0.01 0zM595.09 146.38a1.55 1.55 0 1 0 0.01 0zM595.65 146.38a1.55 1.55 0 1 0 0.01 0zM596.21 146.38a1.55 1.55 0 1 0 0.01 0zM596.77 146.38a1.55 1.55 0 1 0 0.01 0zM597.33 146.38a1.55 1.55 0 1 0 0.01 0zM597.89 146.38a1.55 1.55 0 1 0 0.01 0zM598.44 146.38a1.55 1.55 0 1 0 0.01 0zM599 146.38a1.55 1.55 0 1 0 0.01 0zM599.56 146.38a1.55 1.55 0 1 0 0.01 0zM600.12 146.38a1.55 1.55 0 1 0 0.01 0zM600.68 146.38a1.55 1.55 0 1 0 0.01 0zM601.24 146.38a1.55 1.55 0 1 0 0.01 0zM601.8 146.38a1.55 1.55 0 1 0 0.01 0zM602.36 146.38a1.55 1.55 0 1 0 0.01 0z" stroke="#c5202c" fill="#f0a8a8" stroke-width="0.85"/><path d="M491.7 147.93 492.26 147.93 492.82 147.93 493.38 147.93 493.94 147.92 494.49 147.93 495.05 147.93 495.61 147.93 496.17 147.92 496.73 147.94 497.29 147.92 497.85 147.93 498.41 147.93 498.97 147.94 499.52 147.94 500.08 147.93 500.64 147.93 501.2 147.92 501.76 147.95 502.32 147.9 502.88 147.92 503.44 147.93 504 147.94 504.55 147.94 505.11 147.95 505.67 147.93 506.23 147.91 506.79 147.92 507.35 147.96 507.91 147.91 508.47 147.94 509.03 147.89 509.58 147.8 510.14 147.85 510.7 147.89 511.26 147.96 511.82 147.94 512.38 147.96 512.94 147.76 513.5 147.86 514.06 147.77 514.61 147.81 515.17 147.7 515.73 147.51 516.29 147.73 516.85 147.64 517.41 147.66 517.97 147.35 518.53 147.59 519.09 147.55 519.64 147.53 520.2 147.46 520.76 146.96 521.32 146.34 521.88 147.06 522.44 146.41 523 146.43 523.56 146.65 524.12 146.21 524.68 145.98 525.23 145.9 525.79 144.66 526.35 145.86 526.91 144.63 527.47 144.3 528.03 144.34 528.59 143.59 529.15 142.78 529.71 142.68 530.26 142.03 530.82 141.32 531.38 142.41 531.94 139.6 532.5 138.37 533.06 138.53 533.62 137.76 534.18 138.81 534.74 137.04 535.29 136.78 535.85 135.75 536.41 133.51 536.97 134.15 537.53 132.58 538.09 133.31 538.65 130.62 539.21 129.34 539.77 129.11 540.32 128.08 540.88 124.15 541.44 126.52 542 125.28 542.56 123.94 543.12 120.46 543.68 118.26 544.24 119.39 544.8 119.71 545.35 118.36 545.91 115.45 546.47 117.16 547.03 113.1 547.59 112.31 548.15 113.4 548.71 111.89 549.27 111.1 549.83 109.38 550.38 112.61 550.94 108.97 551.5 110.88 552.06 111.19 552.62 109.74 553.18 110.11 553.74 111.23 554.3 112.19 554.86 111.38 555.41 108.13 555.97 107.71 556.53 110.01 557.09 109.72 557.65 112.7 558.21 112.69 558.77 112.86 559.33 115.49 559.89 116.15 560.44 115.52 561 116.97 561.56 118.88 562.12 117.97 562.68 119.8 563.24 119.24 563.8 121.56 564.36 122.98 564.92 123.56 565.47 124.99 566.03 126.62 566.59 127.39 567.15 127.23 567.71 128.41 568.27 128.83 568.83 132.78 569.39 132.51 569.95 133.48 570.5 133.89 571.06 135.34 571.62 136.25 572.18 136.05 572.74 137.34 573.3 139.11 573.86 138.04 574.42 139 574.98 140.71 575.53 140.44 576.09 141.98 576.65 141.45 577.21 142.72 577.77 143.5 578.33 143.71 578.89 144.3 579.45 144.24 580.01 144.6 580.57 144.98 581.12 145.51 581.68 146.9 582.24 145.79 582.8 146.66 583.36 146.18 583.92 146.11 584.48 146.53 585.04 146.86 585.6 146.94 586.15 147.05 586.71 147.25 587.27 147.35 587.83 147.49 588.39 147.19 588.95 147.47 589.51 147.38 590.07 147.61 590.63 147.62 591.18 147.69 591.74 147.65 592.3 147.65 592.86 147.74 593.42 147.85 593.98 147.87 594.54 147.7 595.1 147.86 595.66 147.87 596.21 147.78 596.77 147.82 597.33 147.86 597.89 147.91 598.45 147.8 599.01 147.89 599.57 147.89 600.13 147.92 600.69 147.96 601.24 147.95 601.8 147.91 602.36 147.91 602.92 147.93 603.48 147.94 604.04 147.95 604.6 147.93 605.16 147.95 605.72 147.92 606.27 147.91 606.83 147.9 607.39 147.92 607.95 147.93 608.51 147.93 609.07 147.95 609.63 147.93 610.19 147.93 610.75 147.92 611.3 147.93 611.86 147.93 612.42 147.93 612.98 147.93 613.54 147.93" stroke="#1a2890" stroke-width="0.5" fill="none" opacity="0.7"/><path d="M491.69 146.38a1.55 1.55 0 1 0 0.01 0zM492.25 146.38a1.55 1.55 0 1 0 0.01 0zM492.81 146.38a1.55 1.55 0 1 0 0.01 0zM493.37 146.38a1.55 1.55 0 1 0 0.01 0zM493.93 146.37a1.55 1.55 0 1 0 0.01 0zM494.49 146.38a1.55 1.55 0 1 0 0.01 0zM495.05 146.38a1.55 1.55 0 1 0 0.01 0zM495.61 146.38a1.55 1.55 0 1 0 0.01 0zM496.17 146.37a1.55 1.55 0 1 0 0.01 0zM496.73 146.39a1.55 1.55 0 1 0 0.01 0zM497.28 146.37a1.55 1.55 0 1 0 0.01 0zM497.84 146.38a1.55 1.55 0 1 0 0.01 0zM498.4 146.38a1.55 1.55 0 1 0 0.01 0zM498.96 146.39a1.55 1.55 0 1 0 0.01 0zM499.52 146.39a1.55 1.55 0 1 0 0.01 0zM500.08 146.38a1.55 1.55 0 1 0 0.01 0zM500.64 146.38a1.55 1.55 0 1 0 0.01 0zM501.2 146.37a1.55 1.55 0 1 0 0.01 0zM501.76 146.4a1.55 1.55 0 1 0 0.01 0zM502.31 146.35a1.55 1.55 0 1 0 0.01 0zM502.87 146.37a1.55 1.55 0 1 0 0.01 0zM503.43 146.38a1.55 1.55 0 1 0 0.01 0zM503.99 146.39a1.55 1.55 0 1 0 0.01 0zM504.55 146.39a1.55 1.55 0 1 0 0.01 0zM505.11 146.4a1.55 1.55 0 1 0 0.01 0zM505.67 146.38a1.55 1.55 0 1 0 0.01 0zM506.23 146.36a1.55 1.55 0 1 0 0.01 0zM506.79 146.37a1.55 1.55 0 1 0 0.01 0zM507.34 146.41a1.55 1.55 0 1 0 0.01 0zM507.9 146.36a1.55 1.55 0 1 0 0.01 0zM508.46 146.39a1.55 1.55 0 1 0 0.01 0zM509.02 146.34a1.55 1.55 0 1 0 0.01 0zM509.58 146.25a1.55 1.55 0 1 0 0.01 0zM510.14 146.3a1.55 1.55 0 1 0 0.01 0zM510.7 146.34a1.55 1.55 0 1 0 0.01 0zM511.26 146.41a1.55 1.55 0 1 0 0.01 0zM511.82 146.39a1.55 1.55 0 1 0 0.01 0zM512.37 146.41a1.55 1.55 0 1 0 0.01 0zM512.93 146.21a1.55 1.55 0 1 0 0.01 0zM513.49 146.31a1.55 1.55 0 1 0 0.01 0zM514.05 146.22a1.55 1.55 0 1 0 0.01 0zM514.61 146.26a1.55 1.55 0 1 0 0.01 0zM515.17 146.15a1.55 1.55 0 1 0 0.01 0zM515.73 145.96a1.55 1.55 0 1 0 0.01 0zM516.29 146.18a1.55 1.55 0 1 0 0.01 0zM516.85 146.09a1.55 1.55 0 1 0 0.01 0zM517.4 146.11a1.55 1.55 0 1 0 0.01 0zM517.96 145.8a1.55 1.55 0 1 0 0.01 0zM518.52 146.04a1.55 1.55 0 1 0 0.01 0zM519.08 146a1.55 1.55 0 1 0 0.01 0zM519.64 145.98a1.55 1.55 0 1 0 0.01 0zM520.2 145.91a1.55 1.55 0 1 0 0.01 0zM520.76 145.41a1.55 1.55 0 1 0 0.01 0zM521.32 144.79a1.55 1.55 0 1 0 0.01 0zM521.88 145.51a1.55 1.55 0 1 0 0.01 0zM522.43 144.86a1.55 1.55 0 1 0 0.01 0zM522.99 144.88a1.55 1.55 0 1 0 0.01 0zM523.55 145.1a1.55 1.55 0 1 0 0.01 0zM524.11 144.66a1.55 1.55 0 1 0 0.01 0zM524.67 144.43a1.55 1.55 0 1 0 0.01 0zM525.23 144.35a1.55 1.55 0 1 0 0.01 0zM525.79 143.11a1.55 1.55 0 1 0 0.01 0zM526.35 144.31a1.55 1.55 0 1 0 0.01 0zM526.91 143.08a1.55 1.55 0 1 0 0.01 0zM527.46 142.75a1.55 1.55 0 1 0 0.01 0zM528.02 142.79a1.55 1.55 0 1 0 0.01 0zM528.58 142.04a1.55 1.55 0 1 0 0.01 0zM529.14 141.23a1.55 1.55 0 1 0 0.01 0zM529.7 141.13a1.55 1.55 0 1 0 0.01 0zM530.26 140.48a1.55 1.55 0 1 0 0.01 0zM530.82 139.77a1.55 1.55 0 1 0 0.01 0zM531.38 140.86a1.55 1.55 0 1 0 0.01 0zM531.94 138.05a1.55 1.55 0 1 0 0.01 0zM532.49 136.82a1.55 1.55 0 1 0 0.01 0zM533.05 136.98a1.55 1.55 0 1 0 0.01 0zM533.61 136.21a1.55 1.55 0 1 0 0.01 0zM534.17 137.26a1.55 1.55 0 1 0 0.01 0zM534.73 135.49a1.55 1.55 0 1 0 0.01 0zM535.29 135.23a1.55 1.55 0 1 0 0.01 0zM535.85 134.2a1.55 1.55 0 1 0 0.01 0zM536.41 131.96a1.55 1.55 0 1 0 0.01 0zM536.97 132.6a1.55 1.55 0 1 0 0.01 0zM537.52 131.03a1.55 1.55 0 1 0 0.01 0zM538.08 131.76a1.55 1.55 0 1 0 0.01 0zM538.64 129.07a1.55 1.55 0 1 0 0.01 0zM539.2 127.79a1.55 1.55 0 1 0 0.01 0zM539.76 127.56a1.55 1.55 0 1 0 0.01 0zM540.32 126.53a1.55 1.55 0 1 0 0.01 0zM540.88 122.6a1.55 1.55 0 1 0 0.01 0zM541.44 124.97a1.55 1.55 0 1 0 0.01 0zM542 123.73a1.55 1.55 0 1 0 0.01 0zM542.55 122.39a1.55 1.55 0 1 0 0.01 0zM543.11 118.91a1.55 1.55 0 1 0 0.01 0zM543.67 116.71a1.55 1.55 0 1 0 0.01 0zM544.23 117.84a1.55 1.55 0 1 0 0.01 0zM544.79 118.16a1.55 1.55 0 1 0 0.01 0zM545.35 116.81a1.55 1.55 0 1 0 0.01 0zM545.91 113.9a1.55 1.55 0 1 0 0.01 0zM546.47 115.61a1.55 1.55 0 1 0 0.01 0zM547.03 111.55a1.55 1.55 0 1 0 0.01 0zM547.58 110.76a1.55 1.55 0 1 0 0.01 0zM548.14 111.85a1.55 1.55 0 1 0 0.01 0zM548.7 110.34a1.55 1.55 0 1 0 0.01 0zM549.26 109.55a1.55 1.55 0 1 0 0.01 0zM549.82 107.83a1.55 1.55 0 1 0 0.01 0zM550.38 111.06a1.55 1.55 0 1 0 0.01 0zM550.94 107.42a1.55 1.55 0 1 0 0.01 0zM551.5 109.33a1.55 1.55 0 1 0 0.01 0zM552.06 109.64a1.55 1.55 0 1 0 0.01 0zM552.62 108.19a1.55 1.55 0 1 0 0.01 0zM553.17 108.56a1.55 1.55 0 1 0 0.01 0zM553.73 109.68a1.55 1.55 0 1 0 0.01 0zM554.29 110.64a1.55 1.55 0 1 0 0.01 0zM554.85 109.83a1.55 1.55 0 1 0 0.01 0zM555.41 106.58a1.55 1.55 0 1 0 0.01 0zM555.97 106.16a1.55 1.55 0 1 0 0.01 0zM556.53 108.46a1.55 1.55 0 1 0 0.01 0zM557.09 108.17a1.55 1.55 0 1 0 0.01 0zM557.65 111.15a1.55 1.55 0 1 0 0.01 0zM558.2 111.14a1.55 1.55 0 1 0 0.01 0zM558.76 111.31a1.55 1.55 0 1 0 0.01 0zM559.32 113.94a1.55 1.55 0 1 0 0.01 0zM559.88 114.6a1.55 1.55 0 1 0 0.01 0zM560.44 113.97a1.55 1.55 0 1 0 0.01 0zM561 115.42a1.55 1.55 0 1 0 0.01 0zM561.56 117.33a1.55 1.55 0 1 0 0.01 0zM562.12 116.42a1.55 1.55 0 1 0 0.01 0zM562.68 118.25a1.55 1.55 0 1 0 0.01 0zM563.23 117.69a1.55 1.55 0 1 0 0.01 0zM563.79 120.01a1.55 1.55 0 1 0 0.01 0zM564.35 121.43a1.55 1.55 0 1 0 0.01 0zM564.91 122.01a1.55 1.55 0 1 0 0.01 0zM565.47 123.44a1.55 1.55 0 1 0 0.01 0zM566.03 125.07a1.55 1.55 0 1 0 0.01 0zM566.59 125.84a1.55 1.55 0 1 0 0.01 0zM567.15 125.68a1.55 1.55 0 1 0 0.01 0zM567.71 126.86a1.55 1.55 0 1 0 0.01 0zM568.26 127.28a1.55 1.55 0 1 0 0.01 0zM568.82 131.23a1.55 1.55 0 1 0 0.01 0zM569.38 130.96a1.55 1.55 0 1 0 0.01 0zM569.94 131.93a1.55 1.55 0 1 0 0.01 0zM570.5 132.34a1.55 1.55 0 1 0 0.01 0zM571.06 133.79a1.55 1.55 0 1 0 0.01 0zM571.62 134.7a1.55 1.55 0 1 0 0.01 0zM572.18 134.5a1.55 1.55 0 1 0 0.01 0zM572.74 135.79a1.55 1.55 0 1 0 0.01 0zM573.29 137.56a1.55 1.55 0 1 0 0.01 0zM573.85 136.49a1.55 1.55 0 1 0 0.01 0zM574.41 137.45a1.55 1.55 0 1 0 0.01 0zM574.97 139.16a1.55 1.55 0 1 0 0.01 0zM575.53 138.89a1.55 1.55 0 1 0 0.01 0zM576.09 140.43a1.55 1.55 0 1 0 0.01 0zM576.65 139.9a1.55 1.55 0 1 0 0.01 0zM577.21 141.17a1.55 1.55 0 1 0 0.01 0zM577.77 141.95a1.55 1.55 0 1 0 0.01 0zM578.32 142.16a1.55 1.55 0 1 0 0.01 0zM578.88 142.75a1.55 1.55 0 1 0 0.01 0zM579.44 142.69a1.55 1.55 0 1 0 0.01 0zM580 143.05a1.55 1.55 0 1 0 0.01 0zM580.56 143.43a1.55 1.55 0 1 0 0.01 0zM581.12 143.96a1.55 1.55 0 1 0 0.01 0zM581.68 145.35a1.55 1.55 0 1 0 0.01 0zM582.24 144.24a1.55 1.55 0 1 0 0.01 0zM582.8 145.11a1.55 1.55 0 1 0 0.01 0zM583.35 144.63a1.55 1.55 0 1 0 0.01 0zM583.91 144.56a1.55 1.55 0 1 0 0.01 0zM584.47 144.98a1.55 1.55 0 1 0 0.01 0zM585.03 145.31a1.55 1.55 0 1 0 0.01 0zM585.59 145.39a1.55 1.55 0 1 0 0.01 0zM586.15 145.5a1.55 1.55 0 1 0 0.01 0zM586.71 145.7a1.55 1.55 0 1 0 0.01 0zM587.27 145.8a1.55 1.55 0 1 0 0.01 0zM587.83 145.94a1.55 1.55 0 1 0 0.01 0zM588.38 145.64a1.55 1.55 0 1 0 0.01 0zM588.94 145.92a1.55 1.55 0 1 0 0.01 0zM589.5 145.83a1.55 1.55 0 1 0 0.01 0zM590.06 146.06a1.55 1.55 0 1 0 0.01 0zM590.62 146.07a1.55 1.55 0 1 0 0.01 0zM591.18 146.14a1.55 1.55 0 1 0 0.01 0zM591.74 146.1a1.55 1.55 0 1 0 0.01 0zM592.3 146.1a1.55 1.55 0 1 0 0.01 0zM592.86 146.19a1.55 1.55 0 1 0 0.01 0zM593.41 146.3a1.55 1.55 0 1 0 0.01 0zM593.97 146.32a1.55 1.55 0 1 0 0.01 0zM594.53 146.15a1.55 1.55 0 1 0 0.01 0zM595.09 146.31a1.55 1.55 0 1 0 0.01 0zM595.65 146.32a1.55 1.55 0 1 0 0.01 0zM596.21 146.23a1.55 1.55 0 1 0 0.01 0zM596.77 146.27a1.55 1.55 0 1 0 0.01 0zM597.33 146.31a1.55 1.55 0 1 0 0.01 0zM597.89 146.36a1.55 1.55 0 1 0 0.01 0zM598.44 146.25a1.55 1.55 0 1 0 0.01 0zM599 146.34a1.55 1.55 0 1 0 0.01 0zM599.56 146.34a1.55 1.55 0 1 0 0.01 0zM600.12 146.37a1.55 1.55 0 1 0 0.01 0zM600.68 146.41a1.55 1.55 0 1 0 0.01 0zM601.24 146.4a1.55 1.55 0 1 0 0.01 0zM601.8 146.36a1.55 1.55 0 1 0 0.01 0zM602.36 146.36a1.55 1.55 0 1 0 0.01 0zM602.92 146.38a1.55 1.55 0 1 0 0.01 0zM603.47 146.39a1.55 1.55 0 1 0 0.01 0zM604.03 146.4a1.55 1.55 0 1 0 0.01 0zM604.59 146.38a1.55 1.55 0 1 0 0.01 0zM605.15 146.4a1.55 1.55 0 1 0 0.01 0zM605.71 146.37a1.55 1.55 0 1 0 0.01 0zM606.27 146.36a1.55 1.55 0 1 0 0.01 0zM606.83 146.35a1.55 1.55 0 1 0 0.01 0zM607.39 146.37a1.55 1.55 0 1 0 0.01 0zM607.95 146.38a1.55 1.55 0 1 0 0.01 0zM608.51 146.38a1.55 1.55 0 1 0 0.01 0zM609.06 146.4a1.55 1.55 0 1 0 0.01 0zM609.62 146.38a1.55 1.55 0 1 0 0.01 0zM610.18 146.38a1.55 1.55 0 1 0 0.01 0zM610.74 146.37a1.55 1.55 0 1 0 0.01 0zM611.3 146.38a1.55 1.55 0 1 0 0.01 0zM611.86 146.38a1.55 1.55 0 1 0 0.01 0zM612.42 146.38a1.55 1.55 0 1 0 0.01 0zM612.98 146.38a1.55 1.55 0 1 0 0.01 0zM613.54 146.38a1.55 1.55 0 1 0 0.01 0z" stroke="#1a2890" fill="#9aa0d8" stroke-width="0.85"/><path d="M571.81 147.94 572.37 147.93 572.93 147.95 573.49 147.9 574.04 147.9 574.6 147.91 575.16 147.95 575.72 147.92 576.28 147.92 576.84 147.91 577.4 147.92 577.96 147.89 578.52 147.92 579.07 147.86 579.63 147.88 580.19 147.9 580.75 147.88 581.31 147.89 581.87 147.79 582.43 147.86 582.99 147.79 583.55 147.84 584.1 147.93 584.66 147.64 585.22 147.84 585.78 147.58 586.34 147.56 586.9 147.84 587.46 147.67 588.02 147.54 588.58 147.52 589.13 147.52 589.69 146.98 590.25 147.09 590.81 146.78 591.37 146.85 591.93 146.45 592.49 146.59 593.05 146.11 593.61 145.62 594.16 145.52 594.72 145.41 595.28 145.35 595.84 144.34 596.4 143.77 596.96 143.59 597.52 143.33 598.08 141.9 598.64 139.87 599.2 141 599.75 139.69 600.31 138.72 600.87 140.17 601.43 136.82 601.99 136.4 602.55 133.11 603.11 133.34 603.67 132.43 604.23 130.24 604.78 128.09 605.34 127.15 605.9 124.58 606.46 124.26 607.02 120.57 607.58 116.81 608.14 112.52 608.7 111.84 609.26 109.84 609.81 105.49 610.37 102.81 610.93 98.58 611.49 96.46 612.05 95.53 612.61 91.5 613.17 88.3 613.73 84.61 614.29 81.35 614.84 80.02 615.4 79.55 615.96 72.78 616.52 72.51 617.08 64 617.64 60.68 618.2 61.52 618.76 52.14 619.32 48.38 619.87 47.26 620.43 39.97 620.99 36.47 621.55 42.25 622.11 33.43 622.67 32.74 623.23 30.64 623.79 27.21 624.35 30.31 624.9 28.5 625.46 27.99 626.02 26.85 626.58 24.23 627.14 27.84 627.7 26.5 628.26 21.81 628.82 24.14 629.38 23.48 629.93 31.13 630.49 29.06 631.05 29.84 631.61 29.82 632.17 33.53 632.73 31.34 633.29 36.51 633.85 38.84 634.41 41.57 634.96 42.57 635.52 48.77 636.08 47.71 636.64 52.73 637.2 56.88 637.76 60.58 638.32 62.89 638.88 65.25 639.44 69 639.99 73.89 640.55 76.33 641.11 81.53 641.67 82.61 642.23 88.72 642.79 96.16 643.35 92.71 643.91 98.29 644.47 103.72 645.02 104.95 645.58 108.99 646.14 106.85 646.7 112.17 647.26 117.89 647.82 117.14 648.38 120.81 648.94 119.86 649.5 125.87 650.05 129.23 650.61 128.21 651.17 130.39 651.73 132.04 652.29 135.28 652.85 134.05 653.41 134.19 653.97 138.62 654.53 137.04 655.09 139.47 655.64 138.17 656.2 140.47 656.76 141.67 657.32 141.54 657.88 142.56 658.44 143.78 659 143.58 659.56 144.68 660.12 145.68 660.67 144.32 661.23 145.69 661.79 146.08 662.35 145.98 662.91 146.86 663.47 146.97 664.03 146.87 664.59 147.03 665.15 147.01 665.7 146.89 666.26 147.37 666.82 147.26 667.38 147.33 667.94 147.7 668.5 147.54 669.06 147.76 669.62 147.53 670.18 147.65 670.73 147.74 671.29 147.91 671.85 147.79 672.41 147.89 672.97 147.78 673.53 147.86 674.09 147.92 674.65 147.82 675.21 147.84 675.76 147.92 676.32 147.84 676.88 147.92" stroke="#5b8fd0" stroke-width="0.5" fill="none" opacity="0.7"/><path d="M571.8 146.39a1.55 1.55 0 1 0 0.01 0zM572.36 146.38a1.55 1.55 0 1 0 0.01 0zM572.92 146.4a1.55 1.55 0 1 0 0.01 0zM573.48 146.35a1.55 1.55 0 1 0 0.01 0zM574.04 146.35a1.55 1.55 0 1 0 0.01 0zM574.6 146.36a1.55 1.55 0 1 0 0.01 0zM575.16 146.4a1.55 1.55 0 1 0 0.01 0zM575.72 146.37a1.55 1.55 0 1 0 0.01 0zM576.28 146.37a1.55 1.55 0 1 0 0.01 0zM576.83 146.36a1.55 1.55 0 1 0 0.01 0zM577.39 146.37a1.55 1.55 0 1 0 0.01 0zM577.95 146.34a1.55 1.55 0 1 0 0.01 0zM578.51 146.37a1.55 1.55 0 1 0 0.01 0zM579.07 146.31a1.55 1.55 0 1 0 0.01 0zM579.63 146.33a1.55 1.55 0 1 0 0.01 0zM580.19 146.35a1.55 1.55 0 1 0 0.01 0zM580.75 146.33a1.55 1.55 0 1 0 0.01 0zM581.31 146.34a1.55 1.55 0 1 0 0.01 0zM581.86 146.24a1.55 1.55 0 1 0 0.01 0zM582.42 146.31a1.55 1.55 0 1 0 0.01 0zM582.98 146.24a1.55 1.55 0 1 0 0.01 0zM583.54 146.29a1.55 1.55 0 1 0 0.01 0zM584.1 146.38a1.55 1.55 0 1 0 0.01 0zM584.66 146.09a1.55 1.55 0 1 0 0.01 0zM585.22 146.29a1.55 1.55 0 1 0 0.01 0zM585.78 146.03a1.55 1.55 0 1 0 0.01 0zM586.34 146.01a1.55 1.55 0 1 0 0.01 0zM586.89 146.29a1.55 1.55 0 1 0 0.01 0zM587.45 146.12a1.55 1.55 0 1 0 0.01 0zM588.01 145.99a1.55 1.55 0 1 0 0.01 0zM588.57 145.97a1.55 1.55 0 1 0 0.01 0zM589.13 145.97a1.55 1.55 0 1 0 0.01 0zM589.69 145.43a1.55 1.55 0 1 0 0.01 0zM590.25 145.54a1.55 1.55 0 1 0 0.01 0zM590.81 145.23a1.55 1.55 0 1 0 0.01 0zM591.37 145.3a1.55 1.55 0 1 0 0.01 0zM591.92 144.9a1.55 1.55 0 1 0 0.01 0zM592.48 145.04a1.55 1.55 0 1 0 0.01 0zM593.04 144.56a1.55 1.55 0 1 0 0.01 0zM593.6 144.07a1.55 1.55 0 1 0 0.01 0zM594.16 143.97a1.55 1.55 0 1 0 0.01 0zM594.72 143.86a1.55 1.55 0 1 0 0.01 0zM595.28 143.8a1.55 1.55 0 1 0 0.01 0zM595.84 142.79a1.55 1.55 0 1 0 0.01 0zM596.4 142.22a1.55 1.55 0 1 0 0.01 0zM596.95 142.04a1.55 1.55 0 1 0 0.01 0zM597.51 141.78a1.55 1.55 0 1 0 0.01 0zM598.07 140.35a1.55 1.55 0 1 0 0.01 0zM598.63 138.32a1.55 1.55 0 1 0 0.01 0zM599.19 139.45a1.55 1.55 0 1 0 0.01 0zM599.75 138.14a1.55 1.55 0 1 0 0.01 0zM600.31 137.17a1.55 1.55 0 1 0 0.01 0zM600.87 138.62a1.55 1.55 0 1 0 0.01 0zM601.43 135.27a1.55 1.55 0 1 0 0.01 0zM601.98 134.85a1.55 1.55 0 1 0 0.01 0zM602.54 131.56a1.55 1.55 0 1 0 0.01 0zM603.1 131.79a1.55 1.55 0 1 0 0.01 0zM603.66 130.88a1.55 1.55 0 1 0 0.01 0zM604.22 128.69a1.55 1.55 0 1 0 0.01 0zM604.78 126.54a1.55 1.55 0 1 0 0.01 0zM605.34 125.6a1.55 1.55 0 1 0 0.01 0zM605.9 123.03a1.55 1.55 0 1 0 0.01 0zM606.46 122.71a1.55 1.55 0 1 0 0.01 0zM607.01 119.02a1.55 1.55 0 1 0 0.01 0zM607.57 115.26a1.55 1.55 0 1 0 0.01 0zM608.13 110.97a1.55 1.55 0 1 0 0.01 0zM608.69 110.29a1.55 1.55 0 1 0 0.01 0zM609.25 108.29a1.55 1.55 0 1 0 0.01 0zM609.81 103.94a1.55 1.55 0 1 0 0.01 0zM610.37 101.26a1.55 1.55 0 1 0 0.01 0zM610.93 97.03a1.55 1.55 0 1 0 0.01 0zM611.49 94.91a1.55 1.55 0 1 0 0.01 0zM612.04 93.98a1.55 1.55 0 1 0 0.01 0zM612.6 89.95a1.55 1.55 0 1 0 0.01 0zM613.16 86.75a1.55 1.55 0 1 0 0.01 0zM613.72 83.06a1.55 1.55 0 1 0 0.01 0zM614.28 79.8a1.55 1.55 0 1 0 0.01 0zM614.84 78.47a1.55 1.55 0 1 0 0.01 0zM615.4 78a1.55 1.55 0 1 0 0.01 0zM615.96 71.23a1.55 1.55 0 1 0 0.01 0zM616.52 70.96a1.55 1.55 0 1 0 0.01 0zM617.07 62.45a1.55 1.55 0 1 0 0.01 0zM617.63 59.13a1.55 1.55 0 1 0 0.01 0zM618.19 59.97a1.55 1.55 0 1 0 0.01 0zM618.75 50.59a1.55 1.55 0 1 0 0.01 0zM619.31 46.83a1.55 1.55 0 1 0 0.01 0zM619.87 45.71a1.55 1.55 0 1 0 0.01 0zM620.43 38.42a1.55 1.55 0 1 0 0.01 0zM620.99 34.92a1.55 1.55 0 1 0 0.01 0zM621.55 40.7a1.55 1.55 0 1 0 0.01 0zM622.1 31.88a1.55 1.55 0 1 0 0.01 0zM622.66 31.19a1.55 1.55 0 1 0 0.01 0zM623.22 29.09a1.55 1.55 0 1 0 0.01 0zM623.78 25.66a1.55 1.55 0 1 0 0.01 0zM624.34 28.76a1.55 1.55 0 1 0 0.01 0zM624.9 26.95a1.55 1.55 0 1 0 0.01 0zM625.46 26.44a1.55 1.55 0 1 0 0.01 0zM626.02 25.3a1.55 1.55 0 1 0 0.01 0zM626.58 22.68a1.55 1.55 0 1 0 0.01 0zM627.14 26.29a1.55 1.55 0 1 0 0.01 0zM627.69 24.95a1.55 1.55 0 1 0 0.01 0zM628.25 20.26a1.55 1.55 0 1 0 0.01 0zM628.81 22.59a1.55 1.55 0 1 0 0.01 0zM629.37 21.93a1.55 1.55 0 1 0 0.01 0zM629.93 29.58a1.55 1.55 0 1 0 0.01 0zM630.49 27.51a1.55 1.55 0 1 0 0.01 0zM631.05 28.29a1.55 1.55 0 1 0 0.01 0zM631.61 28.27a1.55 1.55 0 1 0 0.01 0zM632.17 31.98a1.55 1.55 0 1 0 0.01 0zM632.72 29.79a1.55 1.55 0 1 0 0.01 0zM633.28 34.96a1.55 1.55 0 1 0 0.01 0zM633.84 37.29a1.55 1.55 0 1 0 0.01 0zM634.4 40.02a1.55 1.55 0 1 0 0.01 0zM634.96 41.02a1.55 1.55 0 1 0 0.01 0zM635.52 47.22a1.55 1.55 0 1 0 0.01 0zM636.08 46.16a1.55 1.55 0 1 0 0.01 0zM636.64 51.18a1.55 1.55 0 1 0 0.01 0zM637.2 55.33a1.55 1.55 0 1 0 0.01 0zM637.75 59.03a1.55 1.55 0 1 0 0.01 0zM638.31 61.34a1.55 1.55 0 1 0 0.01 0zM638.87 63.7a1.55 1.55 0 1 0 0.01 0zM639.43 67.45a1.55 1.55 0 1 0 0.01 0zM639.99 72.34a1.55 1.55 0 1 0 0.01 0zM640.55 74.78a1.55 1.55 0 1 0 0.01 0zM641.11 79.98a1.55 1.55 0 1 0 0.01 0zM641.67 81.06a1.55 1.55 0 1 0 0.01 0zM642.23 87.17a1.55 1.55 0 1 0 0.01 0zM642.78 94.61a1.55 1.55 0 1 0 0.01 0zM643.34 91.16a1.55 1.55 0 1 0 0.01 0zM643.9 96.74a1.55 1.55 0 1 0 0.01 0zM644.46 102.17a1.55 1.55 0 1 0 0.01 0zM645.02 103.4a1.55 1.55 0 1 0 0.01 0zM645.58 107.44a1.55 1.55 0 1 0 0.01 0zM646.14 105.3a1.55 1.55 0 1 0 0.01 0zM646.7 110.62a1.55 1.55 0 1 0 0.01 0zM647.26 116.34a1.55 1.55 0 1 0 0.01 0zM647.81 115.59a1.55 1.55 0 1 0 0.01 0zM648.37 119.26a1.55 1.55 0 1 0 0.01 0zM648.93 118.31a1.55 1.55 0 1 0 0.01 0zM649.49 124.32a1.55 1.55 0 1 0 0.01 0zM650.05 127.68a1.55 1.55 0 1 0 0.01 0zM650.61 126.66a1.55 1.55 0 1 0 0.01 0zM651.17 128.84a1.55 1.55 0 1 0 0.01 0zM651.73 130.49a1.55 1.55 0 1 0 0.01 0zM652.29 133.73a1.55 1.55 0 1 0 0.01 0zM652.84 132.5a1.55 1.55 0 1 0 0.01 0zM653.4 132.64a1.55 1.55 0 1 0 0.01 0zM653.96 137.07a1.55 1.55 0 1 0 0.01 0zM654.52 135.49a1.55 1.55 0 1 0 0.01 0zM655.08 137.92a1.55 1.55 0 1 0 0.01 0zM655.64 136.62a1.55 1.55 0 1 0 0.01 0zM656.2 138.92a1.55 1.55 0 1 0 0.01 0zM656.76 140.12a1.55 1.55 0 1 0 0.01 0zM657.32 139.99a1.55 1.55 0 1 0 0.01 0zM657.87 141.01a1.55 1.55 0 1 0 0.01 0zM658.43 142.23a1.55 1.55 0 1 0 0.01 0zM658.99 142.03a1.55 1.55 0 1 0 0.01 0zM659.55 143.13a1.55 1.55 0 1 0 0.01 0zM660.11 144.13a1.55 1.55 0 1 0 0.01 0zM660.67 142.77a1.55 1.55 0 1 0 0.01 0zM661.23 144.14a1.55 1.55 0 1 0 0.01 0zM661.79 144.53a1.55 1.55 0 1 0 0.01 0zM662.35 144.43a1.55 1.55 0 1 0 0.01 0zM662.9 145.31a1.55 1.55 0 1 0 0.01 0zM663.46 145.42a1.55 1.55 0 1 0 0.01 0zM664.02 145.32a1.55 1.55 0 1 0 0.01 0zM664.58 145.48a1.55 1.55 0 1 0 0.01 0zM665.14 145.46a1.55 1.55 0 1 0 0.01 0zM665.7 145.34a1.55 1.55 0 1 0 0.01 0zM666.26 145.82a1.55 1.55 0 1 0 0.01 0zM666.82 145.71a1.55 1.55 0 1 0 0.01 0zM667.38 145.78a1.55 1.55 0 1 0 0.01 0zM667.93 146.15a1.55 1.55 0 1 0 0.01 0zM668.49 145.99a1.55 1.55 0 1 0 0.01 0zM669.05 146.21a1.55 1.55 0 1 0 0.01 0zM669.61 145.98a1.55 1.55 0 1 0 0.01 0zM670.17 146.1a1.55 1.55 0 1 0 0.01 0zM670.73 146.19a1.55 1.55 0 1 0 0.01 0zM671.29 146.36a1.55 1.55 0 1 0 0.01 0zM671.85 146.24a1.55 1.55 0 1 0 0.01 0zM672.41 146.34a1.55 1.55 0 1 0 0.01 0zM672.96 146.23a1.55 1.55 0 1 0 0.01 0zM673.52 146.31a1.55 1.55 0 1 0 0.01 0zM674.08 146.37a1.55 1.55 0 1 0 0.01 0zM674.64 146.27a1.55 1.55 0 1 0 0.01 0zM675.2 146.29a1.55 1.55 0 1 0 0.01 0zM675.76 146.37a1.55 1.55 0 1 0 0.01 0zM676.32 146.29a1.55 1.55 0 1 0 0.01 0zM676.88 146.37a1.55 1.55 0 1 0 0.01 0z" stroke="#5b8fd0" fill="#c0d6f0" stroke-width="0.85"/><rect x="491.7" y="7.6" width="186.3" height="149.1" fill="none" stroke="#333333" stroke-width="1"/><path d="M501.01 156.7v-2.6M519.64 156.7v-2.6M538.27 156.7v-2.6M556.9 156.7v-2.6M575.53 156.7v-2.6M594.16 156.7v-2.6M612.79 156.7v-2.6M631.42 156.7v-2.6M650.06 156.7v-2.6M668.68 156.7v-2.6M491.7 156.7v-1.6M510.33 156.7v-1.6M528.96 156.7v-1.6M547.59 156.7v-1.6M566.22 156.7v-1.6M584.85 156.7v-1.6M603.48 156.7v-1.6M622.11 156.7v-1.6M640.74 156.7v-1.6M659.37 156.7v-1.6M678 156.7v-1.6" stroke="#333333" stroke-width="0.9" fill="none"/><text x="501.01" y="166.2" font-size="7.3" text-anchor="middle" >0</text><text x="519.64" y="166.2" font-size="7.3" text-anchor="middle" >10</text><text x="538.27" y="166.2" font-size="7.3" text-anchor="middle" >20</text><text x="556.9" y="166.2" font-size="7.3" text-anchor="middle" >30</text><text x="575.53" y="166.2" font-size="7.3" text-anchor="middle" >40</text><text x="594.16" y="166.2" font-size="7.3" text-anchor="middle" >50</text><text x="612.79" y="166.2" font-size="7.3" text-anchor="middle" >60</text><text x="631.42" y="166.2" font-size="7.3" text-anchor="middle" >70</text><text x="650.06" y="166.2" font-size="7.3" text-anchor="middle" >80</text><text x="668.68" y="166.2" font-size="7.3" text-anchor="middle" >90</text><path d="M491.7 147.93h2.6M491.7 130.39h2.6M491.7 112.85h2.6M491.7 95.31h2.6M491.7 77.76h2.6M491.7 60.22h2.6M491.7 42.68h2.6M491.7 25.14h2.6M491.7 156.7h1.6M491.7 139.16h1.6M491.7 121.62h1.6M491.7 104.08h1.6M491.7 86.54h1.6M491.7 68.99h1.6M491.7 51.45h1.6M491.7 33.91h1.6M491.7 16.37h1.6" stroke="#333333" stroke-width="0.9" fill="none"/><text x="488.1" y="150.53" font-size="7.3" text-anchor="end" >0</text><text x="488.1" y="132.99" font-size="7.3" text-anchor="end" >200</text><text x="488.1" y="115.45" font-size="7.3" text-anchor="end" >400</text><text x="488.1" y="97.91" font-size="7.3" text-anchor="end" >600</text><text x="488.1" y="80.36" font-size="7.3" text-anchor="end" >800</text><text x="488.1" y="62.82" font-size="7.3" text-anchor="end" >1000</text><text x="488.1" y="45.28" font-size="7.3" text-anchor="end" >1200</text><text x="488.1" y="27.74" font-size="7.3" text-anchor="end" >1400</text><text x="584.7" y="180.9" font-size="9.1" text-anchor="middle" >Channel number</text><text x="468.5" y="82.4" font-size="8.2" text-anchor="middle" transform="rotate(-90 468.5 82.4)" >Counts</text><circle cx="505.5" cy="14.8" r="1.6" fill="#8a8a8a"/><text x="514" y="17.4" font-size="6.5" >LYSO:Ce</text><circle cx="505.5" cy="23.4" r="1.6" fill="#f58a1c"/><text x="514" y="26" font-size="6.5" >BGO</text><circle cx="505.5" cy="32" r="1.6" fill="#6b9bd8"/><text x="514" y="34.6" font-size="6.5" >(CMA)<tspan dy="1.82" font-size="5.07">2</tspan><tspan dy="-1.82">PbBr<tspan dy="1.82" font-size="5.07">4</tspan><tspan dy="-1.82"></tspan></tspan></text><circle cx="505.5" cy="40.6" r="1.6" fill="#d42a36"/><text x="514" y="43.2" font-size="6.5" >(CMA-COOH)<tspan dy="1.82" font-size="5.07">2</tspan><tspan dy="-1.82">PbBr<tspan dy="1.82" font-size="5.07">4</tspan><tspan dy="-1.82"></tspan></tspan></text><circle cx="505.5" cy="49.2" r="1.6" fill="#1a2890"/><text x="514" y="51.8" font-size="6.5" >(1,4-CMA)PbBr<tspan dy="1.82" font-size="5.07">4</tspan><tspan dy="-1.82"></tspan></text><path transform="scale(0.5)" d="M58 423h2M58 424h2M58 425h3M58 426h3M59 427h2M59 428h3M59 429h3M60 430h2M60 431h3M61 432h2M61 433h2M61 434h3M62 435h2M62 436h3M62 437h3M63 438h2M63 439h3M63 440h3M64 441h3M64 442h3M65 443h2M65 444h3M66 446h2M65 447h4M67 448h2M66 449h4M67 450h3M68 451h2M68 452h3M68 453h3M68 454h3M70 455h3M69 456h3M70 457h3M71 458h2M70 459h3M72 460h3M71 461h3M72 462h3M73 463h2M73 464h3M73 465h4M73 466h4M74 467h3M75 468h3M75 469h3M76 470h2M76 471h3M76 472h3M77 473h3M77 474h3M78 475h2M78 476h3M78 477h4M79 478h3M80 479h3M80 480h4M81 481h4M81 482h4M82 483h3M82 484h3M82 485h4M83 486h3M83 487h3M84 488h4M84 489h4M85 490h4M85 491h5M86 492h4M86 493h5M87 494h5M88 495h4M88 496h4M89 497h4M88 498h5M90 499h4M89 500h6M91 501h4M92 502h2M95 502h2M92 503h4M93 504h4M94 505h5M94 506h3M94 507h7M95 508h5M97 509h6M98 510h4M98 511h4M97 512h2M100 512h2M103 512h2M100 513h4M98 514h9M100 515h6M101 516h6M102 517h5M108 517h2M101 518h8M104 519h7M103 520h8M105 521h8M105 522h11M106 523h2M109 523h6M117 523h2M106 524h8M115 524h2M109 525h9M111 526h9M112 527h8M109 528h2M112 528h12M113 529h3M117 529h5M113 530h2M116 530h8M129 530h2M114 531h11M116 532h2M119 532h9M117 533h2M120 533h9M118 534h2M121 534h10M119 535h2M123 535h12M122 536h16M121 537h2M125 537h11M138 537h3M125 538h10M137 538h3M126 539h15M142 539h2M145 539h2M130 540h15M129 541h13M143 541h3M127 542h2M132 542h2M136 542h12M152 542h5M132 543h17M150 543h2M163 543h2M170 543h2M130 544h2M134 544h3M140 544h10M151 544h6M168 544h2M135 545h2M139 545h9M149 545h5M156 545h3M162 545h3M134 546h2M140 546h15M159 546h4M165 546h2M134 547h2M137 547h6M146 547h23M138 548h3M143 548h18M163 548h2M167 548h2M170 548h2M184 548h2M141 549h8M150 549h6M157 549h8M171 549h2M176 549h3M140 550h2M144 550h13M158 550h3M162 550h3M168 550h2M171 550h5M180 550h3M142 551h2M149 551h4M154 551h16M171 551h2M181 551h2M184 551h2M145 552h2M148 552h4M153 552h5M159 552h12M172 552h2M176 552h4M181 552h4M186 552h2M148 553h3M152 553h19M172 553h5M179 553h5M185 553h2M188 553h2M148 554h2M153 554h2M156 554h9M166 554h2M171 554h10M182 554h2M186 554h3M190 554h3M195 554h2M157 555h6M164 555h2M167 555h5M173 555h11M185 555h2M193 555h2M197 555h2M152 556h2M155 556h2M161 556h2M164 556h19M185 556h8M197 556h2M201 556h2M205 556h2M158 557h3M162 557h9M172 557h17M190 557h2M193 557h2M197 557h6M204 557h4M211 557h4M220 557h2M154 558h2M168 558h6M175 558h13M191 558h4M196 558h2M207 558h3M212 558h2M170 559h2M173 559h32M206 559h6M213 559h3M218 559h2M229 559h2M169 560h2M173 560h2M176 560h6M183 560h25M210 560h2M214 560h2M170 561h6M178 561h24M203 561h13M217 561h2M220 561h2M226 561h4M232 561h2M237 561h2M165 562h2M172 562h2M175 562h4M181 562h8M190 562h2M195 562h2M199 562h3M203 562h3M209 562h2M221 562h2M224 562h2M228 562h4M170 563h2M175 563h2M178 563h2M182 563h3M190 563h18M209 563h5M215 563h2M232 563h2M240 563h4M263 563h2M164 564h2M176 564h2M180 564h3M184 564h9M195 564h17M215 564h4M220 564h3M224 564h5M231 564h6M239 564h2M247 564h2M255 564h2M177 565h2M187 565h4M194 565h4M200 565h9M212 565h12M227 565h2M234 565h4M299 565h2M164 566h2M180 566h2M184 566h2M191 566h12M205 566h2M208 566h3M213 566h9M223 566h4M228 566h3M232 566h2M236 566h4M242 566h2M267 566h2M181 567h2M189 567h2M194 567h2M199 567h3M205 567h5M211 567h4M219 567h2M222 567h6M229 567h3M236 567h6M245 567h4M256 567h4M185 568h3M189 568h9M202 568h3M207 568h5M214 568h3M218 568h8M227 568h6M234 568h2M240 568h2M246 568h4M256 568h4M263 568h2M268 568h2M194 569h2M198 569h2M204 569h12M217 569h9M228 569h10M240 569h6M251 569h4M258 569h3M264 569h2M273 569h3M177 570h2M192 570h4M199 570h4M205 570h2M208 570h2M211 570h11M223 570h18M243 570h13M257 570h5M271 570h2M274 570h2M277 570h2M280 570h2M290 570h2M294 570h2M301 570h2M308 570h2M196 571h5M204 571h2M209 571h4M218 571h2M221 571h8M230 571h4M237 571h7M245 571h4M250 571h8M265 571h2M268 571h2M271 571h4M286 571h2M201 572h2M204 572h2M208 572h2M211 572h4M216 572h3M221 572h10M234 572h2M237 572h18M262 572h2M265 572h2M269 572h2M280 572h2M284 572h2M297 572h4M312 572h2M325 572h2M332 572h2M213 573h4M218 573h13M232 573h4M237 573h2M240 573h3M245 573h5M251 573h2M256 573h12M270 573h4M280 573h5M287 573h2M291 573h2M296 573h4M347 573h2M368 573h2M203 575h2M210 575h2M214 575h2M221 575h3M225 575h3M229 575h5M235 575h11M254 575h5M260 575h20M281 575h6M289 575h4M294 575h6M307 575h3M314 575h3M321 575h2M338 575h2M207 576h2M210 576h2M215 576h2M218 576h3M227 576h30M258 576h8M269 576h7M277 576h5M283 576h10M295 576h3M301 576h2M305 576h4M321 576h2M332 576h2M339 576h2M345 576h2M355 576h8M367 576h2M376 576h3M385 576h2M198 577h2M214 577h4M219 577h3M226 577h2M231 577h10M242 577h4M249 577h15M266 577h3M271 577h3M275 577h6M282 577h3M287 577h3M291 577h11M306 577h4M317 577h4M327 577h2M331 577h3M343 577h2M346 577h2M367 577h2M370 577h2M385 577h2M212 579h2M222 579h2M226 579h2M230 579h2M233 579h2M239 579h5M245 579h12M260 579h4M265 579h6M273 579h2M276 579h8M289 579h10M303 579h2M307 579h11M319 579h3M324 579h2M329 579h2M334 579h3M343 579h2M347 579h2M350 579h2M357 579h2M361 579h3M366 579h2M378 579h2M382 579h2M393 579h2M405 579h4M212 580h2M222 580h2M228 580h3M232 580h5M244 580h8M254 580h8M263 580h11M275 580h8M285 580h2M288 580h8M299 580h10M310 580h5M316 580h2M321 580h6M330 580h7M341 580h6M349 580h9M361 580h2M369 580h2M374 580h3M388 580h3M393 580h4M399 580h2M404 580h3M414 580h4M419 580h2M229 582h3M236 582h4M242 582h3M248 582h4M256 582h14M271 582h24M297 582h8M309 582h33M343 582h5M350 582h3M354 582h2M357 582h3M362 582h7M370 582h2M374 582h2M378 582h2M381 582h3M385 582h4M394 582h2M399 582h3M410 582h3M414 582h3M418 582h3M242 584h3M246 584h2M250 584h7M258 584h7M266 584h18M285 584h23M309 584h4M314 584h2M317 584h3M321 584h8M330 584h8M339 584h9M350 584h2M353 584h8M363 584h5M369 584h5M375 584h6M384 584h2M387 584h7M397 584h3M403 584h8M413 584h3M232 586h2M238 586h2M245 586h4M251 586h2M255 586h14M272 586h5M281 586h3M285 586h10M296 586h50M347 586h4M353 586h2M358 586h9M372 586h3M377 586h17M400 586h5M407 586h4M412 586h7M420 586h2M239 588h2M248 588h2M254 588h2M259 588h5M265 588h2M268 588h4M275 588h9M285 588h21M307 588h11M319 588h34M354 588h39M394 588h6M401 588h5M407 588h6M415 588h7M246 590h2M262 590h4M268 590h4M273 590h53M327 590h15M343 590h7M351 590h11M364 590h11M376 590h12M389 590h15M406 590h10M417 590h4M246 593h4M267 593h2M276 593h2M281 593h10M292 593h3M300 593h4M308 593h41M350 593h10M362 593h6M369 593h20M390 593h7M398 593h2M401 593h19M239 596h2M270 596h2M276 596h8M287 596h4M294 596h3M298 596h7M308 596h7M316 596h7M326 596h5M333 596h49M383 596h19M404 596h5M410 596h11M256 599h2M273 599h2M276 599h4M284 599h4M294 599h3M298 599h2M303 599h13M317 599h2M320 599h3M324 599h4M330 599h5M336 599h8M346 599h25M372 599h6M379 599h42M276 603h2M287 603h2M298 603h2M305 603h2M309 603h2M318 603h2M323 603h6M330 603h3M335 603h6M342 603h25M368 603h10M379 603h15M395 603h4M400 603h9M411 603h9M312 607h2M316 607h2M323 607h4M328 607h3M336 607h2M341 607h2M346 607h2M359 607h10M372 607h25M399 607h7M409 607h6M417 607h4M282 612h2M293 612h2M329 612h2M333 612h2M337 612h3M342 612h3M346 612h2M353 612h2M360 612h2M363 612h3M374 612h4M380 612h9M390 612h3M396 612h3M402 612h2M408 612h2M411 612h4M417 612h2M363 619h2M378 619h2M384 619h2M396 619h2M404 619h4M409 619h2M412 619h2M416 619h2M295 629h2M360 629h2M396 629h2M402 629h2M411 629h2M419 629h3M285 646h2M398 646h2M408 646h4" stroke="#333333" stroke-width="2.4" fill="none" opacity="1" /><path transform="scale(0.5)" d="M58 423h3M58 424h3M58 425h3M58 426h3M58 427h3M58 428h3M58 429h3M58 430h3M58 431h3M58 432h3M58 433h3M58 434h3M58 435h4M58 436h4M59 437h3M59 438h3M59 439h3M59 440h3M59 441h3M59 442h3M59 443h3M59 444h3M59 445h4M60 446h3M60 447h3M60 448h3M60 449h3M60 450h3M60 451h3M60 452h3M60 453h3M61 454h3M61 455h3M61 456h3M61 457h3M61 458h3M61 459h3M61 460h3M61 461h4M62 462h3M62 463h3M62 464h3M62 465h3M62 466h3M62 467h3M62 468h4M63 469h3M63 470h3M63 471h3M63 472h3M63 473h3M63 474h3M63 475h4M63 476h4M64 477h3M64 478h3M64 479h3M64 480h3M64 481h3M64 482h3M64 483h4M64 484h4M64 485h4M65 486h3M65 487h3M65 488h3M65 489h3M65 490h4M65 491h4M65 492h4M66 493h3M66 494h3M66 495h3M66 496h3M66 497h4M66 498h4M67 499h3M67 500h3M67 501h3M67 502h3M67 503h4M67 504h3M68 505h3M67 506h4M68 507h3M68 508h3M68 509h3M68 510h4M68 511h3M68 512h4M68 513h4M68 514h4M68 515h4M69 516h3M69 517h3M69 518h4M69 519h4M70 520h3M69 521h4M70 522h3M70 523h4M70 524h3M70 525h4M70 526h4M70 527h4M70 528h4M70 529h4M70 530h4M71 531h3M71 532h3M71 533h4M71 534h4M71 535h5M71 536h4M72 537h3M72 538h4M71 539h5M72 540h4M72 541h4M72 542h4M72 543h4M73 544h3M72 545h5M72 546h5M73 547h5M74 548h3M74 549h3M73 550h4M73 551h5M74 552h5M73 553h5M73 554h5M75 555h3M74 556h5M75 557h4M74 558h5M74 559h5M76 560h3M74 561h7M74 562h8M75 563h4M74 564h6M76 565h6M76 566h5M76 567h5M76 568h6M76 569h4M81 569h3M76 570h7M76 571h8M76 572h7M77 573h8M76 575h10M99 575h3M77 576h10M119 576h3M133 576h3M148 576h3M78 577h12M91 577h3M112 577h3M136 577h3M146 577h3M151 577h3M165 577h3M177 577h3M79 579h13M97 579h3M103 579h3M113 579h3M133 579h3M137 579h13M157 579h3M162 579h3M167 579h5M173 579h3M179 579h6M78 580h10M90 580h3M95 580h3M111 580h3M116 580h8M129 580h4M137 580h3M141 580h3M148 580h4M155 580h14M182 580h4M187 580h3M191 580h3M77 582h30M111 582h3M118 582h14M133 582h6M143 582h12M158 582h13M172 582h7M183 582h3M187 582h3M192 582h7M78 584h15M94 584h24M119 584h5M127 584h14M142 584h6M149 584h15M165 584h34M79 586h18M99 586h8M108 586h35M144 586h18M166 586h23M193 586h5M77 588h77M155 588h23M179 588h20M77 590h122M79 593h86M166 593h33M80 596h119M78 599h121M80 603h119M81 607h118M81 612h118M81 619h118M85 629h114M84 646h115" stroke="#3a82c4" stroke-width="2.8" fill="none" opacity="1" /><path transform="scale(0.5)" d="M58 424h3M58 425h3M58 426h3M58 428h3M58 429h3M58 430h3M58 431h3M58 432h3M58 433h3M58 434h3M58 435h3M58 436h3M58 437h3M58 438h3M58 439h3M58 440h3M58 442h3M58 443h3M58 444h3M58 445h3M58 446h3M58 447h3M58 448h3M58 449h3M59 450h3M59 452h3M59 453h3M59 454h3M59 455h3M59 456h3M59 457h3M59 459h3M59 460h3M59 461h3M59 462h3M59 463h3M59 464h3M59 465h3M59 466h3M59 467h3M59 468h3M59 469h3M59 470h4M59 471h3M60 472h3M60 473h3M60 474h3M60 475h3M60 476h3M60 477h3M60 478h3M60 479h3M60 480h3M60 481h3M60 482h3M60 483h3M60 484h4M60 485h4M60 486h4M60 487h4M61 488h3M61 489h3M61 490h3M61 491h3M61 492h3M61 493h3M61 494h4M61 495h4M61 496h4M62 497h3M62 498h3M62 499h3M62 500h3M62 501h3M62 502h4M62 503h4M62 504h4M62 505h4M63 506h3M63 507h3M63 508h4M63 509h4M63 510h4M63 511h4M63 512h4M63 513h4M64 514h3M64 515h4M64 516h4M63 517h5M64 518h4M64 519h4M65 520h3M65 521h3M65 522h4M65 523h4M65 524h4M66 525h3M65 526h4M66 527h4M65 528h4M66 529h4M65 530h5M65 531h5M66 532h4M66 533h4M66 534h5M67 535h3M66 536h5M67 537h4M67 538h4M67 539h5M67 540h5M67 541h5M68 542h4M67 543h6M68 544h5M67 545h9M67 546h7M68 547h5M69 548h5M69 549h7M69 550h6M69 551h7M69 552h5M69 553h8M70 554h7M92 554h3M69 556h14M106 556h3M118 556h3M70 557h8M85 557h3M92 557h5M100 557h4M112 557h3M118 557h3M70 558h8M82 558h3M105 558h6M112 558h4M69 559h15M89 559h3M99 559h3M105 559h3M110 559h4M117 559h3M71 561h16M93 561h3M97 561h7M109 561h3M120 561h3M71 562h10M83 562h8M92 562h4M97 562h5M103 562h17M71 564h21M93 564h30M69 565h29M100 565h23M70 567h52M69 569h54M71 571h50M72 573h51M71 576h52M73 579h50M74 582h49M73 586h50M72 590h51M75 596h47M76 603h47M75 612h48M75 629h47" stroke="#f5861f" stroke-width="2.8" fill="none" opacity="1" /><rect x="29.3" y="202.8" width="181.1" height="129" fill="none" stroke="#333333" stroke-width="1"/><path d="M29.3 331.8v-2.6M59.48 331.8v-2.6M89.67 331.8v-2.6M119.85 331.8v-2.6M150.03 331.8v-2.6M180.22 331.8v-2.6M210.4 331.8v-2.6M44.39 331.8v-1.6M74.58 331.8v-1.6M104.76 331.8v-1.6M134.94 331.8v-1.6M165.12 331.8v-1.6M195.31 331.8v-1.6" stroke="#333333" stroke-width="0.9" fill="none"/><text x="29.3" y="341.7" font-size="7.3" text-anchor="middle" >0</text><text x="59.48" y="341.7" font-size="7.3" text-anchor="middle" >40</text><text x="89.67" y="341.7" font-size="7.3" text-anchor="middle" >80</text><text x="119.85" y="341.7" font-size="7.3" text-anchor="middle" >120</text><text x="150.03" y="341.7" font-size="7.3" text-anchor="middle" >160</text><text x="180.22" y="341.7" font-size="7.3" text-anchor="middle" >200</text><text x="210.4" y="341.7" font-size="7.3" text-anchor="middle" >240</text><path d="M29.3 331.27h1.4M29.3 329.07h1.4M29.3 327.21h1.4M29.3 325.6h1.4M29.3 324.18h1.4M29.3 322.9h2.6M29.3 314.53h1.4M29.3 309.64h1.4M29.3 306.17h1.4M29.3 303.47h1.4M29.3 301.27h1.4M29.3 299.41h1.4M29.3 297.8h1.4M29.3 296.37h1.4M29.3 295.1h2.6M29.3 286.73h1.4M29.3 281.84h1.4M29.3 278.36h1.4M29.3 275.67h1.4M29.3 273.47h1.4M29.3 271.61h1.4M29.3 269.99h1.4M29.3 268.57h1.4M29.3 267.3h2.6M29.3 258.93h1.4M29.3 254.04h1.4M29.3 250.56h1.4M29.3 247.87h1.4M29.3 245.67h1.4M29.3 243.8h1.4M29.3 242.19h1.4M29.3 240.77h1.4M29.3 239.5h2.6M29.3 231.13h1.4M29.3 226.23h1.4M29.3 222.76h1.4M29.3 220.07h1.4M29.3 217.86h1.4M29.3 216h1.4M29.3 214.39h1.4M29.3 212.97h1.4M29.3 211.7h2.6M29.3 203.33h1.4" stroke="#333333" stroke-width="0.9" fill="none"/><text x="26.2" y="214.4" font-size="7.3" text-anchor="end">10<tspan dy="-3" font-size="5.5">0</tspan></text><text x="26.2" y="242.2" font-size="7.3" text-anchor="end">10<tspan dy="-3" font-size="5.5">−1</tspan></text><text x="26.2" y="270" font-size="7.3" text-anchor="end">10<tspan dy="-3" font-size="5.5">−2</tspan></text><text x="26.2" y="297.8" font-size="7.3" text-anchor="end">10<tspan dy="-3" font-size="5.5">−3</tspan></text><text x="26.2" y="325.6" font-size="7.3" text-anchor="end">10<tspan dy="-3" font-size="5.5">−4</tspan></text><text x="122.8" y="353.1" font-size="9.4" text-anchor="middle" >Time (ns)</text><text x="10.6" y="266.3" font-size="9.6" text-anchor="middle" transform="rotate(-90 10.6 266.3)" >PL intensity (arb. units)</text><path d="M110.5 217h15" stroke="#9a9a9a" stroke-width="0.8"/><rect x="117.6" y="215.8" width="1.1" height="1.1" fill="#2a2a2a"/><text x="129.8" y="220" font-size="8.1" >(CMA)<tspan dy="2.27" font-size="6.32">2</tspan><tspan dy="-2.27">PbBr<tspan dy="2.27" font-size="6.32">4</tspan><tspan dy="-2.27"></tspan></tspan></text><path d="M110.5 228.35h15" stroke="#6aa4dc" stroke-width="0.8"/><rect x="117.6" y="227.15" width="1.1" height="1.1" fill="#2e78c0"/><text x="129.8" y="231.35" font-size="8.1" >(CMA-COOH)<tspan dy="2.27" font-size="6.32">2</tspan><tspan dy="-2.27">PbBr<tspan dy="2.27" font-size="6.32">4</tspan><tspan dy="-2.27"></tspan></tspan></text><path d="M110.5 239.7h15" stroke="#f9c08a" stroke-width="0.8"/><rect x="117.6" y="238.5" width="1.1" height="1.1" fill="#f07a10"/><text x="129.8" y="242.7" font-size="8.1" >(1,4-CMA)PbBr<tspan dy="2.27" font-size="6.32">4</tspan><tspan dy="-2.27"></tspan></text><text x="142.5" y="278.3" font-family='"Liberation Serif", serif' font-weight="bold" font-size="8.6" fill="#111111" stroke="#111111">τ<tspan dy="2.6" font-size="5.33">ave</tspan><tspan dy="-2.6"> = 5.23 ns</tspan></text><text x="33.5" y="322.5" font-family='"Liberation Serif", serif' font-weight="bold" font-size="8.6" fill="#f07d18" stroke="#f07d18">τ<tspan dy="2.6" font-size="5.33">ave</tspan><tspan dy="-2.6"> = 0.46 ns</tspan></text><text x="103.5" y="320.6" font-family='"Liberation Serif", serif' font-weight="bold" font-size="8.6" fill="#2f7cc4" stroke="#2f7cc4">τ<tspan dy="2.6" font-size="5.33">ave</tspan><tspan dy="-2.6"> = 0.98 ns</tspan></text><path transform="scale(0.5)" d="M536 438h3M533 439h4M539 439h3M532 440h11M533 441h8M532 442h13M532 443h14M547 443h3M532 444h19M532 445h6M539 445h10M535 446h17M532 447h3M538 447h19M543 448h14M545 449h13M532 450h3M543 450h4M548 450h14M532 451h3M547 451h16M551 452h14M552 453h17M548 454h3M555 454h15M532 455h3M555 455h17M557 456h17M558 457h19M532 458h3M559 458h19M531 459h3M561 459h20M531 460h3M564 460h16M585 460h3M531 461h3M566 461h16M567 462h24M567 463h25M565 464h3M571 464h16M588 464h3M575 465h19M531 466h3M576 466h24M578 467h23M602 467h3M579 468h26M531 469h3M581 469h22M584 470h29M531 471h3M586 471h25M583 472h35M592 473h26M593 474h26M626 474h3M595 475h28M625 475h3M593 476h4M598 476h25M629 476h3M601 477h26M628 477h3M633 477h3M531 478h3M596 478h3M606 478h22M630 478h3M634 478h3M602 479h32M531 480h3M603 480h3M610 480h27M531 481h3M598 481h3M605 481h25M631 481h9M644 481h6M611 482h35M610 483h3M615 483h30M648 483h3M655 483h3M613 484h9M623 484h24M650 484h6M531 485h3M614 485h6M622 485h19M642 485h8M651 485h7M664 485h3M618 486h3M622 486h27M650 486h4M657 486h5M663 486h3M668 486h3M531 487h3M625 487h32M659 487h3M664 487h3M627 488h36M665 488h3M674 488h3M680 488h3M691 488h3M626 489h40M668 489h4M625 490h3M634 490h3M639 490h14M654 490h19M674 490h4M530 491h3M632 491h43M676 491h8M696 491h3M636 492h43M681 492h4M640 493h7M648 493h25M674 493h13M688 493h4M694 493h3M701 493h3M637 494h5M647 494h33M681 494h5M689 494h6M697 494h3M647 495h38M686 495h6M695 495h3M707 495h5M724 495h3M646 496h3M653 496h50M707 496h3M530 497h3M649 497h3M654 497h3M658 497h32M691 497h21M713 497h6M530 498h3M645 498h3M653 498h6M662 498h5M668 498h37M707 498h7M715 498h4M723 498h3M530 499h3M655 499h4M665 499h9M675 499h33M710 499h12M724 499h4M742 499h3M659 500h3M663 500h48M712 500h3M717 500h5M727 500h3M732 500h3M741 500h3M661 501h3M666 501h3M670 501h5M679 501h37M717 501h10M742 501h3M660 502h3M664 502h3M674 502h39M714 502h7M663 503h3M668 503h3M674 503h3M681 503h54M739 503h3M743 503h3M668 504h5M674 504h55M731 504h3M735 504h6M744 504h3M749 504h3M757 504h3M764 504h3M530 505h3M662 505h3M669 505h3M675 505h3M679 505h3M686 505h3M690 505h3M700 505h27M728 505h16M745 505h6M755 505h5M763 505h3M674 506h3M678 506h6M691 506h6M698 506h40M740 506h4M745 506h3M753 506h4M759 506h5M767 506h3M775 506h3M781 506h3M530 507h3M686 507h3M696 507h58M755 507h4M775 507h3M678 508h3M685 508h3M694 508h3M698 508h12M711 508h29M741 508h22M776 508h3M686 509h3M692 509h3M696 509h39M736 509h28M765 509h8M775 509h3M806 509h3M679 510h3M683 510h3M688 510h15M705 510h4M710 510h32M744 510h17M762 510h5M768 510h5M774 510h3M779 510h7M788 510h3M685 511h3M693 511h3M697 511h3M703 511h7M711 511h8M720 511h5M726 511h55M782 511h6M790 511h6M704 512h20M726 512h52M787 512h3M805 512h3M706 513h3M712 513h7M720 513h3M725 513h3M730 513h39M770 513h14M792 513h3M806 513h5M832 513h3M842 513h3M530 514h3M699 514h3M703 514h3M711 514h3M718 514h5M724 514h7M732 514h8M741 514h16M759 514h15M775 514h4M781 514h5M788 514h14M804 514h3M811 514h3M839 514h3M530 515h3M721 515h3M725 515h25M751 515h38M793 515h3M797 515h11M811 515h7M712 516h3M721 516h3M725 516h4M734 516h49M784 516h9M794 516h12M807 516h3M821 516h3M828 516h3M832 516h3M846 516h3M704 517h3M725 517h3M732 517h23M757 517h46M806 517h3M812 517h9M824 517h3M829 517h3M834 517h3M734 518h18M756 518h4M764 518h32M797 518h6M804 518h6M812 518h3M819 518h4M850 518h4M719 519h3M726 519h4M733 519h8M743 519h3M748 519h7M756 519h42M799 519h9M809 519h3M814 519h9M824 519h6M833 519h3M707 520h3M731 520h3M739 520h12M752 520h16M771 520h5M777 520h24M803 520h3M807 520h7M817 520h8M826 520h4M835 520h3M840 520h6M856 520h3M871 520h3M723 521h6M733 521h3M738 521h3M754 521h4M759 521h9M769 521h47M817 521h4M827 521h3M835 521h4M842 521h4M884 521h3M737 522h6M746 522h3M751 522h10M763 522h3M769 522h39M809 522h12M822 522h7M830 522h3M834 522h3M838 522h6M845 522h5M852 522h3M859 522h3M530 523h3M730 523h3M735 523h3M750 523h3M754 523h4M760 523h5M766 523h4M771 523h4M776 523h5M786 523h27M814 523h29M846 523h3M850 523h7M874 523h3M878 523h3M724 524h3M734 524h3M747 524h3M751 524h3M758 524h3M762 524h6M773 524h7M781 524h50M832 524h5M839 524h14M857 524h3M862 524h6M724 525h3M742 525h5M748 525h3M760 525h8M774 525h25M800 525h25M827 525h8M836 525h4M842 525h20M863 525h3M867 525h8M530 526h3M734 526h3M760 526h5M767 526h7M776 526h3M780 526h8M790 526h7M801 526h54M863 526h6M875 526h5M530 527h3M753 527h3M777 527h3M784 527h6M792 527h8M801 527h39M843 527h28M874 527h3M880 527h6M759 528h3M765 528h3M773 528h3M785 528h21M807 528h28M837 528h10M849 528h12M863 528h5M871 528h4M880 528h7M757 529h3M763 529h3M769 529h8M780 529h7M789 529h3M797 529h14M812 529h8M821 529h41M863 529h3M867 529h9M877 529h9M766 530h3M789 530h6M800 530h9M810 530h6M817 530h23M841 530h5M847 530h14M862 530h3M867 530h4M873 530h3M878 530h9M765 531h3M773 531h3M781 531h5M787 531h5M798 531h3M805 531h28M834 531h21M856 531h12M869 531h3M875 531h8M770 532h3M782 532h3M790 532h12M803 532h3M809 532h8M821 532h20M842 532h10M853 532h18M874 532h8M883 532h3M754 533h3M785 533h5M796 533h3M802 533h19M822 533h29M853 533h31M779 534h3M816 534h7M824 534h43M870 534h18M529 535h3M804 535h3M808 535h4M815 535h11M829 535h7M837 535h5M843 535h45M530 536h3M786 536h3M800 536h4M809 536h3M815 536h6M823 536h13M838 536h10M849 536h3M853 536h27M882 536h6M783 537h3M802 537h10M820 537h3M825 537h3M830 537h3M834 537h4M839 537h40M881 537h4M530 538h3M791 538h3M807 538h3M811 538h3M826 538h8M836 538h8M846 538h20M870 538h18M785 539h3M811 539h6M818 539h6M827 539h3M832 539h3M844 539h3M853 539h3M857 539h17M875 539h13M529 540h3M788 540h3M793 540h3M807 540h3M821 540h3M826 540h4M832 540h9M843 540h4M851 540h36M788 541h3M800 541h3M813 541h3M820 541h5M829 541h7M843 541h3M849 541h4M856 541h3M864 541h23M779 542h3M806 542h5M823 542h5M833 542h3M846 542h3M850 542h4M855 542h4M860 542h8M870 542h16M529 543h3M811 543h3M839 543h12M857 543h6M864 543h12M878 543h3M883 543h5M522 544h3M834 544h3M840 544h3M846 544h4M862 544h11M882 544h5M519 545h3M836 545h5M842 545h3M852 545h3M869 545h4M874 545h9M848 546h3M861 546h3M872 546h5M879 546h6M530 547h3M834 547h3M854 547h4M867 547h3M871 547h6M880 547h3M839 548h4M858 548h6M872 548h3M878 548h6M885 548h3M869 549h3M877 549h3M881 549h6M521 550h3M525 550h3M857 550h5M864 550h3M868 550h3M879 550h3M883 550h3M521 551h3M529 551h3M862 551h3M867 551h3M874 552h3M527 553h3M851 553h3M855 553h3M861 553h3M879 553h3M520 554h3M525 554h4M863 554h3M867 554h3M872 554h3M873 555h3M528 556h4M870 556h3M880 556h3M524 557h4M529 557h3M864 557h3M876 557h3M878 558h3M882 558h3M525 559h7M883 559h3M519 561h13M879 561h3M521 562h6M873 563h3M520 564h10M522 567h9M520 569h9M519 571h10M519 574h12M519 577h5M525 577h7M520 580h12M520 584h3M524 584h7M521 588h6M528 588h3M519 593h4M527 593h5M519 598h7M527 598h3M521 605h9M520 614h11M520 627h11M519 648h7M528 648h3" stroke="#333333" stroke-width="3.2" fill="none" opacity="1" /><path transform="scale(0.5)" d="M532 412h4M532 413h4M532 414h4M532 415h4M532 416h4M531 417h5M531 419h3M531 420h6M531 421h6M531 422h6M531 424h6M531 425h6M531 426h3M535 426h3M534 427h3M531 428h3M535 428h3M531 429h3M535 429h3M535 430h3M535 431h4M535 432h4M531 433h3M536 433h3M531 434h3M536 434h4M536 435h4M531 436h3M536 436h4M536 437h5M536 438h5M531 439h3M538 439h4M537 440h5M530 441h3M538 441h4M530 442h3M539 442h4M539 443h6M540 444h4M530 445h3M539 445h8M530 446h3M540 446h6M541 447h5M530 448h3M541 448h5M541 449h6M542 450h7M543 451h6M543 452h8M544 453h7M530 454h3M544 454h5M545 455h8M544 456h9M545 457h11M530 458h3M547 458h6M547 459h7M547 460h11M547 461h8M530 462h3M546 462h12M530 463h3M549 463h7M548 464h8M549 465h10M530 466h3M549 466h14M549 467h12M550 468h12M555 469h7M553 470h11M530 471h3M552 471h12M530 472h3M554 472h8M553 473h14M554 474h11M556 475h8M530 476h3M555 476h13M556 477h14M557 478h11M556 479h3M560 479h5M567 479h3M556 480h3M560 480h10M530 481h3M557 481h15M573 481h3M529 482h3M559 482h12M560 483h11M562 484h13M561 485h14M563 486h12M565 487h16M566 488h13M529 489h3M565 489h3M570 489h7M567 490h12M567 491h16M566 492h10M577 492h6M567 493h16M529 494h3M567 494h4M572 494h9M582 494h3M529 495h3M566 495h19M567 496h3M576 496h10M570 497h19M590 497h3M573 498h13M587 498h3M573 499h12M590 499h3M576 500h15M599 500h3M577 501h6M585 501h12M529 502h3M575 502h20M578 503h17M529 504h3M579 504h21M581 505h21M529 506h3M573 506h3M580 506h20M606 506h3M580 507h10M591 507h13M583 508h17M580 509h7M588 509h13M602 509h5M587 510h15M609 510h3M590 511h14M605 511h3M584 512h15M601 512h3M605 512h4M584 513h3M589 513h17M609 513h7M529 514h3M589 514h10M600 514h10M588 515h3M592 515h17M611 515h8M583 516h3M590 516h27M596 517h18M620 517h3M529 518h3M587 518h5M595 518h28M627 518h3M634 518h3M598 519h15M614 519h13M649 519h3M589 520h3M594 520h3M599 520h18M618 520h6M631 520h6M597 521h3M601 521h10M613 521h10M626 521h3M596 522h32M636 522h3M643 522h3M595 523h3M603 523h4M609 523h12M625 523h3M629 523h5M598 524h3M602 524h3M607 524h26M635 524h3M642 524h3M529 525h3M599 525h4M606 525h24M632 525h7M529 526h3M605 526h11M619 526h12M633 526h5M647 526h3M602 527h3M608 527h7M619 527h5M625 527h19M611 528h28M606 529h3M611 529h29M643 529h3M652 529h6M600 530h3M607 530h3M613 530h25M646 530h4M654 530h3M607 531h3M612 531h3M616 531h3M620 531h4M628 531h12M645 531h3M529 532h3M616 532h3M621 532h4M626 532h4M631 532h13M645 532h4M656 532h5M529 533h3M613 533h3M618 533h36M657 533h3M604 534h3M616 534h6M623 534h3M627 534h22M650 534h6M615 535h3M621 535h6M628 535h18M648 535h3M652 535h7M661 535h3M624 536h46M677 536h3M614 537h3M626 537h3M634 537h17M654 537h11M666 537h3M622 538h5M629 538h8M638 538h14M653 538h5M661 538h3M680 538h3M626 539h5M632 539h9M642 539h3M646 539h25M624 540h5M634 540h3M638 540h21M660 540h6M670 540h7M681 540h3M691 540h3M528 541h3M623 541h11M636 541h25M663 541h3M671 541h3M678 541h3M630 542h5M636 542h32M670 542h4M676 542h3M687 542h3M629 543h10M641 543h12M656 543h16M675 543h4M686 543h4M528 544h3M629 544h3M634 544h6M641 544h16M658 544h19M681 544h9M692 544h5M528 545h3M624 545h3M638 545h23M662 545h11M674 545h7M683 545h5M693 545h3M708 545h3M622 546h3M635 546h9M650 546h5M659 546h18M678 546h3M686 546h3M693 546h3M634 547h11M646 547h7M655 547h3M659 547h4M664 547h19M685 547h5M693 547h3M622 549h3M627 549h5M639 549h3M643 549h10M654 549h6M661 549h32M694 549h3M700 549h3M709 549h5M718 549h3M630 550h3M640 550h11M652 550h15M670 550h36M713 550h3M719 550h3M749 550h3M528 551h3M647 551h8M656 551h21M678 551h20M702 551h3M711 551h3M716 551h3M725 551h5M643 553h61M706 553h4M715 553h3M723 553h8M735 553h3M640 554h3M647 554h3M651 554h18M672 554h57M737 554h3M743 554h3M749 554h3M757 554h3M802 554h3M650 556h3M654 556h11M666 556h17M684 556h25M714 556h6M721 556h7M732 556h7M745 556h3M750 556h3M760 556h5M766 556h6M792 556h3M528 557h3M648 557h4M653 557h6M663 557h3M668 557h34M703 557h5M709 557h21M731 557h3M735 557h3M741 557h3M757 557h3M761 557h3M775 557h7M791 557h3M803 557h3M818 557h3M863 557h3M528 559h3M638 559h3M644 559h3M653 559h3M666 559h60M729 559h29M776 559h3M782 559h3M806 559h3M827 559h3M879 559h3M658 561h3M662 561h3M670 561h5M677 561h6M684 561h32M717 561h5M725 561h18M744 561h4M750 561h3M754 561h4M763 561h3M768 561h6M789 561h6M807 561h3M824 561h3M859 561h3M881 561h3M528 562h3M654 562h3M664 562h104M772 562h8M781 562h3M788 562h3M792 562h6M802 562h3M806 562h6M813 562h3M817 562h3M828 562h5M841 562h5M854 562h3M875 562h3M661 564h3M668 564h3M675 564h11M689 564h34M725 564h8M734 564h16M751 564h7M759 564h3M763 564h7M772 564h14M791 564h3M797 564h3M807 564h6M814 564h4M825 564h3M839 564h3M843 564h9M853 564h3M883 564h3M658 567h8M677 567h8M688 567h34M723 567h30M754 567h17M775 567h8M788 567h15M805 567h5M812 567h18M835 567h3M840 567h4M845 567h3M849 567h3M853 567h6M861 567h3M865 567h12M880 567h8M519 569h11M661 569h3M668 569h3M675 569h3M679 569h12M692 569h26M719 569h26M746 569h51M801 569h7M809 569h7M817 569h4M822 569h10M835 569h8M846 569h25M874 569h3M879 569h3M884 569h3M519 571h6M526 571h5M658 571h3M663 571h3M669 571h5M675 571h7M690 571h75M766 571h12M779 571h13M793 571h14M808 571h6M815 571h5M823 571h13M838 571h23M869 571h10M883 571h5M519 574h12M674 574h3M680 574h3M685 574h14M700 574h9M710 574h54M765 574h91M858 574h3M862 574h19M883 574h5M519 577h11M638 577h3M685 577h73M759 577h80M841 577h47M519 580h12M697 580h3M701 580h15M721 580h38M760 580h62M823 580h11M835 580h37M873 580h15M520 584h11M689 584h3M694 584h5M700 584h13M716 584h39M756 584h131M519 588h11M700 588h3M705 588h4M714 588h3M720 588h7M731 588h156M519 593h11M697 593h4M713 593h34M748 593h139M519 598h10M697 598h3M716 598h4M727 598h6M734 598h22M757 598h9M767 598h8M776 598h27M805 598h82M520 605h10M713 605h3M722 605h3M729 605h9M742 605h4M747 605h14M762 605h19M782 605h8M791 605h5M797 605h47M845 605h43M522 614h8M714 614h3M732 614h3M740 614h3M744 614h5M753 614h6M764 614h9M778 614h8M792 614h7M800 614h9M810 614h9M820 614h4M827 614h22M852 614h35M522 627h8M731 627h3M741 627h3M752 627h3M757 627h3M771 627h3M781 627h3M786 627h14M805 627h9M815 627h3M821 627h5M827 627h3M832 627h14M847 627h22M872 627h16M521 648h8M759 648h3M764 648h3M768 648h3M773 648h7M788 648h3M794 648h3M803 648h3M814 648h45M860 648h9M870 648h15" stroke="#5b8fcf" stroke-width="3.2" fill="none" opacity="1" /><path transform="scale(0.5)" d="M532 412h4M532 413h4M532 414h3M533 415h3M532 416h4M531 417h5M531 418h5M533 419h4M531 420h6M534 421h3M534 422h3M531 423h6M531 424h6M531 425h7M534 426h3M535 427h3M535 428h3M531 430h3M535 430h3M531 431h3M535 432h4M535 433h4M536 434h3M531 435h3M536 435h3M536 436h3M536 437h3M531 438h3M536 438h4M537 439h3M537 440h3M530 441h3M537 441h3M537 442h4M537 443h4M538 444h3M538 445h4M530 446h3M538 446h3M530 447h3M538 447h3M538 448h3M539 449h3M530 450h3M538 450h4M539 451h4M530 452h3M539 452h5M539 453h5M530 454h3M540 454h4M540 455h4M540 456h4M541 457h3M541 458h4M530 459h3M542 459h3M541 460h4M530 461h3M542 461h4M542 462h4M543 463h3M543 464h4M543 465h4M544 466h3M530 467h3M543 467h5M544 468h4M530 469h3M544 469h4M544 470h4M530 471h3M545 471h4M544 472h5M545 473h5M545 474h5M546 475h5M546 476h4M530 477h3M547 477h6M547 478h4M547 479h5M548 480h4M549 481h3M548 482h5M548 483h7M530 484h3M549 484h3M549 485h4M549 486h5M529 487h3M549 487h5M550 488h6M549 489h6M529 490h3M550 490h6M550 491h5M551 492h5M552 493h4M529 494h3M553 494h5M529 495h3M552 495h7M553 496h6M554 497h6M554 498h6M552 499h9M553 500h6M554 501h6M555 502h8M555 503h6M529 504h3M555 504h9M556 505h7M556 506h8M559 507h7M529 508h3M557 508h13M558 509h9M529 510h3M556 510h3M560 510h5M566 510h6M558 511h9M558 512h12M529 513h3M559 513h10M562 514h5M573 514h3M561 515h6M568 515h4M574 515h3M563 516h10M529 517h3M561 517h15M564 518h11M576 518h4M529 519h3M561 519h3M566 519h14M562 520h21M565 521h10M579 521h3M583 521h3M563 522h20M585 522h4M591 522h3M529 523h3M564 523h25M566 524h13M580 524h3M586 524h3M565 525h20M588 525h7M599 525h3M606 525h3M567 526h31M616 526h3M574 527h3M579 527h3M587 527h8M598 527h3M529 528h3M569 528h28M598 528h7M567 529h3M575 529h11M590 529h5M597 529h3M529 530h3M568 530h20M589 530h11M602 530h3M607 530h3M571 531h11M584 531h12M599 531h6M609 531h7M584 532h3M588 532h7M599 532h3M609 532h3M616 532h3M529 533h3M574 533h44M628 533h4M638 533h3M571 534h5M577 534h20M600 534h9M611 534h3M618 534h4M628 534h3M572 535h7M580 535h4M585 535h5M591 535h11M603 535h5M609 535h3M615 535h3M623 535h3M576 536h36M613 536h3M617 536h5M623 536h3M630 536h3M582 537h3M587 537h14M602 537h7M610 537h16M632 537h6M650 537h3M585 538h4M590 538h19M611 538h12M625 538h8M639 538h3M579 539h5M586 539h31M618 539h3M624 539h4M637 539h8M528 540h3M587 540h4M592 540h20M613 540h13M628 540h3M633 540h3M639 540h3M660 540h3M582 541h3M586 541h5M593 541h25M622 541h6M637 541h6M653 541h3M660 541h3M528 542h3M582 542h6M593 542h7M601 542h18M620 542h20M652 542h3M581 543h9M592 543h5M600 543h17M619 543h13M633 543h7M643 543h5M654 543h3M592 544h4M597 544h46M646 544h7M656 544h3M661 544h4M666 544h3M589 545h3M596 545h5M606 545h18M626 545h19M647 545h3M653 545h5M660 545h5M689 545h3M588 546h3M596 546h3M601 546h28M630 546h7M638 546h3M642 546h10M660 546h4M668 546h3M677 546h3M681 546h9M592 547h7M603 547h23M627 547h15M643 547h8M652 547h5M661 547h5M667 547h3M684 547h6M696 547h3M716 547h3M528 549h3M601 549h3M607 549h39M648 549h11M660 549h11M679 549h3M528 550h3M595 550h3M608 550h3M612 550h4M617 550h15M633 550h29M665 550h3M670 550h3M676 550h9M691 550h3M704 550h3M760 550h3M604 551h3M614 551h3M620 551h15M636 551h38M675 551h13M690 551h6M731 551h3M754 551h3M788 551h3M595 553h3M605 553h3M609 553h3M613 553h7M621 553h13M635 553h14M650 553h15M667 553h10M686 553h5M693 553h3M699 553h3M717 553h3M765 553h3M616 554h3M621 554h12M634 554h8M644 554h12M657 554h5M664 554h19M684 554h6M691 554h3M695 554h11M709 554h3M716 554h3M723 554h4M734 554h3M774 554h3M528 556h3M603 556h3M611 556h4M617 556h3M621 556h78M700 556h9M713 556h3M717 556h3M723 556h5M730 556h4M735 556h3M752 556h3M766 556h4M526 557h3M609 557h8M619 557h3M625 557h3M632 557h3M636 557h64M702 557h23M732 557h3M787 557h3M806 557h3M619 559h8M628 559h12M641 559h12M656 559h13M670 559h22M693 559h3M697 559h3M701 559h11M715 559h11M727 559h4M735 559h11M753 559h6M783 559h3M794 559h5M800 559h3M808 559h3M528 561h3M623 561h3M628 561h13M642 561h3M647 561h55M703 561h17M721 561h4M726 561h15M746 561h3M752 561h9M769 561h3M775 561h3M790 561h3M525 562h3M616 562h3M631 562h34M667 562h28M697 562h12M710 562h4M715 562h18M735 562h20M759 562h3M765 562h5M776 562h3M782 562h3M798 562h3M802 562h3M809 562h3M519 564h3M611 564h3M624 564h13M640 564h23M664 564h3M672 564h45M718 564h13M733 564h8M743 564h3M750 564h5M758 564h3M765 564h4M770 564h17M789 564h17M521 567h3M620 567h3M632 567h3M639 567h16M659 567h50M710 567h22M733 567h26M761 567h10M774 567h11M788 567h11M803 567h3M807 567h4M521 569h4M528 569h3M626 569h3M637 569h23M661 569h117M780 569h20M803 569h8M523 571h8M640 571h3M644 571h8M654 571h10M666 571h15M682 571h43M726 571h18M745 571h23M770 571h42M520 574h3M525 574h5M625 574h3M641 574h3M645 574h3M651 574h10M662 574h22M685 574h12M698 574h28M727 574h86M520 577h11M651 577h3M656 577h7M664 577h5M674 577h9M684 577h20M706 577h92M799 577h14M519 580h10M642 580h3M668 580h5M676 580h4M681 580h99M781 580h32M519 584h5M525 584h6M654 584h3M663 584h3M673 584h3M678 584h7M692 584h10M706 584h106M519 588h12M651 588h3M659 588h3M663 588h3M667 588h3M671 588h3M679 588h3M686 588h3M691 588h19M712 588h100M523 593h8M673 593h3M683 593h3M691 593h3M696 593h6M707 593h4M713 593h6M720 593h27M749 593h63M519 598h11M662 598h3M683 598h3M695 598h3M700 598h3M704 598h3M708 598h4M719 598h6M727 598h10M739 598h27M769 598h4M774 598h16M791 598h8M802 598h8M520 605h10M676 605h3M689 605h3M694 605h6M701 605h3M716 605h3M725 605h3M729 605h3M735 605h19M756 605h13M770 605h19M790 605h22M519 614h10M690 614h3M694 614h3M707 614h6M715 614h6M724 614h9M736 614h5M745 614h48M797 614h6M805 614h4M520 627h9M721 627h3M736 627h5M754 627h3M760 627h11M773 627h16M794 627h13M809 627h3M521 648h3M526 648h3M722 648h4M741 648h3M749 648h3M755 648h4M763 648h6M772 648h3M778 648h5M785 648h9M795 648h5M801 648h6M808 648h3" stroke="#f7871e" stroke-width="3.2" fill="none" opacity="1" /><path transform="scale(0.5)" d="M533 433h3M533 435h3M533 436h3M532 437h4M532 438h4M532 440h3M532 442h4M532 444h4M532 445h4M532 449h4M532 453h3M533 454h3M532 457h5M532 458h3M534 460h3M531 462h6M531 465h3M534 467h3M531 468h3M534 469h3M531 470h3M534 471h3M531 472h3M534 473h3M534 476h3M531 480h3M531 482h3M534 483h3M531 484h3M534 487h4M535 490h3M531 491h3M535 493h3M535 494h3M531 497h3M531 499h3M535 499h3M535 502h3M531 503h3M531 504h3M535 504h3M535 509h3M535 510h3M530 514h3M530 515h3M535 518h4M530 520h3M536 520h3M535 521h4M535 522h3M535 525h3M530 526h3M530 530h3M530 533h3M536 533h3M536 534h3M536 537h3M536 539h3M536 542h3M536 545h3M536 547h3M536 549h3M530 551h3M537 551h3M537 553h3M537 554h3M530 556h3M530 557h3M537 557h3M530 562h3M538 564h3M530 569h3M537 569h3M537 574h4M537 577h4M565 577h3M571 577h3M581 577h3M529 580h3M537 580h5M560 580h3M568 580h3M520 584h3M538 584h3M552 584h3M574 584h3M526 588h6M538 588h3M542 588h3M549 588h4M556 588h3M580 588h3M591 588h3M607 588h3M520 593h13M537 593h76M520 598h11M539 598h74M519 605h14M538 605h75M519 614h14M539 614h64M604 614h9M519 627h13M538 627h75M520 648h11M538 648h75" stroke="#1c2a8c" stroke-width="3.2" fill="none" opacity="1" /><rect x="259.9" y="200.2" width="183.2" height="134.3" fill="none" stroke="#333333" stroke-width="1"/><path d="M266.95 334.5v-2.6M302.18 334.5v-2.6M337.41 334.5v-2.6M372.64 334.5v-2.6M407.87 334.5v-2.6M443.1 334.5v-2.6M284.56 334.5v-1.6M319.79 334.5v-1.6M355.02 334.5v-1.6M390.25 334.5v-1.6M425.48 334.5v-1.6" stroke="#333333" stroke-width="0.9" fill="none"/><text x="266.95" y="345.1" font-size="8.3" text-anchor="middle" >0</text><text x="302.18" y="345.1" font-size="8.3" text-anchor="middle" >10</text><text x="337.41" y="345.1" font-size="8.3" text-anchor="middle" >20</text><text x="372.64" y="345.1" font-size="8.3" text-anchor="middle" >30</text><text x="407.87" y="345.1" font-size="8.3" text-anchor="middle" >40</text><text x="443.1" y="345.1" font-size="8.3" text-anchor="middle" >50</text><path d="M259.9 332.12h1.4M259.9 329.73h1.4M259.9 327.66h1.4M259.9 325.83h1.4M259.9 324.2h2.6M259.9 313.45h1.4M259.9 307.17h1.4M259.9 302.71h1.4M259.9 299.25h1.4M259.9 296.42h1.4M259.9 294.03h1.4M259.9 291.96h1.4M259.9 290.13h1.4M259.9 288.5h2.6M259.9 277.75h1.4M259.9 271.47h1.4M259.9 267.01h1.4M259.9 263.55h1.4M259.9 260.72h1.4M259.9 258.33h1.4M259.9 256.26h1.4M259.9 254.43h1.4M259.9 252.8h2.6M259.9 242.05h1.4M259.9 235.77h1.4M259.9 231.31h1.4M259.9 227.85h1.4M259.9 225.02h1.4M259.9 222.63h1.4M259.9 220.56h1.4M259.9 218.73h1.4M259.9 217.1h2.6M259.9 206.35h1.4" stroke="#333333" stroke-width="0.9" fill="none"/><text x="256.8" y="326.9" font-size="7.3" text-anchor="end">10<tspan dy="-3" font-size="5.5">0</tspan></text><text x="256.8" y="291.2" font-size="7.3" text-anchor="end">10<tspan dy="-3" font-size="5.5">1</tspan></text><text x="256.8" y="255.5" font-size="7.3" text-anchor="end">10<tspan dy="-3" font-size="5.5">2</tspan></text><text x="256.8" y="219.8" font-size="7.3" text-anchor="end">10<tspan dy="-3" font-size="5.5">3</tspan></text><text x="353.9" y="356.2" font-size="9.6" text-anchor="middle" >Time (ns)</text><text x="238.3" y="261.6" font-size="9.2" text-anchor="middle" transform="rotate(-90 238.3 261.6)" >RL intensity (arb. units)</text><path d="M355.3 206.5h13.7" stroke="#222222" stroke-width="0.8"/><rect x="361.6" y="205.7" width="1" height="1" fill="#111111"/><text x="371.7" y="209.4" font-size="7.3" >(CMA)<tspan dy="2.04" font-size="5.69">2</tspan><tspan dy="-2.04">PbBr<tspan dy="2.04" font-size="5.69">4</tspan><tspan dy="-2.04"></tspan></tspan></text><path d="M355.3 217.6h13.7" stroke="#a9b9cc" stroke-width="0.8"/><rect x="361.6" y="216.8" width="1" height="1" fill="#3a7ac8"/><text x="371.7" y="220.5" font-size="7.3" >(CMA-COOH)<tspan dy="2.04" font-size="5.69">2</tspan><tspan dy="-2.04">PbBr<tspan dy="2.04" font-size="5.69">4</tspan><tspan dy="-2.04"></tspan></tspan></text><path d="M355.3 228.7h13.7" stroke="#f9c69a" stroke-width="1.4"/><rect x="361.6" y="227.9" width="1" height="1" fill="#f07a10"/><text x="371.7" y="231.6" font-size="7.3" >(1,4-CMA)PbBr<tspan dy="2.04" font-size="5.69">4</tspan><tspan dy="-2.04"></tspan></text><path d="M355.3 239.8h13.7" stroke="#b5b9e2" stroke-width="1.6"/><rect x="361.6" y="239" width="1" height="1" fill="#1c2a8c"/><text x="371.7" y="242.7" font-size="7.3" >IRF</text><text x="389" y="250.5" font-family='"Liberation Serif", serif' font-weight="bold" font-size="7.8" fill="#111111" stroke="#111111">τ<tspan dy="2.6" font-size="4.84">ave</tspan><tspan dy="-2.6">= 8.4 ns</tspan></text><text x="340" y="273.5" font-family='"Liberation Serif", serif' font-weight="bold" font-size="7.8" fill="#4f86c6" stroke="#4f86c6">τ<tspan dy="2.6" font-size="4.84">ave</tspan><tspan dy="-2.6">=1.09 ns</tspan></text><text x="310" y="322.5" font-family='"Liberation Serif", serif' font-weight="bold" font-size="7.8" fill="#f07d18" stroke="#f07d18">τ<tspan dy="2.6" font-size="4.84">ave</tspan><tspan dy="-2.6"> = 0.62 ns</tspan></text><rect x="493" y="256" width="184.5" height="79.5" fill="#c2d6ef"/><path d="M493.6 256.05V334.8M495.63 255.88V334.8M497.66 256.09V334.8M499.69 255.93V334.8M501.72 255.9V334.8M503.75 256.09V334.8M505.78 255.8V334.8M507.81 255.98V334.8M509.84 255.99V334.8M511.87 255.74V334.8M513.9 255.88V334.8M515.93 255.83V334.8M517.96 255.99V334.8M519.99 256.05V334.8M522.02 256.08V334.8M524.05 255.9V334.8M526.08 255.93V334.8M528.11 255.86V334.8M530.14 255.63V334.8M532.17 255.83V334.8M534.2 255.75V334.8M536.23 255.96V334.8M538.26 255.87V334.8M540.29 255.99V334.8M542.32 255.92V334.8M544.35 255.89V334.8M546.38 255.89V334.8M548.41 256.15V334.8M550.44 255.63V334.8M552.47 255.65V334.8M554.5 256.07V334.8M556.53 255.63V334.8M558.56 255.98V334.8M560.59 256.08V334.8M562.62 256.19V334.8M564.65 255.7V334.8M566.68 255.87V334.8M568.71 255.78V334.8M570.74 255.98V334.8M572.77 256.1V334.8M574.8 255.8V334.8M576.83 256.08V334.8M578.86 256.17V334.8M580.89 255.8V334.8M582.92 255.84V334.8M584.95 256.16V334.8M586.98 255.68V334.8M589.01 255.73V334.8M591.04 256.15V334.8M593.07 256V334.8M595.1 255.97V334.8M597.13 255.9V334.8M599.16 255.94V334.8M601.19 256.14V334.8M603.22 255.74V334.8M605.25 255.61V334.8M607.28 256.2V334.8M609.31 255.65V334.8M611.34 256.16V334.8M613.37 255.84V334.8M615.4 255.76V334.8M617.43 255.73V334.8M619.46 256.08V334.8M621.49 256.07V334.8M623.52 256.2V334.8M625.55 256.06V334.8M627.58 256.02V334.8M629.61 255.63V334.8M631.64 255.76V334.8M633.67 255.7V334.8M635.7 255.78V334.8M637.73 256.18V334.8M639.76 255.72V334.8M641.79 256.03V334.8M643.82 256.08V334.8M645.85 256.18V334.8M647.88 256.17V334.8M649.91 256.14V334.8M651.94 255.91V334.8M653.97 256.16V334.8M656 256.06V334.8M658.03 256.05V334.8M660.06 255.61V334.8M662.09 255.95V334.8M664.12 256.12V334.8M666.15 256.15V334.8M668.18 255.7V334.8M670.21 255.78V334.8M672.24 255.68V334.8M674.27 256.03V334.8M676.3 255.68V334.8" stroke="#6494d4" stroke-width="0.75" fill="none"/><path d="M494.7 258V319M496.73 258V319M506.88 258V319M508.91 258V319M512.97 258V319M521.09 258V319M525.15 258V319M529.21 258V319M533.27 258V319M535.3 258V319M543.42 258V319M545.45 258V319M549.51 258V319M551.54 258V319M557.63 258V319M561.69 258V319M569.81 258V319M571.84 258V319M575.9 258V319M577.93 258V319M579.96 258V319M581.99 258V319M584.02 258V319M588.08 258V319M592.14 258V319M598.23 258V319M600.26 258V319M602.29 258V319M610.41 258V319M612.44 258V319M614.47 258V319M622.59 258V319M626.65 258V319M628.68 258V319M630.71 258V319M632.74 258V319M638.83 258V319M640.86 258V319M642.89 258V319M644.92 258V319M653.04 258V319M657.1 258V319M659.13 258V319M661.16 258V319M663.19 258V319M669.28 258V319M673.34 258V319M675.37 258V319" stroke="#a9c4e8" stroke-width="0.7" fill="none"/><path d="M494.1 319.5V335.3M496.13 319.5V335.3M498.16 319.5V335.3M500.19 319.5V335.3M502.22 319.5V335.3M504.25 319.5V335.3M506.28 319.5V335.3M508.31 319.5V335.3M510.34 319.5V335.3M512.37 319.5V335.3M514.4 319.5V335.3M516.43 319.5V335.3M518.46 319.5V335.3M520.49 319.5V335.3M522.52 319.5V335.3M524.55 319.5V335.3M526.58 319.5V335.3M528.61 319.5V335.3M530.64 319.5V335.3M532.67 319.5V335.3M534.7 319.5V335.3M536.73 319.5V335.3M538.76 319.5V335.3M540.79 319.5V335.3M542.82 319.5V335.3M544.85 319.5V335.3M546.88 319.5V335.3M548.91 319.5V335.3M550.94 319.5V335.3M552.97 319.5V335.3M555 319.5V335.3M557.03 319.5V335.3M559.06 319.5V335.3M561.09 319.5V335.3M563.12 319.5V335.3M565.15 319.5V335.3M567.18 319.5V335.3M569.21 319.5V335.3M571.24 319.5V335.3M573.27 319.5V335.3M575.3 319.5V335.3M577.33 319.5V335.3M579.36 319.5V335.3M581.39 319.5V335.3M583.42 319.5V335.3M585.45 319.5V335.3M587.48 319.5V335.3M589.51 319.5V335.3M591.54 319.5V335.3M593.57 319.5V335.3M595.6 319.5V335.3M597.63 319.5V335.3M599.66 319.5V335.3M601.69 319.5V335.3M603.72 319.5V335.3M605.75 319.5V335.3M607.78 319.5V335.3M609.81 319.5V335.3M611.84 319.5V335.3M613.87 319.5V335.3M615.9 319.5V335.3M617.93 319.5V335.3M619.96 319.5V335.3M621.99 319.5V335.3M624.02 319.5V335.3M626.05 319.5V335.3M628.08 319.5V335.3M630.11 319.5V335.3M632.14 319.5V335.3M634.17 319.5V335.3M636.2 319.5V335.3M638.23 319.5V335.3M640.26 319.5V335.3M642.29 319.5V335.3M644.32 319.5V335.3M646.35 319.5V335.3M648.38 319.5V335.3M650.41 319.5V335.3M652.44 319.5V335.3M654.47 319.5V335.3M656.5 319.5V335.3M658.53 319.5V335.3M660.56 319.5V335.3M662.59 319.5V335.3M664.62 319.5V335.3M666.65 319.5V335.3M668.68 319.5V335.3M670.71 319.5V335.3M672.74 319.5V335.3M674.77 319.5V335.3M676.8 319.5V335.3" stroke="#5585cc" stroke-width="1.0" fill="none" opacity="0.75"/><path d="M498.76 258V334M500.79 258V334M502.82 258V334M504.85 258V334M510.94 258V334M515 258V334M517.03 258V334M519.06 258V334M523.12 258V334M527.18 258V334M531.24 258V334M537.33 258V334M539.36 258V334M541.39 258V334M547.48 258V334M553.57 258V334M555.6 258V334M559.66 258V334M563.72 258V334M565.75 258V334M567.78 258V334M573.87 258V334M586.05 258V334M590.11 258V334M594.17 258V334M596.2 258V334M604.32 258V334M606.35 258V334M608.38 258V334M616.5 258V334M618.53 258V334M620.56 258V334M624.62 258V334M634.77 258V334M636.8 258V334M646.95 258V334M648.98 258V334M651.01 258V334M655.07 258V334M665.22 258V334M667.25 258V334M671.31 258V334M677.4 258V334" stroke="#f4f8fd" stroke-width="0.55" fill="none"/><path d="M493 256.4h184" stroke="#5b88cc" stroke-width="0.9" opacity="0.7"/><rect x="492.5" y="198.7" width="185" height="138.8" fill="none" stroke="#333333" stroke-width="1"/><path d="M492.5 337.5v-2.4M523.33 337.5v-2.4M554.17 337.5v-2.4M585 337.5v-2.4M615.83 337.5v-2.4M646.67 337.5v-2.4M677.5 337.5v-2.4M507.92 337.5v-1.4M538.75 337.5v-1.4M569.58 337.5v-1.4M600.42 337.5v-1.4M631.25 337.5v-1.4M662.08 337.5v-1.4" stroke="#333333" stroke-width="0.9" fill="none"/><text x="492.5" y="346.3" font-size="6.8" text-anchor="middle" >0</text><text x="523.33" y="346.3" font-size="6.8" text-anchor="middle" >200</text><text x="554.17" y="346.3" font-size="6.8" text-anchor="middle" >400</text><text x="585" y="346.3" font-size="6.8" text-anchor="middle" >600</text><text x="615.83" y="346.3" font-size="6.8" text-anchor="middle" >800</text><text x="646.67" y="346.3" font-size="6.8" text-anchor="middle" >1000</text><text x="677.5" y="346.3" font-size="6.8" text-anchor="middle" >1200</text><text x="590" y="356.5" font-size="9.15" text-anchor="middle" >Time (s)</text><text x="486.7" y="268" font-size="8.7" text-anchor="middle" transform="rotate(-90 486.7 268)" >RL intensity (arb. units)</text><path d="M492.5 235 L495.3 235 L517.5 235.1 L538.7 234.5 L569.5 234.9 L600 235.1 L629.8 235 L656.2 234.9 L676.2 234.6" stroke="#a8acde" stroke-width="0.8" fill="none"/><defs><radialGradient id="gball" cx="0.35" cy="0.35" r="0.7"><stop offset="0" stop-color="#e8e8e8"/><stop offset="0.6" stop-color="#8a8a8a"/><stop offset="1" stop-color="#555"/></radialGradient></defs><circle cx="495.3" cy="235" r="2.2" fill="url(#gball)"/><circle cx="517.5" cy="235.1" r="2.2" fill="url(#gball)"/><circle cx="538.7" cy="234.5" r="2.2" fill="url(#gball)"/><circle cx="569.5" cy="234.9" r="2.2" fill="url(#gball)"/><circle cx="600" cy="235.1" r="2.2" fill="url(#gball)"/><circle cx="629.8" cy="235" r="2.2" fill="url(#gball)"/><circle cx="656.2" cy="234.9" r="2.2" fill="url(#gball)"/><circle cx="676.2" cy="234.6" r="2.2" fill="url(#gball)"/><text x="577" y="246.9" font-size="6.9" >Total dose: 1,099 Gy<tspan dy="1.93" font-size="5.38">air</tspan><tspan dy="-1.93"></tspan></text><path d="M585.5 208.3h16" stroke="#7aa2d8" stroke-width="0.8"/><text x="603" y="210.6" font-size="6.85" >On/Off cycles</text><path d="M585.5 217.6h16" stroke="#a8acde" stroke-width="0.8"/><circle cx="593.8" cy="217.6" r="2.2" fill="url(#gball)"/><text x="603.8" y="219.9" font-size="6.84" >Continuous irradiation</text></svg></body></html>
